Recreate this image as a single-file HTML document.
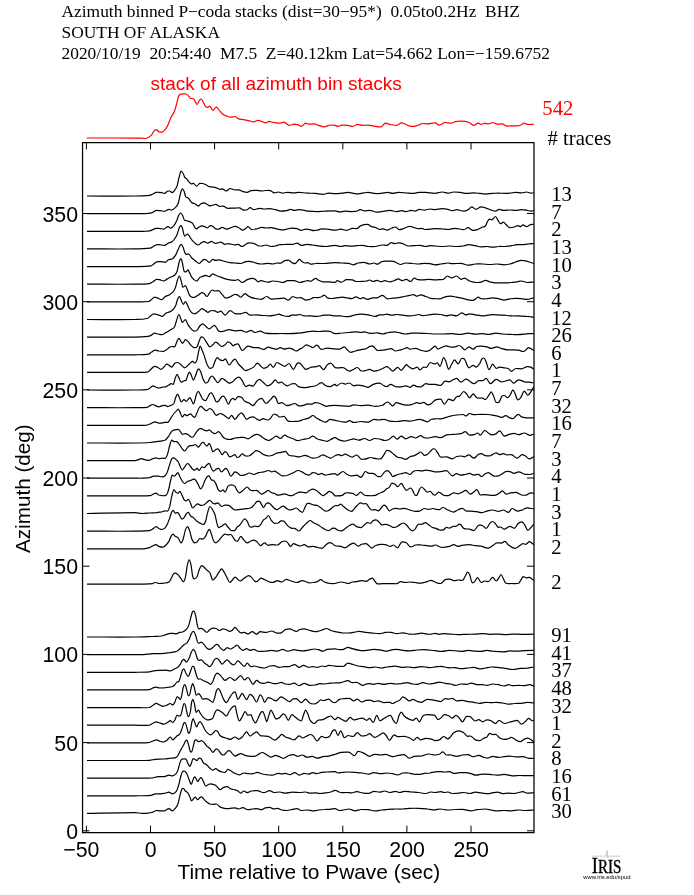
<!DOCTYPE html><html><head><meta charset="utf-8"><title>Azimuth binned P-coda stacks</title>
<style>html,body{margin:0;padding:0;background:#fff}svg{display:block;will-change:transform}.s{font-family:"Liberation Serif",serif}.h{font-family:"Liberation Sans",sans-serif}</style></head><body>
<svg width="694" height="895" viewBox="0 0 694 895">
<rect width="694" height="895" fill="#fff"/>
<g class="s" font-size="17.4" fill="#000">
<text x="61.5" y="16.5" style="white-space:pre">Azimuth binned P−coda stacks (dist=30−95*)  0.05to0.2Hz  BHZ</text>
<text x="61.5" y="37.5">SOUTH OF ALASKA</text>
<text x="61.5" y="59" style="white-space:pre">2020/10/19  20:54:40  M7.5  Z=40.12km Lat=54.662 Lon=−159.6752</text>
</g>
<text class="h" x="150.5" y="89.5" font-size="19" fill="#f00">stack of all azimuth bin stacks</text>
<text class="s" x="542.3" y="114.8" font-size="20.7" fill="#f00">542</text>
<text class="s" x="547.5" y="145.2" font-size="20.7" fill="#000"># traces</text>
<rect x="82.55" y="142.5" width="451.45" height="690.2" fill="none" stroke="#000" stroke-width="1.25" stroke-linejoin="round"/>
<path d="M86.4 832.7 V825.7 M86.4 142.5 V149.5 M150.5 832.7 V825.7 M150.5 142.5 V149.5 M214.6 832.7 V825.7 M214.6 142.5 V149.5 M278.7 832.7 V825.7 M278.7 142.5 V149.5 M342.8 832.7 V825.7 M342.8 142.5 V149.5 M406.9 832.7 V825.7 M406.9 142.5 V149.5 M471.0 832.7 V825.7 M471.0 142.5 V149.5 M82.5 830.8 H89.5 M534.0 830.8 H527.0 M82.5 742.6 H89.5 M534.0 742.6 H527.0 M82.5 654.4 H89.5 M534.0 654.4 H527.0 M82.5 566.2 H89.5 M534.0 566.2 H527.0 M82.5 478.0 H89.5 M534.0 478.0 H527.0 M82.5 389.8 H89.5 M534.0 389.8 H527.0 M82.5 301.7 H89.5 M534.0 301.7 H527.0 M82.5 213.5 H89.5 M534.0 213.5 H527.0" stroke="#000" stroke-width="1" fill="none"/>
<g class="h" font-size="21.3" fill="#000">
<text x="81.4" y="856.7" text-anchor="middle">−50</text>
<text x="150.7" y="856.7" text-anchor="middle">0</text>
<text x="214.8" y="856.7" text-anchor="middle">50</text>
<text x="278.9" y="856.7" text-anchor="middle">100</text>
<text x="343.0" y="856.7" text-anchor="middle">150</text>
<text x="407.1" y="856.7" text-anchor="middle">200</text>
<text x="471.2" y="856.7" text-anchor="middle">250</text>
<text x="78" y="838.8" text-anchor="end">0</text>
<text x="78" y="750.6" text-anchor="end">50</text>
<text x="78" y="662.4" text-anchor="end">100</text>
<text x="78" y="574.2" text-anchor="end">150</text>
<text x="78" y="486.0" text-anchor="end">200</text>
<text x="78" y="397.8" text-anchor="end">250</text>
<text x="78" y="309.7" text-anchor="end">300</text>
<text x="78" y="221.5" text-anchor="end">350</text>
<text x="308.8" y="879.4" font-size="20.9" text-anchor="middle">Time relative to Pwave (sec)</text>
<text transform="translate(29.5,488.7) rotate(-90)" font-size="20.7" text-anchor="middle">Azimuth (deg)</text>
</g>
<path d="M87.0 813.4C103.0 813.1 119.0 812.6 135.0 812.6C137.4 812.6 139.8 813.4 142.2 813.4C143.6 813.4 145.1 813.5 146.5 813.3C148.4 813.1 150.4 812.9 152.3 812.3C153.7 811.9 155.2 810.5 156.6 810.5C157.8 810.5 159.0 810.9 160.2 810.9C161.7 810.9 163.1 811.1 164.5 810.8C166.0 810.4 167.4 808.6 168.9 808.6C170.1 808.6 171.3 810.9 172.5 810.9C173.4 810.9 174.4 809.5 175.3 808.3C176.2 807.2 177.1 806.4 177.9 804.0C178.6 802.1 179.3 797.9 180.0 795.3C180.6 793.0 181.2 790.6 181.8 789.3C182.3 788.3 182.8 788.4 183.3 788.4C184.0 788.4 184.7 790.3 185.4 791.0C186.3 791.9 187.2 792.0 188.0 793.2C188.6 793.9 189.2 795.6 189.8 796.8C190.4 798.1 191.0 800.8 191.6 800.8C192.2 800.8 192.8 799.5 193.4 798.9C194.0 798.3 194.6 797.1 195.2 797.1C196.0 797.1 196.9 799.7 197.7 799.7C198.4 799.7 199.1 798.0 199.8 797.5C200.4 797.1 201.0 796.8 201.6 796.8C202.4 796.8 203.3 798.8 204.2 799.7C205.1 800.6 206.1 801.5 207.0 802.3C208.0 803.0 209.0 803.7 209.9 804.0C211.1 804.4 212.3 804.4 213.5 804.4C214.5 804.4 215.5 804.0 216.4 804.0C217.6 804.0 218.8 806.2 220.0 806.9C221.5 807.7 222.9 808.0 224.3 808.3C225.8 808.6 227.2 808.6 228.7 808.6C230.8 808.6 232.9 807.8 235.0 807.8C236.2 807.8 237.4 809.0 238.6 809.0C240.0 809.0 241.5 807.6 242.9 807.6C244.6 807.6 246.3 809.7 248.0 809.7C249.4 809.7 250.9 809.2 252.3 809.0C253.7 808.8 255.2 808.6 256.6 808.6C258.3 808.6 260.0 809.7 261.7 809.7C262.9 809.7 264.1 808.2 265.3 807.9C266.7 807.4 268.1 807.3 269.6 807.3C271.0 807.3 272.5 809.0 273.9 809.0C275.1 809.0 276.3 808.3 277.5 808.3C278.9 808.3 280.4 809.7 281.8 810.0C283.5 810.4 285.2 810.5 286.9 810.5C288.8 810.5 290.7 809.7 292.6 809.3C294.1 809.0 295.5 808.6 297.0 808.6C298.4 808.6 299.8 810.5 301.3 810.5C303.2 810.5 305.1 810.0 307.0 810.0C309.0 810.0 310.9 810.9 312.8 810.9C314.7 810.9 316.7 810.3 318.6 810.0C320.5 809.8 322.4 809.6 324.3 809.5C326.3 809.3 328.2 809.5 330.1 809.3C331.7 809.2 333.4 808.6 335.0 808.6C336.4 808.6 337.9 810.5 339.3 810.5C340.8 810.5 342.2 810.3 343.6 810.0C345.3 809.8 347.0 809.0 348.7 809.0C350.9 809.0 353.0 810.8 355.2 810.8C357.1 810.8 359.0 809.5 360.9 809.5C363.3 809.5 365.7 809.5 368.1 809.7C370.5 810.0 372.9 810.9 375.3 810.9C377.3 810.9 379.2 810.3 381.1 810.0C383.5 809.7 385.9 809.5 388.3 809.3C390.7 809.1 393.1 809.1 395.5 809.0C397.9 809.0 400.3 809.1 402.7 809.0C405.1 808.9 407.5 808.4 409.9 808.3C412.8 808.2 415.7 808.2 418.6 808.3C421.5 808.4 424.3 808.7 427.2 809.0C429.8 809.3 432.4 809.9 435.0 809.9C436.7 809.9 438.4 809.0 440.0 809.0C442.7 809.0 445.3 810.0 448.0 810.0C450.4 810.0 452.8 809.6 455.2 809.5C457.6 809.3 460.0 809.3 462.4 809.3C465.3 809.3 468.1 810.9 471.0 810.9C472.9 810.9 474.9 810.0 476.8 809.7C479.7 809.4 482.6 809.0 485.4 809.0C487.4 809.0 489.3 809.7 491.2 810.0C493.1 810.3 495.0 810.9 497.0 810.9C499.4 810.9 501.8 810.5 504.2 810.5C506.6 810.5 509.0 810.9 511.4 810.9C513.8 810.9 516.2 810.0 518.6 810.0C521.0 810.0 523.4 810.5 525.8 810.5C528.4 810.5 531.1 810.2 533.7 810.0" stroke="#000" stroke-width="1.2" fill="none" stroke-linejoin="round"/>
<text class="s" x="551.2" y="818.3" font-size="20.7" fill="#000">30</text>
<path d="M87.0 795.8C103.0 795.8 119.0 795.9 135.0 795.8C140.3 795.7 145.6 795.8 150.9 795.3C152.3 795.2 153.7 794.1 155.2 793.9C156.9 793.6 158.5 794.0 160.2 793.9C161.9 793.8 163.6 793.5 165.3 793.2C166.5 792.9 167.7 792.2 168.9 792.2C170.1 792.2 171.3 793.9 172.5 793.9C173.7 793.9 174.9 793.2 176.1 791.7C176.8 790.8 177.5 789.0 178.2 786.7C178.9 784.4 179.7 780.7 180.4 778.0C181.0 775.8 181.6 773.2 182.3 772.0C182.8 770.9 183.4 771.1 184.0 771.1C184.7 771.1 185.4 771.6 186.2 772.6C186.8 773.4 187.4 775.0 188.0 776.6C188.6 778.1 189.2 780.2 189.8 781.6C190.2 782.8 190.7 784.5 191.2 784.5C191.7 784.5 192.2 782.1 192.6 780.9C193.2 779.5 193.8 776.9 194.4 776.9C194.8 776.9 195.3 777.4 195.8 778.0C196.4 778.9 197.1 781.6 197.7 781.6C198.3 781.6 198.9 779.5 199.6 778.8C200.1 778.1 200.7 777.6 201.3 777.6C202.0 777.6 202.7 780.3 203.4 781.6C204.2 783.0 204.9 786.0 205.6 786.0C206.6 786.0 207.5 784.9 208.5 784.5C209.2 784.2 209.9 783.8 210.6 783.8C211.6 783.8 212.6 784.2 213.5 784.5C214.5 784.9 215.5 785.2 216.4 786.0C217.6 786.9 218.8 789.6 220.0 789.6C221.2 789.6 222.4 787.9 223.6 787.4C224.8 786.9 226.0 786.7 227.2 786.7C228.4 786.7 229.6 788.4 230.8 788.9C232.2 789.4 233.6 789.5 235.0 789.9C236.0 790.2 236.9 790.5 237.9 791.0C238.8 791.6 239.8 793.2 240.8 793.2C241.7 793.2 242.7 791.0 243.6 791.0C244.8 791.0 246.0 792.7 247.2 792.7C248.7 792.7 250.1 791.3 251.6 791.0C253.5 790.6 255.4 790.6 257.3 790.6C259.5 790.6 261.7 792.7 263.8 792.7C265.7 792.7 267.7 790.7 269.6 790.7C271.0 790.7 272.5 792.5 273.9 792.5C275.8 792.5 277.7 792.0 279.7 792.0C281.6 792.0 283.5 793.2 285.4 793.2C287.8 793.2 290.2 792.2 292.6 792.2C295.0 792.2 297.4 792.5 299.8 792.5C301.8 792.5 303.7 792.0 305.6 792.0C307.0 792.0 308.5 793.2 309.9 793.2C311.6 793.2 313.3 792.9 315.0 792.9C316.7 792.9 318.3 793.5 320.0 793.5C321.9 793.5 323.9 793.1 325.8 792.9C327.5 792.7 329.1 792.5 330.8 792.0C332.2 791.6 333.6 790.3 335.0 790.3C336.9 790.3 338.8 792.1 340.8 792.5C342.7 792.8 344.6 792.4 346.5 792.5C348.2 792.5 349.9 792.9 351.6 792.9C353.3 792.9 354.9 791.7 356.6 791.7C359.0 791.7 361.4 792.9 363.8 793.2C365.7 793.4 367.7 793.5 369.6 793.2C371.0 792.9 372.5 791.3 373.9 791.3C375.8 791.3 377.7 792.2 379.7 792.2C381.3 792.2 383.0 791.0 384.7 791.0C386.4 791.0 388.1 792.5 389.8 792.5C391.7 792.5 393.6 791.4 395.5 791.4C397.0 791.4 398.4 792.5 399.8 792.5C401.3 792.5 402.7 791.3 404.2 791.3C406.6 791.3 409.0 791.8 411.4 792.0C413.8 792.2 416.2 792.2 418.6 792.5C421.0 792.7 423.4 793.5 425.8 793.5C427.5 793.5 429.1 792.0 430.8 792.0C432.2 792.0 433.6 792.5 435.0 792.5C436.9 792.5 438.8 791.7 440.8 791.7C442.0 791.7 443.2 792.5 444.4 792.5C445.6 792.5 446.8 792.0 448.0 792.0C449.4 792.0 450.9 793.5 452.3 793.5C454.2 793.5 456.1 793.3 458.1 793.2C460.0 793.0 461.9 792.5 463.8 792.5C465.7 792.5 467.7 793.5 469.6 793.5C471.5 793.5 473.4 792.2 475.3 792.2C477.3 792.2 479.2 792.7 481.1 792.9C483.5 793.2 485.9 793.6 488.3 793.6C489.8 793.6 491.2 793.0 492.6 792.7C494.3 792.5 496.0 792.2 497.7 792.2C499.4 792.2 501.0 793.6 502.7 793.6C504.6 793.6 506.6 793.2 508.5 793.2C510.4 793.2 512.3 793.5 514.3 793.5C515.7 793.5 517.1 792.7 518.6 792.5C520.0 792.2 521.5 791.7 522.9 791.7C524.3 791.7 525.8 793.2 527.2 793.2C529.4 793.2 531.5 792.9 533.7 792.7" stroke="#000" stroke-width="1.2" fill="none" stroke-linejoin="round"/>
<text class="s" x="551.2" y="800.7" font-size="20.7" fill="#000">61</text>
<path d="M87.0 778.1C103.0 778.1 119.0 778.2 135.0 778.1C140.8 778.1 146.5 778.1 152.3 777.8C154.2 777.6 156.1 776.8 158.1 776.6C160.2 776.4 162.4 776.9 164.5 776.6C166.0 776.4 167.4 775.2 168.9 775.2C170.1 775.2 171.3 775.9 172.5 775.9C173.7 775.9 174.9 775.0 176.1 773.7C176.7 773.1 177.3 771.9 177.9 770.1C178.5 768.5 179.1 765.4 179.7 763.6C180.2 761.9 180.8 760.2 181.4 759.6C182.3 758.7 183.1 759.0 184.0 759.0C184.7 759.0 185.4 758.5 186.2 759.3C186.8 760.0 187.4 762.4 188.0 763.6C188.6 764.8 189.2 766.5 189.8 766.5C190.3 766.5 190.9 764.3 191.5 762.9C192.0 761.7 192.5 758.6 193.1 758.6C193.6 758.6 194.2 759.0 194.8 759.3C195.5 759.7 196.2 760.5 197.0 760.5C197.7 760.5 198.4 758.2 199.1 758.2C199.7 758.2 200.4 757.9 201.0 758.6C201.8 759.5 202.6 762.0 203.4 762.9C204.4 764.0 205.4 763.6 206.3 764.4C207.5 765.3 208.7 767.2 209.9 768.2C210.9 769.1 211.8 770.1 212.8 770.1C213.8 770.1 214.7 768.7 215.7 768.7C216.7 768.7 217.6 770.1 218.6 770.6C219.8 771.2 221.0 771.7 222.2 772.0C223.1 772.3 224.1 772.3 225.1 772.3C226.0 772.3 227.0 769.4 227.9 769.4C228.9 769.4 229.9 770.3 230.8 770.8C232.2 771.6 233.6 772.8 235.0 773.4C236.4 774.1 237.9 774.9 239.3 774.9C240.8 774.9 242.2 773.0 243.6 773.0C245.3 773.0 247.0 773.6 248.7 773.7C250.1 773.8 251.6 774.0 253.0 773.7C254.5 773.5 255.9 772.3 257.3 772.3C259.0 772.3 260.7 773.6 262.4 774.0C264.3 774.5 266.2 774.7 268.1 774.9C269.6 775.0 271.0 775.2 272.5 775.2C274.4 775.2 276.3 773.4 278.2 773.4C279.4 773.4 280.6 774.0 281.8 774.0C283.0 774.0 284.2 773.3 285.4 773.3C286.9 773.3 288.3 774.7 289.8 774.7C291.4 774.7 293.1 772.6 294.8 772.6C296.2 772.6 297.7 775.2 299.1 775.2C300.8 775.2 302.5 773.3 304.2 773.3C305.6 773.3 307.0 774.2 308.5 774.2C309.9 774.2 311.4 772.6 312.8 772.6C314.0 772.6 315.2 773.7 316.4 773.7C318.1 773.7 319.8 772.6 321.5 772.3C323.4 772.0 325.3 772.1 327.2 772.0C329.8 771.9 332.4 771.6 335.0 771.6C336.0 771.6 336.9 773.0 337.9 773.0C339.3 773.0 340.8 772.4 342.2 772.3C344.1 772.1 346.0 772.0 348.0 772.0C350.4 772.0 352.8 772.1 355.2 772.3C357.6 772.5 360.0 772.7 362.4 773.0C364.5 773.3 366.7 774.2 368.9 774.2C370.3 774.2 371.7 772.6 373.2 772.6C375.8 772.6 378.5 773.7 381.1 773.7C383.0 773.7 385.0 773.0 386.9 773.0C388.8 773.0 390.7 773.4 392.6 773.7C394.3 774.0 396.0 774.9 397.7 774.9C399.4 774.9 401.0 773.3 402.7 773.0C404.6 772.7 406.6 772.8 408.5 773.0C410.2 773.2 411.8 773.9 413.5 774.2C415.2 774.4 416.9 774.4 418.6 774.4C420.5 774.4 422.4 773.7 424.3 773.4C426.3 773.2 428.2 773.3 430.1 773.0C431.7 772.7 433.4 772.0 435.0 771.8C436.9 771.5 438.8 771.6 440.8 771.6C442.2 771.6 443.6 772.0 445.1 772.0C446.5 772.0 448.0 771.6 449.4 771.6C450.9 771.6 452.3 773.4 453.7 773.4C455.7 773.4 457.6 772.8 459.5 772.7C461.4 772.6 463.3 772.5 465.3 772.7C467.2 772.9 469.1 773.3 471.0 773.7C472.7 774.1 474.4 775.2 476.1 775.2C478.2 775.2 480.4 774.2 482.6 774.2C485.0 774.2 487.4 774.3 489.8 774.4C492.2 774.6 494.6 775.2 497.0 775.2C499.4 775.2 501.8 774.4 504.2 774.4C507.0 774.4 509.9 775.9 512.8 775.9C515.2 775.9 517.6 775.5 520.0 775.5C522.4 775.5 524.8 775.6 527.2 775.6C529.4 775.6 531.5 775.6 533.7 775.6" stroke="#000" stroke-width="1.2" fill="none" stroke-linejoin="round"/>
<text class="s" x="551.2" y="783.0" font-size="20.7" fill="#000">16</text>
<path d="M87.0 760.5C103.0 760.5 119.0 760.5 135.0 760.5C139.8 760.5 144.6 760.6 149.4 760.3C151.3 760.2 153.3 759.5 155.2 759.3C158.1 759.1 160.9 759.2 163.8 759.0C166.2 758.9 168.6 758.5 171.0 758.2C172.7 757.9 174.4 758.2 176.1 757.4C176.8 757.1 177.5 756.2 178.2 755.0C179.2 753.4 180.1 751.0 181.1 749.2C182.1 747.4 183.0 746.0 184.0 744.2C184.6 743.1 185.1 741.2 185.7 740.6C186.2 740.0 186.7 739.9 187.2 740.6C187.6 741.3 188.1 743.2 188.6 744.9C189.1 746.8 189.7 750.2 190.2 751.4C190.7 752.5 191.1 751.8 191.6 751.8C192.1 751.8 192.6 748.8 193.1 747.1C193.6 745.0 194.2 741.9 194.8 740.6C195.3 739.5 195.8 739.9 196.2 739.9C197.0 739.9 197.7 741.7 198.4 741.7C199.4 741.7 200.3 740.6 201.3 740.6C202.2 740.6 203.2 741.8 204.2 742.7C205.1 743.7 206.1 745.4 207.0 746.3C208.0 747.3 209.0 747.5 209.9 748.5C210.9 749.5 211.8 752.4 212.8 752.4C214.0 752.4 215.2 748.9 216.4 748.9C217.1 748.9 217.9 749.6 218.6 750.4C219.5 751.4 220.5 753.4 221.5 754.3C222.2 754.9 222.9 755.0 223.6 755.0C224.8 755.0 226.0 752.3 227.2 751.4C227.9 750.8 228.7 750.7 229.4 750.7C230.3 750.7 231.3 752.6 232.3 753.6C233.2 754.4 234.1 756.1 235.0 756.1C236.9 756.1 238.8 753.6 240.8 753.6C242.4 753.6 244.1 755.2 245.8 755.7C247.5 756.2 249.2 756.4 250.9 756.4C252.3 756.4 253.7 756.6 255.2 756.1C256.6 755.7 258.1 754.3 259.5 753.6C260.5 753.1 261.4 752.5 262.4 752.5C263.6 752.5 264.8 753.6 266.0 754.3C267.7 755.2 269.3 757.2 271.0 757.2C272.5 757.2 273.9 755.4 275.3 755.4C276.5 755.4 277.7 756.0 278.9 756.4C280.4 757.0 281.8 758.3 283.3 758.3C285.0 758.3 286.6 756.3 288.3 755.7C290.0 755.1 291.7 754.7 293.4 754.7C294.8 754.7 296.2 756.4 297.7 756.4C299.1 756.4 300.6 755.0 302.0 755.0C303.7 755.0 305.4 757.2 307.0 757.2C308.7 757.2 310.4 756.4 312.1 756.4C313.8 756.4 315.5 758.2 317.1 758.2C319.1 758.2 321.0 757.1 322.9 756.7C324.8 756.4 326.7 756.5 328.7 756.1C330.8 755.7 332.9 754.9 335.0 754.3C336.9 753.7 338.8 752.7 340.8 752.4C343.4 752.0 346.0 752.1 348.7 752.1C350.6 752.1 352.5 755.7 354.5 755.7C355.7 755.7 356.9 751.4 358.1 751.4C360.0 751.4 361.9 752.3 363.8 753.1C365.7 754.0 367.7 756.4 369.6 756.4C371.3 756.4 372.9 754.3 374.6 754.3C376.8 754.3 378.9 755.0 381.1 755.0C382.6 755.0 384.0 754.3 385.4 754.3C387.8 754.3 390.2 756.7 392.6 756.7C394.6 756.7 396.5 755.6 398.4 755.3C400.3 754.9 402.2 754.6 404.2 754.6C405.8 754.6 407.5 758.2 409.2 758.2C410.9 758.2 412.6 756.7 414.3 756.4C416.7 756.0 419.1 756.4 421.5 756.0C423.9 755.6 426.3 754.0 428.7 754.0C430.8 754.0 432.9 755.0 435.0 755.0C436.4 755.0 437.9 754.8 439.3 754.3C440.5 753.8 441.7 751.8 442.9 751.8C443.9 751.8 444.8 754.3 445.8 754.7C447.5 755.4 449.2 754.7 450.9 755.0C452.8 755.3 454.7 756.4 456.6 756.4C458.5 756.4 460.5 755.3 462.4 755.0C464.3 754.7 466.2 754.7 468.1 754.7C469.8 754.7 471.5 756.7 473.2 756.7C475.1 756.7 477.0 755.4 478.9 755.4C480.4 755.4 481.8 756.7 483.3 757.2C484.7 757.6 486.2 758.2 487.6 758.2C489.3 758.2 491.0 756.4 492.6 756.4C494.6 756.4 496.5 757.4 498.4 757.4C500.3 757.4 502.2 756.9 504.2 756.7C506.1 756.5 508.0 756.1 509.9 756.1C511.8 756.1 513.8 756.9 515.7 756.9C518.1 756.9 520.5 756.7 522.9 756.7C524.8 756.7 526.7 758.0 528.7 758.3C530.3 758.6 532.0 758.3 533.7 758.3" stroke="#000" stroke-width="1.2" fill="none" stroke-linejoin="round"/>
<text class="s" x="551.2" y="765.4" font-size="20.7" fill="#000">8</text>
<path d="M87.0 742.8C103.0 742.8 119.0 742.9 135.0 742.8C139.3 742.8 143.6 743.1 148.0 742.7C149.4 742.6 150.9 741.8 152.3 741.3C153.7 740.8 155.2 739.9 156.6 739.9C157.8 739.9 159.0 740.9 160.2 741.3C161.2 741.6 162.1 742.0 163.1 742.0C164.3 742.0 165.5 741.4 166.7 740.6C167.9 739.7 169.1 737.0 170.3 737.0C171.1 737.0 171.9 739.9 172.8 739.9C173.4 739.9 174.0 739.0 174.6 738.4C175.6 737.5 176.5 736.4 177.5 735.5C178.2 734.9 178.9 735.2 179.7 734.1C180.4 733.0 181.1 731.0 181.8 729.1C182.5 727.4 183.1 724.5 183.7 723.3C184.2 722.4 184.7 722.6 185.1 722.6C185.7 722.6 186.3 725.8 186.9 727.6C187.4 729.4 188.0 733.4 188.6 733.4C189.2 733.4 189.9 731.9 190.5 729.8C191.0 728.1 191.4 723.9 191.9 721.9C192.3 720.2 192.7 718.7 193.1 718.7C193.6 718.7 194.2 721.3 194.8 722.6C195.4 724.0 196.0 726.9 196.7 726.9C197.2 726.9 197.8 724.2 198.4 723.3C199.0 722.4 199.6 721.6 200.1 721.6C200.9 721.6 201.7 723.4 202.4 724.7C203.3 726.1 204.1 728.5 204.9 729.8C205.8 731.3 206.8 732.5 207.8 733.4C208.7 734.2 209.7 734.8 210.6 734.8C211.6 734.8 212.6 733.5 213.5 732.7C214.3 732.0 215.0 730.5 215.7 730.5C216.3 730.5 216.8 730.5 217.4 731.2C218.3 732.2 219.1 734.7 220.0 735.5C221.2 736.7 222.4 736.9 223.6 737.4C224.8 737.9 226.0 738.0 227.2 738.4C228.2 738.7 229.1 739.4 230.1 739.4C231.7 739.4 233.4 737.0 235.0 737.0C236.2 737.0 237.4 739.1 238.6 739.1C239.8 739.1 241.0 738.1 242.2 737.0C243.6 735.7 245.1 731.9 246.5 731.9C247.7 731.9 248.9 736.0 250.1 736.0C251.3 736.0 252.5 734.1 253.7 733.4C254.7 732.8 255.7 731.9 256.6 731.9C257.8 731.9 259.0 734.9 260.2 735.5C261.4 736.2 262.6 735.8 263.8 736.0C265.7 736.3 267.7 736.3 269.6 737.0C271.4 737.7 273.2 740.1 275.1 740.1C276.1 740.1 277.2 738.6 278.2 737.7C279.4 736.7 280.6 734.4 281.8 734.4C283.0 734.4 284.2 736.4 285.4 737.0C286.9 737.7 288.3 737.9 289.8 738.4C291.2 738.9 292.6 739.9 294.1 739.9C295.8 739.9 297.4 735.8 299.1 735.8C300.3 735.8 301.5 738.0 302.7 738.0C303.9 738.0 305.1 736.8 306.3 736.3C307.8 735.6 309.2 734.5 310.6 734.5C311.6 734.5 312.6 735.3 313.5 736.3C314.7 737.5 315.9 741.0 317.1 741.0C318.6 741.0 320.0 736.3 321.5 736.3C322.7 736.3 323.9 737.7 325.1 737.7C326.5 737.7 327.9 737.9 329.4 736.5C330.6 735.5 331.8 731.9 333.0 730.5C333.7 729.7 334.3 729.8 335.0 729.8C336.0 729.8 336.9 735.5 337.9 735.5C338.8 735.5 339.8 730.8 340.8 730.8C342.0 730.8 343.2 737.7 344.4 737.7C345.6 737.7 346.8 735.5 348.0 735.5C349.6 735.5 351.3 736.5 353.0 736.5C354.5 736.5 355.9 732.7 357.3 732.7C358.8 732.7 360.2 736.0 361.7 736.0C363.1 736.0 364.5 736.0 366.0 735.5C367.2 735.2 368.4 733.7 369.6 733.7C371.3 733.7 372.9 737.4 374.6 737.4C376.1 737.4 377.5 736.3 378.9 735.5C380.4 734.8 381.8 732.9 383.3 732.9C384.2 732.9 385.2 734.4 386.2 735.5C387.3 736.8 388.4 740.3 389.5 740.3C391.0 740.3 392.5 734.8 394.1 734.8C395.3 734.8 396.5 736.7 397.7 736.7C399.8 736.7 402.0 736.3 404.2 736.3C406.1 736.3 408.0 737.2 409.9 738.0C411.1 738.5 412.3 740.3 413.5 740.3C414.7 740.3 415.9 737.4 417.1 737.4C418.3 737.4 419.5 739.9 420.7 739.9C422.4 739.9 424.1 738.4 425.8 738.4C427.7 738.4 429.6 738.7 431.5 739.1C432.7 739.4 433.8 740.6 435.0 740.6C436.4 740.6 437.9 740.5 439.3 739.9C440.8 739.2 442.2 736.5 443.6 736.5C445.1 736.5 446.5 738.9 448.0 738.9C448.9 738.9 449.9 737.3 450.9 736.3C451.8 735.2 452.8 733.3 453.7 732.7C455.4 731.5 457.1 730.9 458.8 730.9C460.5 730.9 462.1 731.6 463.8 732.7C465.0 733.4 466.2 736.3 467.4 736.3C468.4 736.3 469.3 736.0 470.3 736.0C472.0 736.0 473.7 739.0 475.3 739.9C476.8 740.6 478.2 740.6 479.7 740.6C481.1 740.6 482.6 738.7 484.0 738.0C485.0 737.5 485.9 737.7 486.9 737.0C487.8 736.2 488.8 733.4 489.8 733.4C490.7 733.4 491.7 734.4 492.6 734.5C493.8 734.7 495.0 734.0 496.2 734.5C497.4 735.1 498.6 737.2 499.8 738.0C501.3 738.9 502.7 739.4 504.2 739.4C505.4 739.4 506.6 739.2 507.8 738.9C509.0 738.5 510.2 737.3 511.4 737.3C512.8 737.3 514.3 739.1 515.7 739.9C517.1 740.6 518.6 741.6 520.0 741.6C521.5 741.6 522.9 739.8 524.3 739.1C525.5 738.6 526.7 738.1 527.9 738.1C528.9 738.1 529.9 738.9 530.8 739.6C531.8 740.2 532.7 741.2 533.7 742.0" stroke="#000" stroke-width="1.2" fill="none" stroke-linejoin="round"/>
<text class="s" x="551.2" y="747.8" font-size="20.7" fill="#000">2</text>
<path d="M87.0 725.2C103.0 725.2 119.0 725.2 135.0 725.2C139.8 725.2 144.6 725.6 149.4 725.1C150.6 724.9 151.8 723.8 153.0 723.2C154.1 722.7 155.2 721.8 156.3 721.8C157.4 721.8 158.4 722.4 159.5 722.8C160.9 723.2 162.4 724.2 163.8 724.2C165.0 724.2 166.2 723.1 167.4 722.5C168.4 722.0 169.3 720.7 170.3 720.7C171.1 720.7 171.9 722.5 172.8 722.5C173.5 722.5 174.3 720.9 175.1 719.6C175.7 718.4 176.4 715.0 177.1 715.0C177.7 715.0 178.3 716.0 178.9 716.0C179.6 716.0 180.2 716.5 180.8 715.3C181.3 714.3 181.8 711.3 182.3 709.5C182.8 707.4 183.4 703.5 184.0 703.5C184.5 703.5 185.0 703.6 185.4 705.2C186.0 707.1 186.6 711.7 187.2 713.8C187.6 715.6 188.1 716.7 188.6 716.7C189.2 716.7 189.9 713.9 190.5 711.0C190.9 709.1 191.2 704.1 191.6 702.3C192.1 700.3 192.5 699.4 192.9 699.4C193.4 699.4 193.9 701.9 194.4 703.7C195.0 706.2 195.6 712.4 196.2 712.4C197.0 712.4 197.7 710.2 198.4 710.2C199.1 710.2 199.8 712.8 200.6 713.8C201.5 715.2 202.5 716.5 203.4 717.4C204.6 718.6 205.8 719.9 207.0 719.9C208.0 719.9 209.0 719.9 209.9 719.6C210.9 719.3 211.8 719.5 212.8 718.2C213.5 717.1 214.3 713.8 215.0 712.4C215.7 711.0 216.4 709.8 217.1 709.8C218.1 709.8 219.1 710.4 220.0 711.0C221.0 711.5 221.9 712.4 222.9 713.1C224.1 714.0 225.3 716.0 226.5 716.0C227.5 716.0 228.4 712.4 229.4 711.0C230.3 709.5 231.3 708.2 232.3 707.3C233.2 706.5 234.1 705.9 235.0 705.9C235.7 705.9 236.4 712.8 237.2 715.3C237.9 717.8 238.6 721.0 239.3 721.0C240.3 721.0 241.2 718.3 242.2 716.7C243.2 715.2 244.1 711.7 245.1 711.7C246.0 711.7 247.0 715.3 248.0 715.3C248.9 715.3 249.9 714.6 250.9 714.6C251.6 714.6 252.3 718.3 253.0 719.6C253.8 721.1 254.6 722.9 255.5 722.9C256.3 722.9 257.2 719.8 258.1 718.2C259.0 716.3 260.0 713.7 260.9 712.4C261.5 711.6 262.1 711.7 262.7 711.7C263.3 711.7 263.9 713.7 264.5 715.3C265.3 717.1 266.0 721.8 266.7 721.8C267.4 721.8 268.1 717.2 268.9 715.3C269.6 713.4 270.3 710.2 271.0 710.2C271.7 710.2 272.5 712.6 273.2 713.8C274.1 715.5 275.1 718.9 276.1 718.9C277.3 718.9 278.5 718.3 279.7 717.4C280.9 716.6 282.1 713.8 283.3 713.8C284.0 713.8 284.7 714.3 285.4 715.3C286.4 716.5 287.4 720.3 288.3 720.3C289.5 720.3 290.7 714.6 291.9 714.6C292.9 714.6 293.8 716.0 294.8 716.7C296.0 717.6 297.2 718.8 298.4 719.6C299.4 720.2 300.3 721.0 301.3 721.0C302.0 721.0 302.7 717.1 303.4 715.3C304.2 713.5 304.9 710.2 305.6 710.2C306.3 710.2 307.0 712.2 307.8 713.8C308.5 715.4 309.2 718.8 309.9 719.9C311.4 722.0 312.8 723.5 314.3 723.5C315.5 723.5 316.7 720.9 317.9 720.3C319.5 719.6 321.2 720.1 322.9 719.6C324.3 719.2 325.8 718.1 327.2 717.4C328.4 716.9 329.6 716.0 330.8 716.0C332.2 716.0 333.6 719.6 335.0 719.6C336.0 719.6 336.9 717.4 337.9 717.4C339.1 717.4 340.3 718.7 341.5 719.3C342.9 720.0 344.4 721.3 345.8 721.3C347.2 721.3 348.7 717.4 350.1 717.4C351.3 717.4 352.5 719.9 353.7 719.9C355.2 719.9 356.6 719.2 358.1 718.9C359.5 718.6 360.9 718.2 362.4 718.2C363.8 718.2 365.3 720.3 366.7 720.3C367.7 720.3 368.6 718.4 369.6 718.4C370.8 718.4 372.0 722.5 373.2 722.5C374.4 722.5 375.6 715.3 376.8 715.3C377.7 715.3 378.7 720.7 379.7 720.7C380.9 720.7 382.1 719.5 383.3 718.9C384.5 718.2 385.7 717.3 386.9 716.7C388.1 716.1 389.3 715.3 390.5 715.3C391.4 715.3 392.4 718.9 393.4 720.3C394.3 721.7 395.3 723.5 396.2 723.5C397.2 723.5 398.2 717.4 399.1 715.3C399.8 713.6 400.6 712.1 401.3 712.1C402.2 712.1 403.2 715.1 404.2 716.0C405.6 717.3 407.0 718.2 408.5 718.9C409.9 719.6 411.4 720.3 412.8 720.3C414.0 720.3 415.2 718.2 416.4 718.2C417.4 718.2 418.3 721.8 419.3 721.8C420.5 721.8 421.7 717.1 422.9 716.0C424.3 714.7 425.8 714.6 427.2 714.6C428.4 714.6 429.6 714.7 430.8 714.8C432.2 715.0 433.6 714.7 435.0 715.6C436.0 716.3 436.9 719.6 437.9 719.6C439.1 719.6 440.3 718.4 441.5 717.4C442.4 716.7 443.4 714.6 444.4 714.6C445.8 714.6 447.2 715.1 448.7 715.7C449.9 716.3 451.1 718.2 452.3 718.2C453.5 718.2 454.7 715.3 455.9 715.3C456.9 715.3 457.8 716.5 458.8 717.4C460.0 718.6 461.2 721.8 462.4 721.8C463.8 721.8 465.3 716.4 466.7 716.4C467.9 716.4 469.1 716.1 470.3 716.7C472.0 717.6 473.7 721.0 475.3 721.0C476.5 721.0 477.7 719.6 478.9 719.6C480.1 719.6 481.3 721.8 482.6 721.8C484.0 721.8 485.4 719.9 486.9 719.9C488.3 719.9 489.8 720.1 491.2 720.7C492.6 721.4 494.1 723.6 495.5 723.6C496.7 723.6 497.9 720.3 499.1 720.3C500.8 720.3 502.5 723.5 504.2 723.5C505.6 723.5 507.0 722.8 508.5 722.5C509.9 722.1 511.4 721.7 512.8 721.3C514.3 721.0 515.7 720.3 517.1 720.3C518.6 720.3 520.0 724.2 521.5 724.2C522.7 724.2 523.9 722.7 525.1 721.8C526.3 720.8 527.5 718.4 528.7 718.4C529.6 718.4 530.6 719.8 531.5 720.3C532.3 720.7 533.0 720.8 533.7 721.0" stroke="#000" stroke-width="1.2" fill="none" stroke-linejoin="round"/>
<text class="s" x="551.2" y="730.1" font-size="20.7" fill="#000">1</text>
<path d="M87.0 707.6C103.0 707.6 119.0 707.6 135.0 707.6C139.8 707.6 144.6 708.1 149.4 707.5C150.6 707.3 151.8 705.9 153.0 705.2C154.1 704.5 155.2 703.3 156.3 703.3C157.4 703.3 158.4 704.4 159.5 704.9C160.7 705.4 161.9 706.3 163.1 706.3C164.5 706.3 166.0 705.5 167.4 704.9C168.4 704.5 169.3 703.5 170.3 703.5C171.1 703.5 171.9 704.9 172.8 704.9C173.5 704.9 174.3 703.0 175.1 701.6C175.7 700.3 176.4 696.8 177.1 696.8C177.7 696.8 178.3 697.4 178.9 698.0C179.4 698.4 179.9 699.7 180.4 699.7C180.9 699.7 181.3 697.2 181.8 695.1C182.3 693.0 182.8 688.9 183.3 687.2C183.8 685.4 184.2 684.7 184.7 684.7C185.3 684.7 185.9 686.8 186.4 688.6C187.1 690.5 187.7 695.8 188.3 695.8C188.8 695.8 189.3 695.7 189.8 694.4C190.2 693.1 190.7 689.7 191.2 687.9C191.7 686.1 192.2 683.6 192.6 683.6C193.2 683.6 193.8 686.1 194.4 687.9C195.0 689.9 195.6 695.1 196.2 695.1C197.1 695.1 197.9 693.7 198.7 693.7C199.3 693.7 199.9 695.0 200.6 695.8C201.3 696.8 202.0 699.1 202.7 699.1C203.7 699.1 204.6 698.7 205.6 698.7C206.8 698.7 208.0 699.1 209.2 699.7C210.4 700.3 211.6 702.3 212.8 702.3C213.4 702.3 214.0 699.8 214.5 698.0C215.2 696.0 215.8 692.3 216.4 690.8C217.0 689.2 217.7 688.6 218.3 688.6C219.1 688.6 219.9 690.6 220.7 692.2C221.7 694.2 222.7 697.7 223.6 699.4C224.6 701.2 225.5 702.6 226.5 702.6C227.5 702.6 228.4 699.5 229.4 698.0C230.3 696.5 231.3 694.7 232.3 693.7C233.2 692.7 234.1 691.9 235.0 691.9C236.0 691.9 236.9 699.4 237.9 699.4C239.3 699.4 240.8 693.4 242.2 693.4C243.6 693.4 245.1 699.7 246.5 699.7C247.7 699.7 248.9 694.4 250.1 694.4C251.1 694.4 252.1 695.4 253.0 696.5C254.2 698.0 255.4 702.0 256.6 702.0C257.8 702.0 259.0 694.8 260.2 694.8C260.9 694.8 261.7 696.0 262.4 697.3C263.1 698.5 263.8 702.3 264.5 702.3C265.7 702.3 266.9 697.7 268.1 697.7C269.3 697.7 270.5 698.2 271.7 698.7C273.2 699.3 274.6 700.9 276.1 700.9C277.7 700.9 279.4 696.8 281.1 696.8C282.3 696.8 283.5 698.0 284.7 698.7C286.4 699.6 288.1 701.6 289.8 701.6C290.7 701.6 291.7 699.6 292.6 699.1C293.8 698.6 295.0 698.7 296.2 698.7C297.9 698.7 299.6 702.6 301.3 702.6C302.7 702.6 304.2 699.1 305.6 699.1C306.8 699.1 308.0 702.1 309.2 702.7C310.9 703.7 312.6 704.0 314.3 704.0C315.5 704.0 316.7 703.1 317.9 702.3C318.8 701.7 319.8 699.9 320.7 699.9C321.7 699.9 322.7 700.6 323.6 700.6C325.3 700.6 327.0 699.1 328.7 699.1C329.9 699.1 331.1 701.4 332.3 702.0C333.2 702.5 334.1 702.6 335.0 702.6C336.4 702.6 337.9 700.1 339.3 699.4C340.8 698.8 342.2 698.8 343.6 698.7C345.6 698.5 347.5 698.4 349.4 698.4C350.9 698.4 352.3 700.9 353.7 700.9C354.9 700.9 356.1 699.1 357.3 699.1C358.8 699.1 360.2 702.0 361.7 702.0C363.1 702.0 364.5 700.7 366.0 700.4C367.4 700.1 368.9 700.1 370.3 700.1C371.5 700.1 372.7 701.6 373.9 701.6C375.3 701.6 376.8 700.9 378.2 700.9C380.1 700.9 382.1 702.6 384.0 702.6C385.9 702.6 387.8 702.3 389.8 702.3C390.7 702.3 391.7 703.5 392.6 703.5C394.1 703.5 395.5 702.0 397.0 701.3C397.9 700.9 398.9 700.9 399.8 700.1C400.8 699.4 401.8 696.8 402.7 696.8C403.7 696.8 404.6 697.7 405.6 698.3C406.8 699.0 408.0 700.9 409.2 700.9C410.4 700.9 411.6 699.4 412.8 699.4C414.3 699.4 415.7 700.8 417.1 701.3C418.6 701.8 420.0 702.3 421.5 702.3C423.4 702.3 425.3 699.4 427.2 699.4C429.8 699.4 432.4 699.9 435.0 700.3C436.9 700.6 438.8 701.6 440.8 701.6C442.2 701.6 443.6 698.7 445.1 698.7C446.3 698.7 447.5 699.1 448.7 699.1C449.9 699.1 451.1 698.4 452.3 698.4C453.7 698.4 455.2 700.9 456.6 700.9C458.5 700.9 460.5 700.4 462.4 700.4C464.3 700.4 466.2 701.3 468.1 701.6C470.1 701.9 472.0 702.0 473.9 702.3C475.8 702.6 477.7 703.3 479.7 703.3C481.6 703.3 483.5 702.3 485.4 702.3C487.4 702.3 489.3 702.7 491.2 702.7C493.1 702.7 495.0 702.3 497.0 702.3C498.9 702.3 500.8 702.7 502.7 703.0C504.6 703.3 506.6 704.2 508.5 704.2C510.4 704.2 512.3 703.6 514.3 703.5C516.7 703.3 519.1 703.5 521.5 703.3C523.4 703.1 525.3 702.3 527.2 702.3C529.4 702.3 531.5 702.8 533.7 703.0" stroke="#000" stroke-width="1.2" fill="none" stroke-linejoin="round"/>
<text class="s" x="551.2" y="712.5" font-size="20.7" fill="#000">32</text>
<path d="M87.0 689.9C103.0 689.9 119.0 690.0 135.0 689.9C139.8 689.9 144.6 690.2 149.4 689.6C150.6 689.5 151.8 688.3 153.0 687.9C154.0 687.5 154.9 687.2 155.9 687.2C157.1 687.2 158.3 687.8 159.5 687.9C160.9 688.0 162.4 688.0 163.8 687.9C165.5 687.8 167.2 687.4 168.9 687.2C170.2 687.0 171.5 686.9 172.8 686.5C173.4 686.2 174.0 685.7 174.6 685.0C175.3 684.2 176.1 682.7 176.8 682.1C177.5 681.5 178.2 682.6 178.9 681.4C179.6 680.4 180.2 677.6 180.8 675.6C181.4 673.8 182.0 671.1 182.6 669.9C183.0 668.9 183.5 669.2 184.0 669.2C184.6 669.2 185.1 671.8 185.7 672.8C186.6 674.2 187.4 676.4 188.3 676.4C189.0 676.4 189.8 673.0 190.5 671.3C191.2 669.6 191.9 666.3 192.6 666.3C193.1 666.3 193.6 666.0 194.1 667.0C194.6 668.0 195.0 670.5 195.5 672.0C196.2 674.4 197.0 677.5 197.7 678.5C198.6 679.8 199.6 678.6 200.6 679.0C201.5 679.3 202.5 680.2 203.4 680.7C204.6 681.3 205.8 681.5 207.0 682.1C208.2 682.7 209.4 684.3 210.6 684.3C211.4 684.3 212.1 682.9 212.8 681.4C213.5 680.0 214.3 677.0 215.0 675.6C215.7 674.3 216.4 673.2 217.1 673.2C218.1 673.2 219.1 674.0 220.0 674.9C221.0 675.8 221.9 677.5 222.9 678.5C223.6 679.3 224.3 680.4 225.1 680.4C226.0 680.4 227.0 679.1 227.9 678.5C228.7 678.1 229.4 677.5 230.1 677.5C231.7 677.5 233.4 680.4 235.0 680.4C236.0 680.4 236.9 678.6 237.9 677.8C238.8 677.0 239.8 675.6 240.8 675.6C242.0 675.6 243.2 680.0 244.4 680.0C245.6 680.0 246.8 677.5 248.0 677.5C248.7 677.5 249.4 679.0 250.1 680.0C251.1 681.3 252.1 684.3 253.0 684.3C254.2 684.3 255.4 680.4 256.6 680.4C257.8 680.4 259.0 682.4 260.2 682.9C261.4 683.3 262.6 683.3 263.8 683.3C265.3 683.3 266.7 682.1 268.1 682.1C269.6 682.1 271.0 683.0 272.5 683.3C273.9 683.5 275.3 683.6 276.8 683.6C278.2 683.6 279.7 682.4 281.1 682.4C282.6 682.4 284.0 683.7 285.4 684.0C286.9 684.3 288.3 684.3 289.8 684.3C291.2 684.3 292.6 683.1 294.1 683.1C295.8 683.1 297.4 685.7 299.1 685.7C300.8 685.7 302.5 683.3 304.2 683.3C306.1 683.3 308.0 685.4 309.9 685.4C311.6 685.4 313.3 685.3 315.0 685.0C316.7 684.7 318.3 683.6 320.0 683.6C321.5 683.6 322.9 684.0 324.3 684.0C326.3 684.0 328.2 683.3 330.1 683.1C331.7 683.0 333.4 682.9 335.0 682.9C336.9 682.7 338.8 682.9 340.8 682.6C343.2 682.2 345.6 680.7 348.0 680.7C349.4 680.7 350.9 682.6 352.3 682.6C353.7 682.6 355.2 682.4 356.6 682.4C358.5 682.4 360.5 685.3 362.4 685.3C364.3 685.3 366.2 683.6 368.1 683.6C370.1 683.6 372.0 684.3 373.9 684.3C375.3 684.3 376.8 683.3 378.2 683.3C380.1 683.3 382.1 684.3 384.0 684.3C385.9 684.3 387.8 683.3 389.8 683.3C391.7 683.3 393.6 684.0 395.5 684.0C397.4 684.0 399.4 683.8 401.3 683.6C403.2 683.3 405.1 682.6 407.0 682.6C409.0 682.6 410.9 683.7 412.8 684.0C414.3 684.3 415.7 684.3 417.1 684.3C419.1 684.3 421.0 682.6 422.9 682.6C424.8 682.6 426.7 684.0 428.7 684.0C430.8 684.0 432.9 683.5 435.0 683.1C436.4 682.9 437.9 682.1 439.3 682.1C441.2 682.1 443.2 683.0 445.1 683.3C447.0 683.6 448.9 683.6 450.9 684.0C452.3 684.3 453.7 685.4 455.2 685.4C457.1 685.4 459.0 684.0 460.9 684.0C462.9 684.0 464.8 684.3 466.7 684.3C468.1 684.3 469.6 683.1 471.0 683.1C472.9 683.1 474.9 684.3 476.8 684.6C478.7 684.8 480.6 684.6 482.6 684.7C484.0 684.8 485.4 685.4 486.9 685.4C488.8 685.4 490.7 684.0 492.6 684.0C494.6 684.0 496.5 684.4 498.4 684.7C500.3 685.1 502.2 686.0 504.2 686.0C505.6 686.0 507.0 684.7 508.5 684.7C509.9 684.7 511.4 685.7 512.8 685.7C514.7 685.7 516.7 685.3 518.6 685.3C520.5 685.3 522.4 685.7 524.3 685.7C526.0 685.7 527.7 684.6 529.4 684.6C530.8 684.6 532.3 685.6 533.7 686.2" stroke="#000" stroke-width="1.2" fill="none" stroke-linejoin="round"/>
<text class="s" x="551.2" y="694.9" font-size="20.7" fill="#000">48</text>
<path d="M87.0 672.3C103.0 672.3 119.0 672.4 135.0 672.3C139.8 672.2 144.6 672.2 149.4 671.8C151.3 671.6 153.3 670.8 155.2 670.6C157.1 670.4 159.0 670.4 160.9 670.3C162.6 670.2 164.3 670.2 166.0 670.2C167.4 670.2 168.9 670.9 170.3 670.9C171.5 670.9 172.7 669.7 173.9 669.2C175.1 668.6 176.3 668.4 177.5 667.4C178.5 666.7 179.4 665.5 180.4 664.1C181.0 663.2 181.6 661.3 182.3 660.5C182.8 659.8 183.4 659.4 184.0 659.4C184.7 659.4 185.4 662.0 186.2 662.0C187.1 662.0 188.1 660.1 189.0 658.4C189.8 657.0 190.5 654.1 191.2 652.6C191.9 651.1 192.6 649.3 193.4 649.3C194.1 649.3 194.8 650.9 195.5 652.6C196.1 653.9 196.7 657.1 197.2 658.4C197.9 659.7 198.5 660.5 199.1 660.5C199.8 660.5 200.6 659.8 201.3 659.8C202.2 659.8 203.2 661.8 204.2 662.7C205.1 663.5 206.1 664.2 207.0 664.8C208.0 665.5 209.0 666.6 209.9 666.6C210.6 666.6 211.4 665.2 212.1 664.1C212.8 663.0 213.5 660.7 214.3 659.8C215.1 658.8 216.0 658.4 216.8 658.4C217.7 658.4 218.5 659.6 219.3 660.5C220.3 661.6 221.2 664.1 222.2 664.1C223.1 664.1 224.1 662.1 225.1 661.2C225.8 660.6 226.5 659.8 227.2 659.8C228.2 659.8 229.1 661.8 230.1 662.7C231.1 663.5 232.0 664.8 233.0 664.8C233.7 664.8 234.3 664.7 235.0 664.1C236.0 663.3 236.9 660.8 237.9 660.8C239.1 660.8 240.3 663.1 241.5 664.1C242.4 664.9 243.4 666.3 244.4 666.3C245.3 666.3 246.3 663.1 247.2 663.1C248.4 663.1 249.6 666.6 250.9 666.6C252.1 666.6 253.3 666.0 254.5 666.0C255.7 666.0 256.9 666.8 258.1 667.0C260.2 667.4 262.4 668.0 264.5 668.0C266.2 668.0 267.9 666.4 269.6 666.0C271.0 665.6 272.5 665.6 273.9 665.6C275.6 665.6 277.3 667.4 278.9 667.4C280.6 667.4 282.3 666.9 284.0 666.7C285.9 666.5 287.8 666.7 289.8 666.3C291.4 665.9 293.1 664.6 294.8 664.6C296.2 664.6 297.7 667.4 299.1 667.4C300.6 667.4 302.0 665.3 303.4 665.3C305.1 665.3 306.8 667.4 308.5 667.4C309.9 667.4 311.4 666.6 312.8 666.6C314.3 666.6 315.7 667.4 317.1 667.4C318.8 667.4 320.5 666.0 322.2 666.0C323.1 666.0 324.1 666.6 325.1 666.6C326.3 666.6 327.5 665.3 328.7 665.3C330.8 665.3 332.9 665.9 335.0 666.1C336.4 666.3 337.9 666.3 339.3 666.3C340.8 666.3 342.2 666.8 343.6 666.3C345.1 665.8 346.5 663.1 348.0 663.1C349.2 663.1 350.4 663.8 351.6 664.1C353.7 664.7 355.9 665.5 358.1 666.0C360.0 666.4 361.9 666.4 363.8 666.7C365.7 667.0 367.7 667.7 369.6 667.7C371.5 667.7 373.4 667.0 375.3 667.0C377.3 667.0 379.2 668.0 381.1 668.0C383.0 668.0 385.0 667.3 386.9 667.0C388.8 666.7 390.7 666.4 392.6 666.3C394.1 666.2 395.5 666.1 397.0 666.3C398.9 666.5 400.8 667.4 402.7 667.4C404.6 667.4 406.6 667.0 408.5 667.0C410.4 667.0 412.3 667.7 414.3 667.7C416.7 667.7 419.1 666.7 421.5 666.7C422.9 666.7 424.3 666.8 425.8 667.0C427.2 667.2 428.7 667.7 430.1 667.7C431.7 667.7 433.4 667.0 435.0 666.8C436.9 666.5 438.8 666.3 440.8 666.3C443.2 666.3 445.6 667.5 448.0 667.7C450.4 668.0 452.8 667.5 455.2 667.7C457.1 667.9 459.0 668.7 460.9 668.7C463.3 668.7 465.7 668.3 468.1 668.0C470.1 667.8 472.0 667.4 473.9 667.4C475.8 667.4 477.7 668.9 479.7 668.9C481.6 668.9 483.5 668.3 485.4 668.0C487.4 667.7 489.3 667.0 491.2 667.0C493.1 667.0 495.0 667.3 497.0 667.4C499.4 667.6 501.8 667.8 504.2 668.2C507.0 668.5 509.9 669.5 512.8 669.5C515.2 669.5 517.6 668.7 520.0 668.4C522.4 668.2 524.8 668.4 527.2 668.2C529.4 667.9 531.5 667.4 533.7 667.0" stroke="#000" stroke-width="1.2" fill="none" stroke-linejoin="round"/>
<text class="s" x="551.2" y="677.2" font-size="20.7" fill="#000">37</text>
<path d="M87.0 654.6C103.0 654.6 119.0 654.6 135.0 654.6C137.9 654.6 140.8 654.8 143.6 654.6C146.5 654.5 149.4 653.9 152.3 653.7C155.2 653.6 158.1 653.8 160.9 653.6C163.8 653.4 166.7 653.0 169.6 652.6C172.0 652.2 174.4 652.1 176.8 651.2C178.0 650.7 179.2 649.4 180.4 648.3C181.6 647.2 182.8 645.7 184.0 644.7C185.0 643.9 185.9 643.9 186.9 642.9C187.6 642.2 188.3 641.1 189.0 639.6C189.8 638.1 190.5 635.2 191.2 633.9C191.9 632.5 192.6 631.4 193.4 631.4C194.0 631.4 194.6 632.3 195.2 633.9C195.9 635.5 196.6 639.1 197.2 641.1C197.6 642.2 198.0 643.2 198.4 643.2C199.4 643.2 200.3 642.2 201.3 642.2C202.2 642.2 203.2 643.7 204.2 644.7C205.1 645.7 206.1 647.5 207.0 648.3C208.0 649.1 209.0 649.4 209.9 649.4C210.9 649.4 211.8 648.3 212.8 647.6C213.8 646.8 214.7 645.2 215.7 644.7C216.4 644.3 217.1 644.2 217.9 644.7C218.8 645.4 219.8 647.3 220.7 648.3C221.7 649.2 222.7 650.4 223.6 650.4C224.8 650.4 226.0 647.6 227.2 647.6C228.2 647.6 229.1 649.0 230.1 649.0C231.7 649.0 233.4 647.3 235.0 646.4C235.7 646.0 236.4 645.0 237.2 645.0C238.1 645.0 239.1 647.4 240.0 648.3C241.0 649.2 242.0 650.4 242.9 650.4C244.1 650.4 245.3 648.7 246.5 648.7C247.7 648.7 248.9 650.4 250.1 650.4C251.3 650.4 252.5 649.4 253.7 649.4C255.4 649.4 257.1 651.4 258.8 651.4C260.9 651.4 263.1 651.3 265.3 651.2C267.4 651.0 269.6 650.4 271.7 650.4C273.7 650.4 275.6 651.2 277.5 651.2C279.2 651.2 280.9 649.4 282.6 649.4C284.2 649.4 285.9 651.2 287.6 651.2C289.8 651.2 291.9 649.7 294.1 649.7C295.5 649.7 297.0 650.3 298.4 650.4C300.1 650.6 301.8 650.9 303.4 650.9C305.1 650.9 306.8 650.4 308.5 650.1C310.4 649.8 312.3 649.0 314.3 649.0C315.7 649.0 317.1 649.4 318.6 649.7C320.0 650.1 321.5 651.2 322.9 651.2C324.3 651.2 325.8 649.7 327.2 649.4C329.8 648.9 332.4 648.8 335.0 648.8C336.4 648.8 337.9 649.7 339.3 649.7C340.8 649.7 342.2 649.7 343.6 649.3C345.1 648.9 346.5 647.3 348.0 647.3C349.4 647.3 350.9 648.3 352.3 648.7C354.7 649.4 357.1 650.1 359.5 650.4C361.9 650.7 364.3 650.6 366.7 650.4C369.1 650.3 371.5 649.4 373.9 649.4C376.3 649.4 378.7 649.8 381.1 650.1C383.0 650.4 385.0 651.2 386.9 651.2C388.8 651.2 390.7 650.0 392.6 649.7C394.1 649.5 395.5 649.4 397.0 649.4C398.9 649.4 400.8 650.2 402.7 650.4C405.1 650.7 407.5 650.9 409.9 650.9C412.3 650.9 414.7 650.2 417.1 650.0C419.5 649.8 421.9 649.7 424.3 649.7C427.9 649.7 431.4 650.4 435.0 650.7C437.4 651.0 439.8 651.4 442.2 651.4C444.6 651.4 447.0 650.4 449.4 650.4C451.8 650.4 454.2 650.7 456.6 650.9C458.5 651.0 460.5 651.4 462.4 651.4C464.3 651.4 466.2 650.4 468.1 650.4C470.5 650.4 472.9 651.0 475.3 651.2C477.3 651.3 479.2 651.4 481.1 651.4C483.0 651.4 485.0 650.4 486.9 650.4C488.8 650.4 490.7 651.0 492.6 651.2C494.6 651.3 496.5 651.5 498.4 651.6C500.3 651.7 502.2 651.9 504.2 651.9C506.1 651.9 508.0 650.9 509.9 650.9C512.3 650.9 514.7 651.2 517.1 651.2C519.5 651.2 521.9 650.8 524.3 650.7C527.5 650.6 530.6 650.5 533.7 650.4" stroke="#000" stroke-width="1.2" fill="none" stroke-linejoin="round"/>
<text class="s" x="551.2" y="659.6" font-size="20.7" fill="#000">41</text>
<path d="M87.0 637.0C103.0 637.0 119.0 637.1 135.0 637.0C140.8 637.0 146.5 636.7 152.3 636.5C155.4 636.3 158.5 636.5 161.7 636.0C163.1 635.8 164.5 635.0 166.0 634.6C167.4 634.1 168.9 633.7 170.3 633.4C171.3 633.3 172.2 633.4 173.2 633.4C174.1 633.5 175.1 633.9 176.1 633.9C177.3 633.9 178.5 632.8 179.7 632.4C180.6 632.1 181.6 632.4 182.6 632.0C183.8 631.5 185.0 630.7 186.2 629.5C187.0 628.7 187.8 628.0 188.6 625.9C189.2 624.4 189.9 621.0 190.5 618.7C191.1 616.5 191.7 613.7 192.3 612.2C192.8 611.2 193.3 611.2 193.8 611.2C194.4 611.2 194.9 612.9 195.5 615.1C196.1 617.3 196.7 621.8 197.2 624.5C197.6 626.3 198.0 628.8 198.4 628.8C199.4 628.8 200.3 628.4 201.3 628.4C202.2 628.4 203.2 629.6 204.2 630.3C205.0 630.9 205.9 632.4 206.8 632.4C207.8 632.4 208.9 630.2 209.9 629.5C211.1 628.8 212.3 628.1 213.5 628.1C214.5 628.1 215.5 628.1 216.4 628.5C217.4 628.9 218.3 630.5 219.3 630.5C220.5 630.5 221.7 628.8 222.9 628.8C223.9 628.8 224.8 629.2 225.8 629.5C227.0 630.0 228.2 631.4 229.4 631.4C230.3 631.4 231.3 630.9 232.3 630.3C233.2 629.6 234.1 627.4 235.0 627.4C236.0 627.4 236.9 629.3 237.9 630.3C238.8 631.2 239.8 632.9 240.8 632.9C242.0 632.9 243.2 632.4 244.4 632.4C245.6 632.4 246.8 633.9 248.0 633.9C249.4 633.9 250.9 631.7 252.3 631.7C253.7 631.7 255.2 634.3 256.6 634.3C257.8 634.3 259.0 631.7 260.2 631.7C262.1 631.7 264.1 632.4 266.0 632.4C267.9 632.4 269.8 631.0 271.7 631.0C273.4 631.0 275.1 633.1 276.8 633.1C278.2 633.1 279.7 633.5 281.1 632.9C282.6 632.3 284.0 630.2 285.4 629.5C286.9 628.9 288.3 628.8 289.8 628.8C290.7 628.8 291.7 629.6 292.6 630.0C293.8 630.5 295.0 631.4 296.2 631.4C297.4 631.4 298.6 629.9 299.8 629.5C301.3 629.1 302.7 628.8 304.2 628.8C305.6 628.8 307.0 629.6 308.5 630.0C310.2 630.4 311.8 631.2 313.5 631.4C315.0 631.6 316.4 631.7 317.9 631.4C319.3 631.2 320.7 630.5 322.2 630.0C323.6 629.5 325.1 628.5 326.5 628.5C327.9 628.5 329.4 630.0 330.8 630.5C332.2 631.1 333.6 631.4 335.0 631.7C337.4 632.2 339.8 632.7 342.2 632.9C344.6 633.0 347.0 633.0 349.4 632.9C351.3 632.7 353.3 632.3 355.2 632.0C356.6 631.8 358.1 631.4 359.5 631.4C361.4 631.4 363.3 632.2 365.3 632.4C367.7 632.7 370.1 632.9 372.5 633.1C374.9 633.3 377.3 633.6 379.7 633.6C381.6 633.6 383.5 632.6 385.4 632.4C387.4 632.2 389.3 632.2 391.2 632.4C393.1 632.6 395.0 633.6 397.0 633.6C398.9 633.6 400.8 632.9 402.7 632.9C405.1 632.9 407.5 633.9 409.9 634.1C411.8 634.3 413.8 634.3 415.7 634.1C417.6 634.0 419.5 633.1 421.5 633.1C423.4 633.1 425.3 634.0 427.2 634.1C428.7 634.3 430.1 634.3 431.5 634.1C432.7 634.0 433.8 633.4 435.0 633.4C436.4 633.4 437.9 634.3 439.3 634.3C440.8 634.3 442.2 633.6 443.6 633.6C446.0 633.6 448.4 634.0 450.9 634.1C453.3 634.3 455.7 634.6 458.1 634.6C460.9 634.6 463.8 634.4 466.7 634.3C469.6 634.2 472.5 634.3 475.3 634.1C477.7 634.0 480.1 633.6 482.6 633.6C485.0 633.6 487.4 634.3 489.8 634.3C492.6 634.3 495.5 634.1 498.4 634.1C500.8 634.1 503.2 634.6 505.6 634.6C508.0 634.6 510.4 634.1 512.8 634.1C515.7 634.1 518.6 634.3 521.5 634.3C525.5 634.3 529.6 634.2 533.7 634.1" stroke="#000" stroke-width="1.2" fill="none" stroke-linejoin="round"/>
<text class="s" x="551.2" y="642.0" font-size="20.7" fill="#000">91</text>
<path d="M87.0 584.1C103.0 584.1 119.0 584.2 135.0 584.1C140.8 584.0 146.5 584.1 152.3 583.6C153.3 583.5 154.2 582.5 155.2 582.5C156.6 582.5 158.1 583.5 159.5 583.5C160.9 583.5 162.4 583.4 163.8 583.2C165.5 582.9 167.2 583.0 168.9 582.0C169.6 581.6 170.3 580.2 171.0 578.9C171.7 577.6 172.5 575.2 173.2 574.3C173.9 573.3 174.6 573.1 175.3 573.1C176.3 573.1 177.3 573.9 178.2 574.8C179.2 575.8 180.1 577.5 181.1 578.9C181.8 579.9 182.6 581.7 183.3 581.7C184.0 581.7 184.7 580.4 185.4 577.4C186.0 575.1 186.6 568.7 187.2 565.9C187.8 562.8 188.4 559.8 189.0 559.8C189.7 559.8 190.3 561.7 190.9 564.5C191.5 567.0 192.1 573.4 192.6 576.0C193.1 578.2 193.6 578.9 194.1 578.9C195.0 578.9 196.0 578.3 197.0 576.7C197.7 575.5 198.4 572.0 199.1 570.2C199.9 568.3 200.8 565.6 201.6 565.6C202.4 565.6 203.3 566.6 204.2 567.3C205.1 568.1 206.1 569.3 207.0 570.2C208.0 571.1 209.0 571.2 209.9 572.8C210.9 574.4 211.8 580.0 212.8 580.0C213.8 580.0 214.7 578.7 215.7 577.4C216.9 575.9 218.1 573.5 219.3 571.7C220.0 570.6 220.7 568.8 221.5 568.8C222.4 568.8 223.4 570.8 224.3 572.4C225.3 573.9 226.3 576.4 227.2 578.1C228.1 579.7 228.9 582.5 229.8 582.5C230.6 582.5 231.4 581.1 232.3 580.3C233.2 579.4 234.1 577.1 235.0 577.1C236.7 577.1 238.4 581.0 240.0 581.0C241.5 581.0 242.9 579.1 244.4 578.1C245.8 577.2 247.2 575.6 248.7 575.6C249.6 575.6 250.6 576.5 251.6 577.4C252.5 578.3 253.5 580.2 254.5 581.0C255.2 581.6 255.9 581.7 256.6 581.7C258.1 581.7 259.5 578.1 260.9 578.1C262.1 578.1 263.3 579.0 264.5 579.6C266.0 580.2 267.4 581.2 268.9 581.7C270.1 582.2 271.3 582.5 272.5 582.5C274.1 582.5 275.8 580.7 277.5 580.7C278.9 580.7 280.4 582.0 281.8 582.0C283.3 582.0 284.7 579.3 286.2 579.3C287.8 579.3 289.5 580.5 291.2 581.0C293.1 581.6 295.0 582.5 297.0 582.5C298.6 582.5 300.3 580.7 302.0 580.7C303.2 580.7 304.4 581.1 305.6 581.5C306.8 581.8 308.0 582.9 309.2 582.9C310.6 582.9 312.1 582.7 313.5 582.5C314.7 582.3 315.9 582.2 317.1 581.7C318.3 581.3 319.5 579.6 320.7 579.6C321.9 579.6 323.1 581.5 324.3 582.0C326.3 582.8 328.2 583.2 330.1 583.5C331.7 583.7 333.4 583.7 335.0 583.5C336.9 583.2 338.8 582.0 340.8 582.0C342.0 582.0 343.2 582.2 344.4 582.5C345.6 582.7 346.8 583.5 348.0 583.5C349.4 583.5 350.9 582.3 352.3 582.0C353.7 581.7 355.2 582.0 356.6 581.7C358.1 581.5 359.5 580.6 360.9 580.6C362.6 580.6 364.3 581.3 366.0 581.3C367.2 581.3 368.4 579.9 369.6 579.3C370.4 578.9 371.3 578.1 372.2 578.1C373.0 578.1 373.8 579.6 374.6 580.6C375.3 581.4 376.1 583.3 376.8 583.6C378.7 584.4 380.6 583.6 382.6 583.6C385.9 583.6 389.3 583.6 392.6 583.6C394.1 583.6 395.5 584.0 397.0 583.6C398.2 583.3 399.4 581.7 400.6 581.7C402.2 581.7 403.9 582.5 405.6 582.5C407.0 582.5 408.5 582.0 409.9 582.0C411.6 582.0 413.3 582.3 415.0 582.5C416.7 582.7 418.3 583.2 420.0 583.2C421.5 583.2 422.9 582.8 424.3 582.5C425.8 582.1 427.2 581.5 428.7 581.0C429.4 580.8 430.1 580.3 430.8 580.3C432.2 580.3 433.6 581.5 435.0 582.0C436.0 582.4 436.9 583.0 437.9 583.2C439.1 583.4 440.3 583.8 441.5 583.2C442.7 582.6 443.9 580.1 445.1 579.6C447.0 578.8 448.9 579.3 450.9 579.3C451.8 579.3 452.8 580.7 453.7 580.7C455.2 580.7 456.6 580.1 458.1 580.0C459.7 579.9 461.4 581.0 463.1 580.0C463.8 579.6 464.5 577.3 465.3 576.0C466.0 574.7 466.7 572.1 467.4 572.1C468.1 572.1 468.9 573.0 469.6 574.5C470.5 576.6 471.5 582.9 472.5 582.9C473.2 582.9 473.9 582.5 474.6 581.7C475.6 580.8 476.5 577.7 477.5 577.7C478.7 577.7 479.9 582.5 481.1 582.5C482.3 582.5 483.5 581.0 484.7 581.0C485.9 581.0 487.1 581.7 488.3 581.7C489.8 581.7 491.2 577.4 492.6 577.4C493.8 577.4 495.0 581.0 496.2 581.0C497.2 581.0 498.2 578.7 499.1 577.4C499.7 576.6 500.4 574.5 501.0 574.5C501.8 574.5 502.6 577.4 503.4 578.9C504.2 580.2 504.9 582.5 505.6 582.9C507.5 584.0 509.4 583.5 511.4 583.5C513.8 583.5 516.2 584.0 518.6 583.2C519.3 582.9 520.0 581.3 520.7 580.3C521.6 579.2 522.4 576.7 523.2 576.7C524.3 576.7 525.4 577.9 526.5 577.9C527.5 577.9 528.4 577.4 529.4 577.4C530.8 577.4 532.3 579.5 533.7 580.6" stroke="#000" stroke-width="1.2" fill="none" stroke-linejoin="round"/>
<text class="s" x="551.2" y="589.0" font-size="20.7" fill="#000">2</text>
<path d="M87.0 548.8C103.0 548.8 119.0 548.8 135.0 548.8C137.9 548.8 140.8 549.0 143.6 548.8C145.6 548.6 147.5 548.2 149.4 547.6C150.6 547.2 151.8 546.3 153.0 545.7C154.0 545.3 154.9 544.6 155.9 544.6C156.9 544.6 157.8 546.1 158.8 546.4C160.0 546.9 161.2 547.2 162.4 547.2C163.3 547.2 164.3 546.6 165.3 545.7C166.5 544.7 167.7 543.4 168.9 541.4C169.6 540.2 170.3 537.7 171.0 536.4C171.6 535.3 172.2 534.2 172.8 534.2C173.6 534.2 174.5 535.8 175.3 536.4C176.3 537.0 177.3 536.7 178.2 537.8C179.2 538.9 180.1 542.8 181.1 542.8C181.8 542.8 182.6 540.7 183.3 538.5C184.0 536.4 184.7 531.8 185.4 529.9C186.2 527.9 186.9 526.7 187.6 526.7C188.3 526.7 189.0 529.2 189.8 531.3C190.5 533.4 191.2 537.6 191.9 539.2C192.9 541.4 193.8 542.8 194.8 542.8C195.5 542.8 196.2 542.7 197.0 542.1C197.9 541.3 198.9 538.5 199.8 538.5C200.8 538.5 201.8 539.2 202.7 539.2C203.7 539.2 204.6 537.9 205.6 536.4C206.3 535.2 207.0 532.6 207.8 531.3C208.3 530.3 208.9 529.4 209.5 529.4C210.1 529.4 210.7 532.5 211.4 534.2C212.1 536.2 212.8 539.2 213.5 540.7C214.3 542.1 215.0 542.8 215.7 542.8C216.7 542.8 217.6 541.6 218.6 540.7C219.8 539.5 221.0 537.6 222.2 536.4C223.1 535.4 224.1 534.2 225.1 534.2C226.0 534.2 227.0 534.9 227.9 534.9C228.9 534.9 229.9 534.5 230.8 534.5C231.5 534.5 232.3 536.1 233.0 537.1C233.7 538.0 234.3 539.6 235.0 540.2C235.7 541.0 236.4 541.4 237.2 541.4C238.4 541.4 239.6 536.4 240.8 536.4C241.7 536.4 242.7 538.7 243.6 539.7C244.8 540.9 246.0 542.8 247.2 542.8C248.4 542.8 249.6 541.4 250.9 541.0C251.8 540.6 252.8 540.2 253.7 540.2C254.9 540.2 256.1 541.2 257.3 542.1C258.4 543.0 259.5 545.7 260.6 545.7C261.9 545.7 263.2 542.8 264.5 542.8C265.7 542.8 266.9 545.3 268.1 545.3C269.6 545.3 271.0 544.6 272.5 544.6C274.1 544.6 275.8 545.0 277.5 545.0C278.9 545.0 280.4 542.4 281.8 541.7C283.0 541.1 284.2 541.0 285.4 541.0C286.2 541.0 286.9 541.8 287.6 542.6C288.6 543.6 289.5 546.4 290.5 546.4C291.4 546.4 292.4 543.6 293.4 543.6C294.6 543.6 295.8 544.6 297.0 545.0C298.2 545.4 299.4 546.0 300.6 546.0C301.8 546.0 303.0 544.6 304.2 544.6C305.6 544.6 307.0 546.9 308.5 546.9C309.9 546.9 311.4 546.4 312.8 546.4C314.5 546.4 316.2 547.1 317.9 547.5C319.3 547.7 320.7 548.3 322.2 548.3C323.4 548.3 324.6 546.0 325.8 545.0C327.0 544.0 328.2 542.6 329.4 542.6C330.3 542.6 331.3 543.0 332.3 543.6C333.2 544.1 334.1 545.4 335.0 545.7C336.9 546.4 338.8 546.0 340.8 546.4C342.2 546.8 343.6 547.9 345.1 547.9C346.5 547.9 348.0 545.8 349.4 545.0C350.9 544.2 352.3 543.1 353.7 543.1C355.2 543.1 356.6 546.2 358.1 546.2C359.3 546.2 360.5 544.7 361.7 544.3C363.1 543.8 364.5 543.6 366.0 543.6C366.9 543.6 367.9 545.0 368.9 545.7C369.8 546.5 370.8 548.2 371.7 548.2C372.9 548.2 374.1 546.2 375.3 545.7C377.3 544.9 379.2 544.3 381.1 544.3C382.6 544.3 384.0 544.2 385.4 544.6C387.1 545.0 388.8 546.4 390.5 546.4C391.4 546.4 392.4 545.0 393.4 545.0C394.8 545.0 396.2 547.9 397.7 547.9C398.4 547.9 399.1 545.6 399.8 544.6C400.6 543.6 401.3 541.8 402.0 541.8C403.4 541.8 404.9 542.0 406.3 542.8C407.8 543.7 409.2 546.9 410.6 546.9C412.3 546.9 414.0 545.3 415.7 545.0C417.6 544.7 419.5 544.9 421.5 545.0C423.4 545.1 425.3 545.5 427.2 545.7C428.7 545.9 430.1 546.2 431.5 546.2C432.7 546.2 433.8 545.0 435.0 545.0C437.4 545.0 439.8 547.5 442.2 547.5C444.6 547.5 447.0 547.0 449.4 546.4C450.9 546.1 452.3 544.6 453.7 544.6C455.2 544.6 456.6 546.4 458.1 546.4C459.3 546.4 460.5 545.6 461.7 545.4C464.3 545.0 466.9 544.7 469.6 544.7C471.5 544.7 473.4 545.5 475.3 545.7C477.3 546.0 479.2 545.8 481.1 546.2C483.3 546.6 485.4 548.2 487.6 548.2C489.3 548.2 491.0 546.7 492.6 545.7C494.1 544.9 495.5 542.8 497.0 542.8C498.4 542.8 499.8 543.1 501.3 543.1C502.5 543.1 503.7 541.4 504.9 541.4C506.1 541.4 507.3 544.2 508.5 545.0C510.6 546.5 512.8 548.3 515.0 548.3C516.2 548.3 517.4 547.2 518.6 546.4C520.0 545.6 521.5 543.6 522.9 543.6C523.9 543.6 524.8 544.3 525.8 544.3C527.0 544.3 528.2 541.7 529.4 541.7C530.8 541.7 532.3 543.6 533.7 544.6" stroke="#000" stroke-width="1.2" fill="none" stroke-linejoin="round"/>
<text class="s" x="551.2" y="553.8" font-size="20.7" fill="#000">2</text>
<path d="M87.0 531.2C103.0 531.2 119.0 531.3 135.0 531.2C139.8 531.1 144.6 531.3 149.4 530.7C150.4 530.6 151.3 529.7 152.3 529.2C153.6 528.4 155.0 526.7 156.3 526.7C157.1 526.7 158.0 528.0 158.8 528.4C159.7 528.9 160.7 529.4 161.7 529.4C162.6 529.4 163.6 529.2 164.5 528.4C165.3 527.9 166.0 527.0 166.7 525.6C167.7 523.6 168.6 521.0 169.6 518.3C170.3 516.4 171.0 513.4 171.7 511.9C172.2 510.8 172.7 510.4 173.2 510.4C173.9 510.4 174.6 513.3 175.3 513.3C176.1 513.3 176.8 512.3 177.5 512.3C178.2 512.3 178.9 514.3 179.7 515.5C180.4 516.6 181.1 519.1 181.8 519.1C182.6 519.1 183.3 518.5 184.0 517.6C184.7 516.8 185.4 514.9 186.2 514.0C186.9 513.1 187.6 512.3 188.3 512.3C189.0 512.3 189.8 515.0 190.5 515.8C191.4 516.8 192.4 516.8 193.4 517.6C194.6 518.6 195.8 520.3 197.0 521.2C198.2 522.2 199.4 522.8 200.6 523.4C201.5 523.9 202.5 524.4 203.4 524.4C204.2 524.4 204.9 523.3 205.6 521.2C206.3 519.1 207.0 514.3 207.8 511.9C208.5 509.4 209.2 506.5 209.9 506.5C210.6 506.5 211.4 507.8 212.1 509.0C213.0 510.5 214.0 512.0 215.0 514.7C215.6 516.5 216.2 520.4 216.8 522.7C217.4 524.7 218.0 527.7 218.6 527.7C219.5 527.7 220.5 526.8 221.5 526.3C222.7 525.6 223.9 523.8 225.1 523.8C226.0 523.8 227.0 525.9 227.9 527.0C228.9 528.0 229.9 529.7 230.8 530.2C232.2 530.8 233.6 530.9 235.0 530.2C235.7 529.8 236.4 527.8 237.2 527.0C238.1 526.0 239.1 525.9 240.0 524.8C241.0 523.7 242.0 521.7 242.9 520.5C243.5 519.7 244.2 518.8 244.8 518.8C245.6 518.8 246.4 519.9 247.2 521.2C248.0 522.4 248.7 525.4 249.4 526.3C250.4 527.4 251.3 527.0 252.3 527.0C253.0 527.0 253.7 526.0 254.5 526.0C255.7 526.0 256.9 526.6 258.1 526.6C259.0 526.6 260.0 525.3 260.9 524.1C261.8 523.0 262.7 520.8 263.5 519.8C264.3 518.9 265.2 519.1 266.0 518.3C266.8 517.6 267.6 515.5 268.4 515.5C269.3 515.5 270.2 518.7 271.0 519.8C272.2 521.3 273.4 523.4 274.6 523.4C275.8 523.4 277.0 523.4 278.2 523.0C279.2 522.6 280.1 520.9 281.1 520.9C282.1 520.9 283.0 520.5 284.0 521.2C285.2 522.1 286.4 524.4 287.6 525.6C288.8 526.7 290.0 527.7 291.2 528.1C292.4 528.6 293.6 528.0 294.8 528.4C296.2 529.0 297.7 531.0 299.1 531.0C300.3 531.0 301.5 528.3 302.7 527.0C303.9 525.7 305.1 524.5 306.3 523.4C307.5 522.3 308.7 520.5 309.9 520.5C311.1 520.5 312.3 522.0 313.5 522.7C315.0 523.5 316.4 524.0 317.9 524.8C319.5 525.8 321.2 527.2 322.9 528.1C324.8 529.2 326.7 530.6 328.7 530.6C330.1 530.6 331.5 528.1 333.0 528.1C333.7 528.1 334.3 528.1 335.0 528.4C336.0 528.9 336.9 529.9 337.9 530.3C339.1 530.8 340.3 530.9 341.5 530.9C342.7 530.9 343.9 529.5 345.1 528.7C346.5 527.8 348.0 526.4 349.4 525.6C350.6 524.9 351.8 524.1 353.0 524.1C354.2 524.1 355.4 526.0 356.6 526.6C358.1 527.2 359.5 527.7 360.9 527.7C362.1 527.7 363.3 525.8 364.5 524.8C365.5 524.1 366.5 522.7 367.4 522.7C368.4 522.7 369.3 523.4 370.3 523.4C371.3 523.4 372.2 521.1 373.2 520.5C374.1 519.9 375.1 519.8 376.1 519.8C377.0 519.8 378.0 521.1 378.9 521.9C379.9 522.8 380.9 524.8 381.8 524.8C383.0 524.8 384.2 524.4 385.4 524.4C386.9 524.4 388.3 525.0 389.8 525.6C390.7 525.9 391.7 527.3 392.6 527.3C393.8 527.3 395.0 527.5 396.2 527.0C397.7 526.4 399.1 524.9 400.6 524.1C401.5 523.6 402.5 523.0 403.4 523.0C404.4 523.0 405.4 523.9 406.3 524.8C407.3 525.7 408.2 527.4 409.2 528.4C410.2 529.4 411.1 530.9 412.1 530.9C413.0 530.9 414.0 530.2 415.0 529.2C416.2 527.9 417.4 524.1 418.6 524.1C419.5 524.1 420.5 524.4 421.5 524.4C422.7 524.4 423.9 522.7 425.1 522.7C426.3 522.7 427.5 524.0 428.7 524.8C429.9 525.6 431.1 526.8 432.3 527.4C433.2 527.9 434.1 527.8 435.0 528.1C436.4 528.6 437.9 529.5 439.3 529.9C440.5 530.2 441.7 530.2 442.9 530.2C444.1 530.2 445.3 527.3 446.5 527.3C447.5 527.3 448.4 528.1 449.4 528.1C450.6 528.1 451.8 526.6 453.0 526.3C454.0 526.0 454.9 526.6 455.9 526.3C457.2 525.9 458.5 524.1 459.8 524.1C461.1 524.1 462.5 527.7 463.8 528.4C465.7 529.4 467.7 528.7 469.6 529.2C471.0 529.5 472.5 530.6 473.9 530.6C475.3 530.6 476.8 526.5 478.2 525.6C479.4 524.7 480.6 525.3 481.8 525.3C483.3 525.3 484.7 528.4 486.2 528.4C487.4 528.4 488.6 524.7 489.8 523.4C490.7 522.4 491.7 521.5 492.6 521.5C493.6 521.5 494.6 522.9 495.5 523.8C496.5 524.8 497.4 527.3 498.4 527.3C499.1 527.3 499.8 527.0 500.6 527.0C501.8 527.0 503.0 529.2 504.2 529.2C506.1 529.2 508.0 526.3 509.9 526.3C511.4 526.3 512.8 528.4 514.3 528.4C515.5 528.4 516.7 524.9 517.9 523.8C519.1 522.7 520.3 521.9 521.5 521.9C522.4 521.9 523.4 522.9 524.3 524.1C525.5 525.6 526.7 530.2 527.9 530.2C528.9 530.2 529.9 528.7 530.8 527.7C531.8 526.8 532.7 525.5 533.7 524.4" stroke="#000" stroke-width="1.2" fill="none" stroke-linejoin="round"/>
<text class="s" x="551.2" y="536.1" font-size="20.7" fill="#000">1</text>
<path d="M87.0 513.5C103.0 513.2 119.0 512.6 135.0 512.6C137.4 512.6 139.8 513.5 142.2 513.5C144.6 513.5 147.0 513.2 149.4 513.0C151.8 512.9 154.2 512.8 156.6 512.6C158.3 512.4 160.0 512.2 161.7 511.9C162.6 511.7 163.6 510.9 164.5 510.9C165.5 510.9 166.5 511.1 167.4 511.1C168.1 511.1 168.9 509.2 169.6 506.8C170.3 504.4 171.0 499.6 171.7 496.7C172.5 493.9 173.2 489.5 173.9 489.5C174.6 489.5 175.3 491.8 176.1 492.4C176.8 493.0 177.5 493.1 178.2 493.1C178.8 493.1 179.4 491.3 180.0 491.3C180.6 491.3 181.2 493.3 181.8 494.6C182.6 496.1 183.3 498.6 184.0 499.6C184.7 500.6 185.4 500.8 186.2 500.8C186.9 500.8 187.6 499.3 188.3 499.3C189.0 499.3 189.8 501.8 190.5 503.2C191.2 504.7 191.9 508.0 192.6 508.0C193.6 508.0 194.6 506.1 195.5 505.4C196.2 504.8 197.0 503.9 197.7 503.9C198.9 503.9 200.1 505.4 201.3 505.4C202.2 505.4 203.2 505.2 204.2 504.7C205.1 504.1 206.1 503.0 207.0 502.2C207.9 501.5 208.8 500.3 209.6 500.3C210.7 500.3 211.8 502.5 212.8 503.2C213.5 503.7 214.3 503.9 215.0 503.9C215.9 503.9 216.9 502.8 217.9 502.8C219.1 502.8 220.3 506.5 221.5 506.5C222.7 506.5 223.9 505.1 225.1 505.1C226.3 505.1 227.5 504.9 228.7 505.4C229.6 505.7 230.6 506.8 231.5 507.5C232.7 508.4 233.8 510.0 235.0 510.0C236.9 510.0 238.8 509.5 240.8 509.3C242.7 509.1 244.6 509.0 246.5 508.7C248.1 508.5 249.6 508.5 251.1 507.8C252.0 507.4 252.9 506.3 253.7 505.4C254.7 504.3 255.7 502.5 256.6 501.8C257.5 501.1 258.3 501.1 259.2 501.1C260.0 501.1 260.8 503.4 261.7 504.7C262.3 505.6 262.9 507.5 263.5 507.5C264.3 507.5 265.2 504.7 266.0 503.9C266.8 503.1 267.6 502.8 268.4 502.8C269.3 502.8 270.2 503.8 271.0 504.7C272.1 505.7 273.1 507.4 274.2 508.3C275.2 509.1 276.1 509.7 277.1 509.7C278.2 509.7 279.3 508.2 280.4 507.5C281.3 507.0 282.3 506.1 283.3 506.1C284.2 506.1 285.2 507.7 286.2 508.3C287.3 509.0 288.4 510.0 289.5 510.0C290.5 510.0 291.6 509.7 292.6 509.4C293.8 509.1 295.0 508.0 296.2 508.0C297.4 508.0 298.6 510.0 299.8 510.9C300.7 511.5 301.6 512.3 302.4 512.3C303.3 512.3 304.1 509.1 304.9 507.5C305.6 506.2 306.3 504.2 307.0 503.6C308.0 502.9 309.0 503.5 309.9 503.6C311.1 503.9 312.3 504.6 313.5 504.9C315.0 505.3 316.4 505.1 317.9 505.7C319.1 506.2 320.3 507.4 321.5 508.3C322.9 509.3 324.3 511.1 325.8 511.1C326.7 511.1 327.7 511.0 328.7 510.4C329.9 509.8 331.1 508.4 332.3 507.5C333.2 506.9 334.1 506.0 335.0 505.7C336.0 505.4 336.9 505.9 337.9 505.7C338.8 505.4 339.8 504.2 340.8 504.2C341.7 504.2 342.7 505.8 343.6 506.5C345.1 507.7 346.5 509.1 348.0 510.0C349.2 510.7 350.4 511.4 351.6 511.4C352.8 511.4 354.0 508.8 355.2 507.5C356.4 506.3 357.6 504.9 358.8 503.9C359.5 503.3 360.2 502.8 360.9 502.8C361.7 502.8 362.4 503.9 363.1 503.9C364.1 503.9 365.0 503.6 366.0 503.6C366.9 503.6 367.9 506.2 368.9 507.3C369.8 508.3 370.8 510.0 371.7 510.0C372.9 510.0 374.1 509.7 375.3 509.7C376.3 509.7 377.3 510.9 378.2 510.9C379.2 510.9 380.1 508.9 381.1 508.0C382.1 507.0 383.0 505.1 384.0 505.1C384.7 505.1 385.4 505.8 386.2 506.5C387.3 507.7 388.4 510.9 389.5 510.9C390.5 510.9 391.6 509.4 392.6 509.0C393.6 508.6 394.6 508.3 395.5 508.3C397.0 508.3 398.4 509.0 399.8 509.0C401.3 509.0 402.7 508.3 404.2 508.3C406.1 508.3 408.0 509.5 409.9 510.0C411.8 510.5 413.8 511.4 415.7 511.4C417.1 511.4 418.6 511.3 420.0 510.9C421.5 510.4 422.9 508.5 424.3 508.5C425.8 508.5 427.2 509.4 428.7 509.4C430.1 509.4 431.5 508.5 433.0 508.5C433.7 508.5 434.3 508.9 435.0 509.0C436.4 509.2 437.9 509.7 439.3 509.7C440.5 509.7 441.7 507.5 442.9 507.5C444.6 507.5 446.3 509.3 448.0 510.0C449.9 510.8 451.8 512.1 453.7 512.1C455.2 512.1 456.6 510.3 458.1 509.7C459.5 509.1 460.9 508.3 462.4 508.3C463.6 508.3 464.8 510.5 466.0 510.9C467.7 511.4 469.3 511.0 471.0 511.1C472.9 511.3 474.9 511.3 476.8 511.6C478.2 511.8 479.7 512.6 481.1 512.6C483.0 512.6 485.0 511.6 486.9 511.1C488.8 510.7 490.7 510.0 492.6 510.0C494.6 510.0 496.5 511.4 498.4 511.4C500.1 511.4 501.8 510.0 503.4 510.0C505.1 510.0 506.8 512.3 508.5 512.3C509.7 512.3 510.9 508.5 512.1 508.5C513.8 508.5 515.5 511.1 517.1 511.1C519.1 511.1 521.0 510.3 522.9 509.7C524.3 509.2 525.8 507.8 527.2 507.8C529.4 507.8 531.5 508.6 533.7 509.0" stroke="#000" stroke-width="1.2" fill="none" stroke-linejoin="round"/>
<text class="s" x="551.2" y="518.5" font-size="20.7" fill="#000">3</text>
<path d="M87.0 495.9C103.0 495.9 119.0 495.9 135.0 495.9C140.0 495.9 145.1 496.1 150.1 495.7C151.1 495.6 152.1 494.7 153.0 494.2C154.0 493.8 154.9 493.1 155.9 493.1C156.9 493.1 157.8 494.6 158.8 495.0C160.0 495.4 161.2 495.7 162.4 495.7C163.6 495.7 164.8 496.1 166.0 495.2C166.7 494.7 167.4 493.6 168.1 491.3C168.9 489.1 169.6 484.9 170.3 482.0C170.9 479.5 171.6 475.1 172.2 475.1C172.8 475.1 173.5 476.2 174.2 476.2C174.8 476.2 175.4 475.1 176.1 474.5C176.6 473.9 177.2 472.6 177.8 472.6C178.4 472.6 179.0 475.0 179.7 476.2C180.4 477.6 181.1 479.5 181.8 480.5C182.8 482.0 183.8 483.7 184.7 483.7C185.7 483.7 186.6 481.8 187.6 481.3C188.6 480.7 189.5 480.9 190.5 480.5C191.4 480.2 192.4 479.1 193.4 479.1C194.1 479.1 194.8 479.0 195.5 479.8C196.5 480.9 197.4 483.1 198.4 484.9C199.1 486.2 199.8 488.9 200.6 488.9C201.3 488.9 202.0 487.7 202.7 486.3C203.4 484.9 204.2 482.1 204.9 480.5C205.6 479.0 206.3 477.8 207.0 476.9C207.6 476.3 208.2 475.9 208.8 475.9C209.6 475.9 210.5 479.0 211.4 479.8C212.1 480.5 212.8 479.9 213.5 480.5C214.3 481.1 215.0 482.0 215.7 483.4C216.6 485.1 217.4 488.5 218.3 489.9C219.1 491.2 219.9 491.3 220.7 491.3C221.5 491.3 222.2 489.9 222.9 489.9C223.6 489.9 224.3 492.1 225.1 492.1C226.0 492.1 227.0 487.4 227.9 486.3C229.1 485.0 230.3 484.9 231.5 484.9C232.7 484.9 233.8 485.3 235.0 486.4C235.7 487.2 236.4 489.6 237.2 490.6C237.9 491.7 238.6 492.8 239.3 492.8C240.5 492.8 241.7 491.5 242.9 490.6C244.4 489.6 245.8 487.0 247.2 487.0C248.2 487.0 249.2 489.4 250.1 489.9C251.3 490.6 252.5 490.5 253.7 490.6C254.9 490.7 256.1 490.1 257.3 490.6C258.8 491.3 260.2 494.2 261.7 494.2C262.6 494.2 263.6 493.4 264.5 492.8C265.7 492.1 266.9 490.3 268.1 490.3C269.3 490.3 270.5 492.2 271.7 492.8C272.7 493.3 273.7 493.1 274.6 493.5C275.6 493.9 276.5 495.2 277.5 495.2C278.7 495.2 279.9 494.9 281.1 494.7C282.3 494.4 283.5 493.8 284.7 493.8C285.9 493.8 287.1 494.9 288.3 495.2C289.5 495.6 290.7 495.7 291.9 495.7C293.1 495.7 294.3 494.3 295.5 493.8C297.0 493.1 298.4 492.1 299.8 492.1C301.0 492.1 302.2 492.2 303.4 492.4C304.4 492.5 305.4 492.8 306.3 492.8C307.3 492.8 308.2 491.2 309.2 490.6C310.4 490.0 311.6 489.2 312.8 489.2C314.0 489.2 315.2 489.9 316.4 490.6C317.6 491.3 318.8 492.6 320.0 493.5C321.0 494.3 321.9 495.7 322.9 495.7C324.1 495.7 325.3 494.3 326.5 493.5C327.5 492.9 328.4 491.3 329.4 491.3C330.6 491.3 331.8 492.5 333.0 493.5C333.7 494.1 334.3 495.9 335.0 495.9C337.4 495.9 339.8 496.1 342.2 495.4C343.2 495.1 344.1 493.5 345.1 493.1C346.3 492.6 347.5 492.8 348.7 492.8C350.1 492.8 351.6 493.0 353.0 493.5C354.2 493.9 355.4 495.4 356.6 495.4C358.0 495.4 359.3 492.1 360.6 492.1C361.7 492.1 362.8 494.1 363.8 494.7C365.0 495.3 366.2 495.7 367.4 495.7C370.1 495.7 372.7 495.9 375.3 495.4C376.8 495.1 378.2 493.9 379.7 493.2C381.1 492.5 382.6 492.3 384.0 491.3C385.0 490.7 385.9 489.2 386.9 488.5C387.6 488.0 388.3 488.5 389.0 487.7C390.0 486.7 391.0 483.1 391.9 483.1C392.9 483.1 393.8 483.6 394.8 484.1C395.8 484.7 396.7 486.6 397.7 486.6C398.9 486.6 400.1 483.4 401.3 483.4C402.0 483.4 402.7 485.3 403.4 486.3C404.4 487.6 405.4 490.3 406.3 490.3C407.8 490.3 409.2 488.0 410.6 488.0C411.4 488.0 412.1 489.4 412.8 490.6C413.5 491.8 414.3 495.2 415.0 495.2C415.7 495.2 416.4 495.8 417.1 495.0C417.9 494.1 418.6 491.2 419.3 489.9C420.0 488.6 420.7 487.0 421.5 487.0C422.4 487.0 423.4 488.3 424.3 489.2C425.3 490.0 426.3 492.1 427.2 492.1C428.2 492.1 429.1 491.3 430.1 491.3C431.1 491.3 432.0 493.5 433.0 494.2C433.7 494.8 434.3 495.2 435.0 495.2C436.2 495.2 437.4 492.1 438.6 492.1C440.3 492.1 442.0 494.6 443.6 495.2C445.1 495.8 446.5 495.7 448.0 495.7C449.9 495.7 451.8 492.8 453.7 492.8C455.2 492.8 456.6 493.8 458.1 493.8C459.5 493.8 460.9 492.7 462.4 492.1C463.6 491.5 464.8 490.3 466.0 490.3C467.4 490.3 468.9 494.2 470.3 494.2C471.7 494.2 473.2 492.4 474.6 491.3C475.3 490.8 476.1 489.6 476.8 489.6C478.0 489.6 479.2 495.0 480.4 495.0C481.6 495.0 482.8 494.7 484.0 494.7C485.9 494.7 487.8 495.1 489.8 495.2C491.7 495.3 493.6 495.7 495.5 495.2C497.0 494.9 498.4 493.7 499.8 492.8C500.7 492.2 501.6 490.9 502.4 490.9C503.7 490.9 505.0 494.2 506.3 494.2C507.8 494.2 509.2 493.1 510.6 492.8C512.3 492.5 514.0 492.4 515.7 492.4C517.6 492.4 519.5 494.4 521.5 495.0C522.9 495.4 524.3 495.2 525.8 495.2C527.5 495.2 529.1 492.8 530.8 492.8C531.8 492.8 532.7 493.3 533.7 493.5" stroke="#000" stroke-width="1.2" fill="none" stroke-linejoin="round"/>
<text class="s" x="551.2" y="500.9" font-size="20.7" fill="#000">1</text>
<path d="M87.0 478.2C103.0 478.2 119.0 478.2 135.0 478.2C137.4 478.2 139.8 478.3 142.2 478.2C144.6 478.1 147.0 478.1 149.4 477.7C150.9 477.4 152.3 476.5 153.7 476.2C155.2 476.0 156.6 476.1 158.1 476.2C159.5 476.3 160.9 476.9 162.4 476.9C163.3 476.9 164.3 476.5 165.3 475.5C166.0 474.8 166.7 473.7 167.4 471.9C168.1 470.1 168.9 466.9 169.6 464.7C170.3 462.5 171.0 460.2 171.7 458.9C172.4 457.9 173.0 457.8 173.6 457.8C174.4 457.8 175.2 458.9 176.1 459.6C176.8 460.3 177.5 460.6 178.2 461.8C178.9 463.0 179.7 465.4 180.4 466.9C181.0 468.1 181.6 470.0 182.3 470.0C183.1 470.0 183.9 467.8 184.7 466.9C185.7 465.7 186.6 463.5 187.6 463.5C188.3 463.5 189.0 464.6 189.8 465.4C190.7 466.5 191.7 468.4 192.6 469.3C193.4 470.0 194.1 470.2 194.8 470.2C195.5 470.2 196.2 468.3 197.0 468.3C197.7 468.3 198.4 470.5 199.1 470.5C200.1 470.5 201.0 466.9 202.0 466.9C202.7 466.9 203.4 467.6 204.2 467.6C205.1 467.6 206.1 465.5 207.0 464.7C207.8 464.1 208.5 463.3 209.2 463.3C209.9 463.3 210.6 467.0 211.4 468.3C212.1 469.6 212.8 471.2 213.5 471.2C214.5 471.2 215.5 469.6 216.4 469.0C217.1 468.6 217.9 468.3 218.6 468.3C219.5 468.3 220.5 471.9 221.5 471.9C222.9 471.9 224.3 468.3 225.8 468.3C226.5 468.3 227.2 469.3 227.9 470.5C228.9 472.0 229.9 476.2 230.8 476.2C232.2 476.2 233.6 471.9 235.0 471.9C236.0 471.9 236.9 472.7 237.9 473.3C238.8 473.9 239.8 475.5 240.8 475.5C242.2 475.5 243.6 475.2 245.1 474.8C246.5 474.4 248.0 473.0 249.4 473.0C250.9 473.0 252.3 474.5 253.7 474.5C255.4 474.5 257.1 473.0 258.8 472.6C260.5 472.2 262.1 472.3 263.8 471.9C265.5 471.5 267.2 470.5 268.9 470.5C269.8 470.5 270.8 471.9 271.7 471.9C272.7 471.9 273.7 471.2 274.6 471.2C275.8 471.2 277.0 472.6 278.2 473.3C279.7 474.2 281.1 475.9 282.6 475.9C284.0 475.9 285.4 475.9 286.9 475.5C288.8 474.9 290.7 473.9 292.6 473.0C294.6 472.2 296.5 470.5 298.4 470.5C299.6 470.5 300.8 471.3 302.0 471.9C303.2 472.5 304.4 473.5 305.6 474.1C306.8 474.6 308.0 475.1 309.2 475.1C310.4 475.1 311.6 472.6 312.8 472.6C313.8 472.6 314.7 472.7 315.7 473.0C316.7 473.4 317.6 474.5 318.6 474.5C319.5 474.5 320.5 473.3 321.5 473.3C322.7 473.3 323.9 475.1 325.1 475.1C326.3 475.1 327.5 474.7 328.7 474.5C330.8 474.2 332.9 473.7 335.0 473.7C335.7 473.7 336.4 475.2 337.2 475.2C338.1 475.2 339.1 474.0 340.0 473.3C341.0 472.7 342.0 471.5 342.9 471.5C344.1 471.5 345.3 473.4 346.5 474.1C348.0 474.9 349.4 475.9 350.9 475.9C352.8 475.9 354.7 475.2 356.6 475.2C358.1 475.2 359.5 477.4 360.9 477.4C361.7 477.4 362.4 475.8 363.1 474.8C363.8 473.8 364.5 471.5 365.3 471.5C366.5 471.5 367.7 473.0 368.9 473.3C370.5 473.8 372.2 473.0 373.9 473.6C375.3 474.1 376.8 476.7 378.2 476.7C379.2 476.7 380.1 476.9 381.1 476.2C382.3 475.3 383.5 472.9 384.7 471.9C385.7 471.1 386.6 470.7 387.6 470.7C388.6 470.7 389.5 472.2 390.5 473.3C391.2 474.2 391.9 476.5 392.6 476.5C394.1 476.5 395.5 475.2 397.0 474.8C398.9 474.2 400.8 473.8 402.7 473.3C403.7 473.1 404.6 472.6 405.6 472.6C407.0 472.6 408.5 474.5 409.9 474.5C411.1 474.5 412.3 471.8 413.5 471.2C414.7 470.5 415.9 470.5 417.1 470.5C418.6 470.5 420.0 470.9 421.5 470.9C422.9 470.9 424.3 470.2 425.8 470.2C427.2 470.2 428.7 470.5 430.1 470.7C431.7 471.0 433.4 471.8 435.0 471.8C436.9 471.8 438.8 471.8 440.8 471.6C442.7 471.4 444.6 470.7 446.5 470.7C448.4 470.7 450.4 475.8 452.3 475.8C453.7 475.8 455.2 473.6 456.6 473.6C458.1 473.6 459.5 475.2 460.9 475.2C462.4 475.2 463.8 474.8 465.3 474.5C466.7 474.2 468.1 473.3 469.6 473.3C471.0 473.3 472.5 475.1 473.9 475.1C475.3 475.1 476.8 474.3 478.2 474.3C479.4 474.3 480.6 476.7 481.8 476.7C482.8 476.7 483.8 474.7 484.7 474.1C485.9 473.3 487.1 472.6 488.3 472.6C490.0 472.6 491.7 475.4 493.4 475.9C495.0 476.5 496.7 476.3 498.4 475.9C499.8 475.6 501.3 474.5 502.7 473.6C503.7 473.0 504.6 471.9 505.6 471.6C507.0 471.2 508.5 471.3 509.9 471.6C511.4 471.9 512.8 473.3 514.3 473.3C515.7 473.3 517.1 471.9 518.6 471.9C520.5 471.9 522.4 473.6 524.3 474.1C526.3 474.5 528.2 474.5 530.1 474.5C531.3 474.5 532.5 473.7 533.7 473.3" stroke="#000" stroke-width="1.2" fill="none" stroke-linejoin="round"/>
<text class="s" x="551.2" y="483.2" font-size="20.7" fill="#000">4</text>
<path d="M87.0 460.6C103.0 460.6 119.0 460.9 135.0 460.6C136.2 460.6 137.4 460.0 138.6 459.6C139.6 459.4 140.5 458.6 141.5 458.6C142.4 458.6 143.4 459.4 144.4 459.6C145.8 460.0 147.2 460.4 148.7 460.4C149.9 460.4 151.1 459.4 152.3 458.9C153.5 458.5 154.7 457.8 155.9 457.8C156.9 457.8 157.8 458.6 158.8 458.6C160.0 458.6 161.2 458.3 162.4 458.2C163.3 458.1 164.3 458.9 165.3 458.2C166.0 457.7 166.7 456.6 167.4 454.6C168.1 452.6 168.9 448.4 169.6 446.0C170.3 443.6 171.0 440.2 171.7 440.2C172.5 440.2 173.2 441.4 173.9 441.6C174.9 441.9 175.8 441.2 176.8 441.6C177.5 441.9 178.2 442.9 178.9 443.8C179.9 445.0 180.9 446.9 181.8 448.1C182.8 449.3 183.8 451.0 184.7 451.0C185.7 451.0 186.6 448.4 187.6 447.4C188.3 446.6 189.0 445.9 189.8 445.7C190.7 445.3 191.7 445.9 192.6 445.7C193.6 445.5 194.6 444.5 195.5 444.5C196.5 444.5 197.4 447.1 198.4 447.1C199.4 447.1 200.3 444.3 201.3 443.4C202.0 442.7 202.7 442.4 203.4 442.4C204.2 442.4 204.9 444.5 205.6 445.2C206.1 445.7 206.6 446.0 207.0 446.0C207.8 446.0 208.5 443.4 209.2 443.4C209.9 443.4 210.6 446.4 211.4 448.1C211.8 449.2 212.3 451.7 212.8 451.7C213.8 451.7 214.7 450.1 215.7 449.6C216.4 449.2 217.1 448.8 217.9 448.8C218.6 448.8 219.3 450.5 220.0 451.4C220.7 452.4 221.5 454.6 222.2 454.6C223.1 454.6 224.1 451.7 225.1 451.7C225.8 451.7 226.5 452.3 227.2 453.2C227.9 454.0 228.7 456.8 229.4 456.8C230.3 456.8 231.3 456.4 232.3 456.0C233.2 455.7 234.1 454.6 235.0 454.6C235.7 454.6 236.4 457.5 237.2 457.5C237.9 457.5 238.6 457.3 239.3 456.8C240.3 456.1 241.2 453.9 242.2 453.9C243.4 453.9 244.6 456.0 245.8 456.0C247.0 456.0 248.2 456.2 249.4 455.8C250.6 455.3 251.8 454.1 253.0 453.2C254.0 452.4 254.9 450.7 255.9 450.7C257.1 450.7 258.3 451.1 259.5 451.7C260.9 452.4 262.4 453.9 263.8 454.6C265.5 455.4 267.2 456.0 268.9 456.0C270.1 456.0 271.3 455.8 272.5 455.3C273.9 454.8 275.3 453.6 276.8 453.2C278.2 452.7 279.7 452.7 281.1 452.4C282.6 452.2 284.0 451.4 285.4 451.4C286.6 451.4 287.8 454.7 289.0 455.3C290.7 456.2 292.4 455.8 294.1 456.0C296.0 456.3 297.9 456.8 299.8 456.8C301.5 456.8 303.2 455.3 304.9 455.3C306.1 455.3 307.3 456.0 308.5 456.5C309.9 457.0 311.4 458.2 312.8 458.2C314.5 458.2 316.2 458.0 317.9 457.5C319.5 456.9 321.2 454.9 322.9 454.9C324.3 454.9 325.8 456.2 327.2 456.8C328.4 457.3 329.6 458.2 330.8 458.2C332.2 458.2 333.6 456.3 335.0 455.7C336.2 455.1 337.4 454.6 338.6 454.6C339.6 454.6 340.5 455.6 341.5 455.6C342.7 455.6 343.9 454.2 345.1 454.2C346.5 454.2 348.0 455.5 349.4 456.0C350.4 456.4 351.3 457.1 352.3 457.1C353.7 457.1 355.2 455.0 356.6 455.0C358.1 455.0 359.5 458.2 360.9 458.9C362.1 459.6 363.3 459.2 364.5 459.2C366.5 459.2 368.4 457.5 370.3 457.5C372.2 457.5 374.1 458.4 376.1 458.6C377.7 458.8 379.4 459.5 381.1 458.6C382.1 458.2 383.0 456.0 384.0 454.6C385.0 453.2 385.9 450.3 386.9 450.3C387.8 450.3 388.8 450.4 389.8 451.0C391.2 451.9 392.6 453.5 394.1 454.6C395.3 455.5 396.5 456.7 397.7 457.2C398.9 457.7 400.1 457.4 401.3 457.8C402.7 458.2 404.2 459.4 405.6 459.4C407.0 459.4 408.5 457.4 409.9 456.8C411.4 456.1 412.8 456.2 414.3 455.6C415.5 455.1 416.7 454.3 417.9 453.6C418.8 453.1 419.8 452.0 420.7 452.0C421.9 452.0 423.1 455.3 424.3 455.3C425.5 455.3 426.7 454.7 427.9 453.9C428.9 453.2 429.9 452.0 430.8 451.0C431.5 450.3 432.3 448.8 433.0 448.8C433.7 448.8 434.3 448.5 435.0 449.1C436.0 449.9 436.9 451.8 437.9 453.2C438.8 454.5 439.8 457.2 440.8 457.2C442.7 457.2 444.6 456.8 446.5 456.8C448.4 456.8 450.4 458.9 452.3 458.9C453.7 458.9 455.2 457.0 456.6 456.5C458.1 456.0 459.5 456.0 460.9 456.0C462.1 456.0 463.3 456.8 464.5 456.8C466.0 456.8 467.4 454.9 468.9 454.9C470.5 454.9 472.2 458.2 473.9 458.2C475.3 458.2 476.8 455.5 478.2 454.6C479.2 454.0 480.1 453.6 481.1 453.6C482.6 453.6 484.0 455.3 485.4 455.6C487.1 456.0 488.8 456.0 490.5 455.6C492.4 455.1 494.3 452.9 496.2 452.9C497.4 452.9 498.6 454.6 499.8 454.6C501.0 454.6 502.2 453.6 503.4 453.6C504.6 453.6 505.8 454.9 507.0 454.9C508.5 454.9 509.9 454.6 511.4 454.6C513.3 454.6 515.2 458.2 517.1 458.2C518.8 458.2 520.5 454.6 522.2 454.6C523.1 454.6 524.1 455.2 525.1 455.8C526.5 456.6 527.9 458.9 529.4 458.9C530.8 458.9 532.3 457.3 533.7 456.5" stroke="#000" stroke-width="1.2" fill="none" stroke-linejoin="round"/>
<text class="s" x="551.2" y="465.6" font-size="20.7" fill="#000">3</text>
<path d="M87.0 443.0C103.0 443.0 119.0 443.1 135.0 443.0C139.8 442.9 144.6 442.8 149.4 442.5C151.8 442.4 154.2 441.9 156.6 441.6C158.5 441.4 160.5 441.4 162.4 440.9C163.6 440.6 164.8 440.4 166.0 439.5C166.9 438.7 167.9 437.2 168.9 435.9C169.8 434.5 170.8 432.3 171.7 431.3C172.7 430.3 173.7 430.1 174.6 429.8C175.8 429.5 177.0 429.4 178.2 429.4C178.9 429.4 179.7 430.7 180.4 431.6C181.1 432.4 181.8 434.4 182.6 434.4C183.5 434.4 184.5 433.7 185.4 433.7C186.4 433.7 187.4 434.2 188.3 434.7C189.3 435.3 190.2 437.0 191.2 437.0C191.9 437.0 192.6 437.3 193.4 436.6C194.3 435.7 195.3 433.5 196.2 432.3C197.2 431.0 198.2 429.6 199.1 429.0C199.8 428.4 200.6 428.7 201.3 428.7C202.2 428.7 203.2 429.7 204.2 430.1C205.1 430.5 206.1 430.8 207.0 430.8C207.8 430.8 208.5 429.8 209.2 429.8C210.2 429.8 211.1 431.6 212.1 432.3C213.0 432.9 214.0 433.7 215.0 433.7C216.2 433.7 217.4 431.6 218.6 431.6C219.3 431.6 220.0 432.8 220.7 433.7C221.5 434.6 222.2 436.3 222.9 437.0C223.9 438.0 224.8 438.4 225.8 438.8C227.2 439.2 228.7 439.5 230.1 439.5C231.7 439.5 233.4 438.4 235.0 438.0C236.4 437.7 237.9 437.7 239.3 437.6C240.8 437.5 242.2 437.3 243.6 437.3C245.1 437.3 246.5 438.8 248.0 438.8C249.4 438.8 250.9 436.9 252.3 436.2C253.7 435.4 255.2 434.4 256.6 434.4C257.8 434.4 259.0 434.9 260.2 435.6C261.7 436.4 263.1 437.9 264.5 438.8C266.0 439.6 267.4 440.5 268.9 440.5C270.1 440.5 271.3 439.2 272.5 438.5C273.7 437.7 274.9 436.2 276.1 436.2C277.5 436.2 278.9 438.5 280.4 438.5C281.8 438.5 283.3 435.2 284.7 435.2C285.9 435.2 287.1 436.5 288.3 437.0C289.8 437.6 291.2 437.9 292.6 438.5C294.3 439.1 296.0 440.6 297.7 440.6C299.4 440.6 301.0 439.8 302.7 439.5C304.6 439.1 306.6 439.1 308.5 438.5C309.9 438.0 311.4 436.2 312.8 436.2C314.3 436.2 315.7 438.1 317.1 438.8C319.1 439.6 321.0 440.0 322.9 440.5C324.3 440.9 325.8 441.3 327.2 441.3C328.4 441.3 329.6 440.0 330.8 439.5C332.2 438.8 333.6 437.7 335.0 437.7C336.4 437.7 337.9 439.4 339.3 439.9C341.0 440.5 342.7 441.2 344.4 441.2C346.0 441.2 347.7 440.3 349.4 439.9C350.9 439.5 352.3 438.8 353.7 438.8C355.4 438.8 357.1 440.2 358.8 440.2C360.7 440.2 362.6 438.5 364.5 438.5C366.2 438.5 367.9 440.5 369.6 440.5C371.3 440.5 372.9 438.5 374.6 438.5C376.3 438.5 378.0 438.7 379.7 439.0C381.3 439.4 383.0 440.5 384.7 440.5C386.2 440.5 387.6 440.2 389.0 439.5C390.5 438.8 391.9 436.2 393.4 436.2C394.6 436.2 395.8 439.2 397.0 439.2C398.4 439.2 399.8 436.2 401.3 436.2C402.7 436.2 404.2 438.8 405.6 438.8C407.5 438.8 409.4 436.6 411.4 436.6C412.8 436.6 414.3 438.0 415.7 438.0C417.4 438.0 419.1 435.6 420.7 435.6C421.9 435.6 423.1 437.4 424.3 437.7C425.8 438.2 427.2 438.0 428.7 438.0C430.8 438.0 432.9 436.6 435.0 436.6C436.9 436.6 438.8 437.7 440.8 437.7C442.7 437.7 444.6 435.4 446.5 434.9C448.9 434.3 451.3 434.6 453.7 434.4C456.1 434.2 458.5 434.3 460.9 433.7C462.4 433.4 463.8 431.6 465.3 431.6C466.7 431.6 468.1 435.2 469.6 435.2C471.0 435.2 472.5 435.1 473.9 434.7C475.1 434.4 476.3 433.0 477.5 433.0C478.5 433.0 479.4 435.2 480.4 435.2C481.8 435.2 483.3 430.4 484.7 430.4C485.9 430.4 487.1 432.2 488.3 433.0C489.5 433.7 490.7 434.9 491.9 434.9C493.1 434.9 494.3 434.8 495.5 434.1C497.0 433.4 498.4 430.8 499.8 430.8C501.3 430.8 502.7 436.2 504.2 436.2C505.6 436.2 507.0 435.1 508.5 434.7C510.4 434.2 512.3 433.3 514.3 433.3C515.7 433.3 517.1 434.7 518.6 434.7C520.5 434.7 522.4 433.0 524.3 433.0C526.3 433.0 528.2 435.4 530.1 435.4C531.3 435.4 532.5 434.5 533.7 434.0" stroke="#000" stroke-width="1.2" fill="none" stroke-linejoin="round"/>
<text class="s" x="551.2" y="448.0" font-size="20.7" fill="#000">7</text>
<path d="M87.0 425.3C103.0 425.3 119.0 425.4 135.0 425.3C138.8 425.3 142.7 425.5 146.5 425.1C148.0 424.9 149.4 424.2 150.9 423.6C152.3 423.1 153.7 421.8 155.2 421.8C156.4 421.8 157.6 423.2 158.8 423.2C160.0 423.2 161.2 423.1 162.4 422.9C163.3 422.8 164.3 422.3 165.3 422.2C166.2 422.1 167.2 422.9 168.1 422.2C169.1 421.5 170.1 419.3 171.0 417.9C172.0 416.4 172.9 414.8 173.9 413.5C174.6 412.6 175.3 412.1 176.1 411.4C176.8 410.7 177.5 409.2 178.2 409.2C178.8 409.2 179.4 411.0 180.0 412.1C180.7 413.6 181.5 416.9 182.3 416.9C183.1 416.9 183.9 414.3 184.7 414.3C185.4 414.3 186.2 415.7 186.9 415.7C188.1 415.7 189.3 413.8 190.5 413.8C191.2 413.8 191.9 415.4 192.6 416.0C193.4 416.6 194.1 417.4 194.8 417.4C195.5 417.4 196.2 414.4 197.0 412.8C197.7 411.2 198.4 408.9 199.1 407.8C199.7 406.8 200.4 406.3 201.0 406.3C201.8 406.3 202.6 407.8 203.4 408.5C204.4 409.3 205.4 410.7 206.3 410.7C207.5 410.7 208.7 408.5 209.9 408.5C210.9 408.5 211.8 409.6 212.8 410.7C214.0 411.9 215.2 415.4 216.4 415.4C217.6 415.4 218.8 413.5 220.0 413.5C221.0 413.5 221.9 414.0 222.9 414.5C224.1 415.2 225.3 416.3 226.5 417.1C227.2 417.6 227.9 418.6 228.7 418.6C229.6 418.6 230.6 415.4 231.5 415.4C232.7 415.4 233.8 419.3 235.0 419.3C236.2 419.3 237.4 416.2 238.6 415.0C239.6 414.0 240.5 412.8 241.5 412.8C242.2 412.8 242.9 414.1 243.6 415.0C244.6 416.2 245.6 419.3 246.5 419.3C247.7 419.3 248.9 417.9 250.1 417.4C251.1 417.1 252.1 416.9 253.0 416.9C254.2 416.9 255.4 418.2 256.6 418.9C257.6 419.4 258.5 420.3 259.5 420.3C260.7 420.3 261.9 418.6 263.1 418.6C264.5 418.6 266.0 420.0 267.4 420.0C268.4 420.0 269.3 419.5 270.3 418.6C271.5 417.5 272.7 414.0 273.9 414.0C274.9 414.0 275.8 414.5 276.8 415.0C277.7 415.5 278.7 417.1 279.7 417.1C281.1 417.1 282.6 416.4 284.0 416.4C285.2 416.4 286.4 420.0 287.6 420.7C289.3 421.7 291.0 421.5 292.6 421.5C294.6 421.5 296.5 421.5 298.4 421.2C300.3 420.8 302.2 419.9 304.2 419.3C305.8 418.8 307.5 418.6 309.2 417.9C310.4 417.3 311.6 415.4 312.8 415.4C314.0 415.4 315.2 417.1 316.4 417.9C318.1 418.9 319.8 420.0 321.5 420.7C322.9 421.4 324.3 422.2 325.8 422.2C327.2 422.2 328.7 419.3 330.1 419.3C331.7 419.3 333.4 420.1 335.0 420.4C336.9 420.8 338.8 421.1 340.8 421.5C342.4 421.7 344.1 422.2 345.8 422.2C347.0 422.2 348.2 420.7 349.4 420.7C350.9 420.7 352.3 422.5 353.7 422.5C356.1 422.5 358.5 421.5 360.9 421.5C363.3 421.5 365.7 422.2 368.1 422.2C370.1 422.2 372.0 419.3 373.9 419.3C375.3 419.3 376.8 420.0 378.2 420.0C380.1 420.0 382.1 419.3 384.0 419.3C385.9 419.3 387.8 420.9 389.8 421.2C392.2 421.6 394.6 421.5 397.0 421.5C399.4 421.5 401.8 420.7 404.2 420.7C406.1 420.7 408.0 421.2 409.9 421.2C411.8 421.2 413.8 420.4 415.7 420.0C417.1 419.8 418.6 419.3 420.0 419.3C421.5 419.3 422.9 420.3 424.3 420.7C425.3 421.1 426.3 421.8 427.2 421.8C428.7 421.8 430.1 419.8 431.5 419.3C432.7 418.9 433.8 418.9 435.0 418.8C437.4 418.6 439.8 419.0 442.2 418.6C444.6 418.2 447.0 417.0 449.4 416.4C451.8 415.8 454.2 415.3 456.6 415.0C458.8 414.7 460.9 414.5 463.1 414.5C464.1 414.5 465.0 416.0 466.0 416.0C467.2 416.0 468.4 413.5 469.6 413.5C471.0 413.5 472.5 414.7 473.9 414.7C476.3 414.7 478.7 414.3 481.1 414.3C483.5 414.3 485.9 414.3 488.3 414.5C490.2 414.7 492.2 415.1 494.1 415.4C495.5 415.7 497.0 416.1 498.4 416.4C499.6 416.7 500.8 417.4 502.0 417.4C503.2 417.4 504.4 415.7 505.6 415.7C507.0 415.7 508.5 417.3 509.9 417.9C510.9 418.2 511.8 418.6 512.8 418.6C514.0 418.6 515.2 416.3 516.4 415.4C517.1 414.9 517.9 414.3 518.6 414.3C519.5 414.3 520.5 416.5 521.5 416.9C523.4 417.7 525.3 417.7 527.2 417.9C529.4 418.0 531.5 417.9 533.7 417.9" stroke="#000" stroke-width="1.2" fill="none" stroke-linejoin="round"/>
<text class="s" x="551.2" y="430.3" font-size="20.7" fill="#000">16</text>
<path d="M87.0 407.7C103.0 407.7 119.0 407.8 135.0 407.7C139.1 407.7 143.2 407.9 147.2 407.3C148.2 407.2 149.2 406.1 150.1 405.6C151.1 405.1 152.1 404.5 153.0 404.5C154.0 404.5 154.9 405.5 155.9 405.9C156.9 406.3 157.8 406.8 158.8 406.8C160.0 406.8 161.2 405.9 162.4 405.6C163.3 405.4 164.3 405.3 165.3 405.3C166.0 405.3 166.7 406.6 167.4 406.6C168.6 406.6 169.8 405.9 171.0 405.3C172.0 404.9 172.9 405.0 173.9 403.5C174.5 402.5 175.1 399.2 175.6 397.7C176.3 396.1 176.9 394.1 177.5 394.1C178.1 394.1 178.8 396.3 179.4 397.7C180.0 399.0 180.5 402.0 181.1 402.0C182.1 402.0 183.0 399.6 184.0 399.6C184.7 399.6 185.4 401.3 186.2 401.3C186.9 401.3 187.6 399.8 188.3 399.1C188.9 398.6 189.5 397.7 190.0 397.7C190.7 397.7 191.3 400.1 191.9 401.3C192.4 402.2 192.9 403.9 193.4 403.9C194.0 403.9 194.6 401.1 195.2 399.1C195.7 397.6 196.2 394.5 196.7 393.4C197.2 392.0 197.8 391.5 198.4 391.5C199.0 391.5 199.6 393.1 200.1 394.1C201.0 395.6 201.9 398.1 202.7 399.1C203.7 400.3 204.6 400.6 205.6 400.6C206.3 400.6 207.0 398.2 207.8 397.0C208.5 395.8 209.2 394.0 209.9 393.4C210.6 392.8 211.4 392.6 212.1 393.4C212.8 394.1 213.5 396.2 214.3 397.7C215.0 399.1 215.7 402.0 216.4 402.0C217.1 402.0 217.9 401.7 218.6 401.0C219.5 400.0 220.5 397.9 221.5 397.0C222.2 396.3 222.9 396.2 223.6 396.2C224.3 396.2 225.1 397.9 225.8 399.1C226.6 400.6 227.5 404.2 228.4 404.2C229.2 404.2 230.0 400.9 230.8 399.9C231.5 398.9 232.3 398.4 233.0 398.4C233.7 398.4 234.3 399.9 235.0 399.9C236.0 399.9 236.9 396.7 237.9 396.7C239.1 396.7 240.3 396.4 241.5 397.3C242.7 398.1 243.9 400.7 245.1 401.6C246.3 402.5 247.5 402.1 248.7 402.7C250.1 403.5 251.6 405.6 253.0 405.6C254.5 405.6 255.9 401.8 257.3 400.6C258.8 399.4 260.2 398.4 261.7 398.4C263.1 398.4 264.5 403.5 266.0 403.5C267.4 403.5 268.9 401.2 270.3 399.9C271.5 398.8 272.7 396.2 273.9 396.2C274.6 396.2 275.3 397.2 276.1 398.4C276.8 399.6 277.5 403.5 278.2 403.5C279.4 403.5 280.6 402.7 281.8 402.7C283.5 402.7 285.2 405.6 286.9 405.6C288.1 405.6 289.3 405.2 290.5 404.9C291.9 404.5 293.4 403.5 294.8 403.5C296.2 403.5 297.7 405.9 299.1 405.9C300.6 405.9 302.0 405.7 303.4 405.3C304.9 405.0 306.3 403.9 307.8 403.9C309.0 403.9 310.2 404.2 311.4 404.2C312.6 404.2 313.8 402.7 315.0 402.7C316.2 402.7 317.4 402.7 318.6 403.0C320.0 403.4 321.5 404.3 322.9 404.9C324.1 405.4 325.3 406.3 326.5 406.3C327.7 406.3 328.9 405.8 330.1 405.6C331.7 405.4 333.4 405.3 335.0 405.3C337.4 405.3 339.8 405.7 342.2 405.9C344.4 406.1 346.5 406.3 348.7 406.3C350.4 406.3 352.1 404.9 353.7 404.9C356.1 404.9 358.5 405.6 360.9 405.6C363.3 405.6 365.7 405.2 368.1 405.2C370.5 405.2 372.9 406.3 375.3 406.3C377.7 406.3 380.1 406.1 382.6 405.3C383.5 405.0 384.5 403.6 385.4 403.0C386.3 402.5 387.2 402.0 388.0 402.0C388.8 402.0 389.7 403.5 390.5 404.2C391.2 404.8 391.9 405.9 392.6 405.9C393.8 405.9 395.0 402.7 396.2 402.7C397.7 402.7 399.1 403.5 400.6 403.9C402.2 404.3 403.9 405.2 405.6 405.2C407.5 405.2 409.4 405.0 411.4 404.6C413.3 404.2 415.2 402.7 417.1 402.7C418.1 402.7 419.1 403.5 420.0 403.5C421.2 403.5 422.4 402.4 423.6 402.4C425.1 402.4 426.5 404.9 427.9 404.9C429.1 404.9 430.3 404.3 431.5 403.5C432.7 402.7 433.8 400.7 435.0 400.1C436.9 399.2 438.8 399.1 440.8 399.1C442.0 399.1 443.2 404.2 444.4 404.2C445.8 404.2 447.2 399.1 448.7 399.1C450.1 399.1 451.6 400.6 453.0 400.6C454.2 400.6 455.4 397.5 456.6 396.7C457.6 396.0 458.5 396.9 459.5 396.2C460.9 395.2 462.4 391.5 463.8 391.5C464.8 391.5 465.7 393.0 466.7 394.1C467.7 395.2 468.6 398.0 469.6 398.0C470.8 398.0 472.0 393.8 473.2 393.8C474.4 393.8 475.6 397.1 476.8 397.7C478.7 398.6 480.6 397.7 482.6 398.1C483.5 398.3 484.5 399.6 485.4 399.6C486.6 399.6 487.8 396.4 489.0 394.8C489.8 393.9 490.5 391.9 491.2 391.9C491.9 391.9 492.6 394.0 493.4 395.5C494.3 397.5 495.3 402.4 496.2 402.4C497.2 402.4 498.2 403.0 499.1 402.0C500.1 401.0 501.0 397.5 502.0 396.2C502.7 395.3 503.4 395.5 504.2 395.5C505.4 395.5 506.6 397.7 507.8 397.7C508.7 397.7 509.7 395.6 510.6 394.1C511.4 393.0 512.1 389.8 512.8 389.8C513.5 389.8 514.3 391.9 515.0 393.4C515.9 395.3 516.9 399.9 517.9 399.9C518.8 399.9 519.8 399.0 520.7 397.7C521.9 396.1 523.1 391.2 524.3 391.2C525.5 391.2 526.7 395.2 527.9 395.2C528.9 395.2 529.9 393.3 530.8 391.9C531.8 390.5 532.7 388.6 533.7 386.9" stroke="#000" stroke-width="1.2" fill="none" stroke-linejoin="round"/>
<text class="s" x="551.2" y="412.7" font-size="20.7" fill="#000">32</text>
<path d="M87.0 390.0C103.0 390.0 119.0 390.2 135.0 390.0C139.3 390.0 143.6 390.2 148.0 389.4C148.9 389.3 149.9 388.0 150.9 387.3C151.6 386.8 152.3 385.8 153.0 385.8C154.0 385.8 154.9 386.9 155.9 387.3C156.9 387.6 157.8 388.0 158.8 388.0C160.2 388.0 161.7 387.3 163.1 387.0C164.1 386.8 165.0 386.9 166.0 386.6C166.9 386.2 167.9 385.7 168.9 385.1C169.6 384.7 170.3 383.7 171.0 383.7C171.7 383.7 172.5 384.4 173.2 384.4C173.9 384.4 174.6 379.8 175.3 377.9C175.9 376.4 176.5 374.3 177.1 374.3C177.7 374.3 178.3 376.7 178.9 377.9C179.7 379.3 180.4 382.2 181.1 382.2C182.1 382.2 183.0 381.2 184.0 380.8C184.7 380.5 185.4 381.1 186.2 380.1C186.6 379.4 187.1 376.9 187.6 375.7C188.2 374.3 188.8 372.1 189.5 372.1C190.0 372.1 190.6 373.9 191.2 375.0C191.9 376.5 192.6 380.1 193.4 380.1C194.1 380.1 194.8 377.5 195.5 375.7C196.1 374.4 196.7 372.0 197.2 370.7C197.7 369.7 198.2 368.8 198.7 368.8C199.3 368.8 199.9 370.0 200.6 371.4C201.3 373.0 202.0 376.3 202.7 377.9C203.7 380.1 204.6 383.0 205.6 383.0C206.3 383.0 207.0 383.1 207.8 382.2C208.5 381.4 209.2 378.9 209.9 377.9C210.6 376.9 211.4 376.0 212.1 376.0C213.0 376.0 214.0 378.2 215.0 379.3C215.9 380.5 216.9 382.7 217.9 382.7C218.8 382.7 219.8 380.3 220.7 379.3C221.2 378.9 221.7 378.3 222.2 378.3C223.4 378.3 224.6 380.0 225.8 380.8C227.0 381.6 228.2 383.2 229.4 383.2C230.6 383.2 231.8 382.3 233.0 381.5C233.7 381.0 234.3 379.9 235.0 379.3C236.2 378.4 237.4 377.2 238.6 377.2C239.6 377.2 240.5 378.1 241.5 379.3C242.9 381.2 244.4 386.6 245.8 386.6C247.0 386.6 248.2 385.1 249.4 385.1C250.6 385.1 251.8 386.1 253.0 386.1C254.2 386.1 255.4 382.8 256.6 381.5C257.6 380.5 258.5 379.3 259.5 379.3C260.7 379.3 261.9 381.2 263.1 382.2C264.5 383.4 266.0 385.8 267.4 385.8C268.9 385.8 270.3 384.8 271.7 383.7C272.9 382.8 274.1 379.8 275.3 379.8C276.3 379.8 277.3 383.0 278.2 383.0C279.2 383.0 280.1 382.2 281.1 382.2C282.6 382.2 284.0 384.3 285.4 385.1C286.2 385.5 286.9 385.8 287.6 385.8C288.8 385.8 290.0 384.3 291.2 384.0C292.4 383.6 293.6 383.7 294.8 383.7C296.0 383.7 297.2 386.1 298.4 386.6C300.3 387.4 302.2 387.6 304.2 387.6C306.1 387.6 308.0 387.1 309.9 386.8C311.8 386.6 313.8 386.5 315.7 385.8C317.6 385.1 319.5 382.7 321.5 382.7C322.9 382.7 324.3 385.2 325.8 385.8C327.2 386.5 328.7 386.6 330.1 386.6C331.7 386.6 333.4 384.4 335.0 384.4C335.5 384.4 336.0 385.8 336.4 385.8C338.1 385.8 339.8 383.0 341.5 383.0C342.7 383.0 343.9 384.1 345.1 384.1C346.5 384.1 348.0 383.0 349.4 383.0C350.9 383.0 352.3 385.8 353.7 385.8C355.2 385.8 356.6 385.1 358.1 385.1C359.7 385.1 361.4 385.5 363.1 385.8C364.8 386.2 366.5 387.3 368.1 387.3C369.8 387.3 371.5 385.0 373.2 384.4C375.3 383.6 377.5 383.2 379.7 383.2C381.1 383.2 382.6 385.2 384.0 385.8C385.0 386.3 385.9 386.6 386.9 386.6C388.1 386.6 389.3 384.4 390.5 384.4C392.2 384.4 393.8 386.2 395.5 386.6C397.4 387.0 399.4 386.8 401.3 386.8C402.7 386.8 404.2 385.8 405.6 385.8C407.0 385.8 408.5 387.3 409.9 387.3C411.1 387.3 412.3 385.1 413.5 385.1C414.7 385.1 415.9 386.3 417.1 386.6C418.6 386.8 420.0 387.0 421.5 386.6C422.9 386.1 424.3 383.7 425.8 383.7C427.2 383.7 428.7 384.3 430.1 384.4C431.7 384.5 433.4 384.2 435.0 384.4C436.9 384.6 438.8 385.4 440.8 385.4C442.2 385.4 443.6 381.1 445.1 381.1C446.3 381.1 447.5 381.8 448.7 381.8C450.1 381.8 451.6 380.4 453.0 379.8C454.2 379.3 455.4 378.3 456.6 378.3C458.1 378.3 459.5 382.2 460.9 382.2C462.6 382.2 464.3 379.1 466.0 379.1C467.2 379.1 468.4 380.4 469.6 381.1C471.0 381.9 472.5 383.7 473.9 383.7C475.3 383.7 476.8 381.3 478.2 380.8C479.9 380.2 481.6 380.9 483.3 380.4C484.2 380.1 485.2 378.3 486.2 378.3C487.6 378.3 489.0 383.7 490.5 383.7C492.4 383.7 494.3 379.3 496.2 379.3C497.9 379.3 499.6 381.8 501.3 381.8C502.7 381.8 504.2 381.4 505.6 381.1C507.0 380.7 508.5 379.8 509.9 379.8C511.1 379.8 512.3 383.2 513.5 383.2C515.2 383.2 516.9 379.8 518.6 379.8C520.5 379.8 522.4 381.3 524.3 381.8C525.8 382.1 527.2 382.1 528.7 382.2C530.3 382.4 532.0 382.7 533.7 383.0" stroke="#000" stroke-width="1.2" fill="none" stroke-linejoin="round"/>
<text class="s" x="551.2" y="395.0" font-size="20.7" fill="#000">7</text>
<path d="M87.0 372.4C103.0 372.4 119.0 372.5 135.0 372.4C139.3 372.4 143.6 372.7 148.0 371.9C148.9 371.7 149.9 370.1 150.9 369.3C152.1 368.2 153.3 366.4 154.5 366.4C155.4 366.4 156.4 366.7 157.3 367.1C158.5 367.6 159.7 369.3 160.9 369.3C161.9 369.3 162.9 367.9 163.8 367.1C164.8 366.3 165.7 364.2 166.7 364.2C167.7 364.2 168.6 365.1 169.6 365.7C170.3 366.1 171.0 367.1 171.7 367.1C172.7 367.1 173.7 364.3 174.6 363.5C175.6 362.7 176.5 362.5 177.5 362.5C178.5 362.5 179.4 363.5 180.4 364.2C181.8 365.3 183.3 367.8 184.7 367.8C186.2 367.8 187.6 365.4 189.0 364.2C190.2 363.2 191.4 361.3 192.6 361.3C193.4 361.3 194.1 363.1 194.8 363.1C195.5 363.1 196.2 362.0 197.0 359.9C197.4 358.5 197.9 354.8 198.4 352.7C199.0 350.2 199.6 346.2 200.1 346.2C200.8 346.2 201.4 348.4 202.0 349.8C202.7 351.5 203.4 353.5 204.2 355.6C205.1 358.3 206.1 362.1 207.0 364.2C208.0 366.3 209.0 368.3 209.9 368.3C210.9 368.3 211.8 368.4 212.8 367.1C213.5 366.1 214.3 362.9 215.0 361.3C215.7 359.8 216.4 357.7 217.1 357.7C218.1 357.7 219.1 359.4 220.0 359.9C221.0 360.4 221.9 360.6 222.9 360.6C223.8 360.6 224.6 358.9 225.5 358.9C226.3 358.9 227.1 362.2 227.9 363.5C228.4 364.2 228.9 364.9 229.4 364.9C230.3 364.9 231.3 362.3 232.3 361.3C233.2 360.4 234.1 359.2 235.0 359.2C236.2 359.2 237.4 362.8 238.6 364.2C239.8 365.7 241.0 366.7 242.2 367.8C243.4 368.9 244.6 370.7 245.8 370.7C247.0 370.7 248.2 369.8 249.4 369.3C250.9 368.6 252.3 368.2 253.7 367.1C254.9 366.2 256.1 363.1 257.3 363.1C258.5 363.1 259.7 365.4 260.9 366.4C261.9 367.1 262.9 368.3 263.8 368.3C265.0 368.3 266.2 367.8 267.4 367.1C268.4 366.5 269.3 364.2 270.3 364.2C271.3 364.2 272.2 367.4 273.2 367.4C274.4 367.4 275.6 362.5 276.8 362.5C278.0 362.5 279.2 363.6 280.4 364.2C281.8 364.9 283.3 366.4 284.7 366.4C286.2 366.4 287.6 363.5 289.0 363.5C290.5 363.5 291.9 369.3 293.4 369.3C294.6 369.3 295.8 364.8 297.0 363.5C297.7 362.7 298.4 362.8 299.1 362.8C300.3 362.8 301.5 365.2 302.7 366.4C303.7 367.3 304.6 369.3 305.6 369.3C307.5 369.3 309.4 367.6 311.4 367.1C312.8 366.8 314.3 367.1 315.7 366.8C316.9 366.6 318.1 365.7 319.3 365.7C320.7 365.7 322.2 369.7 323.6 369.7C324.8 369.7 326.0 366.0 327.2 364.9C328.4 363.8 329.6 363.1 330.8 363.1C332.2 363.1 333.6 366.8 335.0 367.5C336.4 368.3 337.9 367.8 339.3 367.8C340.8 367.9 342.2 367.3 343.6 367.8C345.6 368.5 347.5 371.1 349.4 371.1C350.9 371.1 352.3 369.9 353.7 369.3C354.9 368.7 356.1 367.5 357.3 367.5C358.5 367.5 359.7 370.2 360.9 370.7C362.4 371.3 363.8 370.9 365.3 370.7C366.7 370.5 368.1 369.3 369.6 369.3C371.0 369.3 372.5 371.1 373.9 371.1C375.3 371.1 376.8 370.7 378.2 370.3C379.7 369.8 381.1 369.1 382.6 368.5C384.0 367.9 385.4 366.7 386.9 366.7C387.8 366.7 388.8 367.8 389.8 368.5C390.7 369.3 391.7 371.1 392.6 371.1C394.3 371.1 396.0 367.4 397.7 367.4C398.9 367.4 400.1 370.3 401.3 370.3C402.2 370.3 403.2 368.2 404.2 367.1C404.9 366.3 405.6 364.7 406.3 364.7C407.3 364.7 408.2 366.5 409.2 367.1C410.4 367.9 411.6 368.8 412.8 368.8C414.3 368.8 415.7 367.1 417.1 367.1C418.1 367.1 419.1 370.0 420.0 370.0C421.2 370.0 422.4 367.1 423.6 367.1C424.6 367.1 425.5 367.4 426.5 367.4C427.7 367.4 428.9 362.5 430.1 362.5C431.1 362.5 432.0 363.2 433.0 363.5C433.7 363.7 434.3 363.9 435.0 363.9C435.7 363.9 436.4 362.8 437.2 362.8C438.1 362.8 439.1 366.4 440.0 366.4C441.2 366.4 442.4 357.7 443.6 357.7C444.4 357.7 445.1 359.7 445.8 361.3C446.8 363.5 447.7 369.3 448.7 369.3C449.6 369.3 450.6 365.8 451.6 364.2C452.5 362.7 453.5 359.9 454.5 359.9C455.7 359.9 456.9 363.9 458.1 363.9C459.3 363.9 460.5 358.5 461.7 358.5C462.6 358.5 463.6 357.9 464.5 359.2C466.0 361.0 467.4 367.8 468.9 367.8C470.3 367.8 471.7 365.4 473.2 365.4C474.1 365.4 475.1 367.1 476.1 367.1C477.3 367.1 478.5 365.1 479.7 363.5C480.4 362.5 481.1 360.1 481.8 359.2C482.6 358.3 483.3 358.0 484.0 358.0C484.7 358.0 485.4 360.4 486.2 362.1C487.1 364.3 488.1 369.7 489.0 369.7C490.2 369.7 491.4 364.2 492.6 364.2C493.8 364.2 495.0 368.3 496.2 368.3C497.4 368.3 498.6 367.1 499.8 367.1C501.3 367.1 502.7 367.5 504.2 367.8C505.6 368.1 507.0 368.1 508.5 368.8C509.4 369.3 510.4 371.4 511.4 371.4C512.8 371.4 514.3 368.5 515.7 368.5C517.6 368.5 519.5 368.8 521.5 368.8C523.4 368.8 525.3 366.7 527.2 366.7C528.4 366.7 529.6 366.6 530.8 367.1C531.8 367.5 532.7 368.5 533.7 369.3" stroke="#000" stroke-width="1.2" fill="none" stroke-linejoin="round"/>
<text class="s" x="551.2" y="377.4" font-size="20.7" fill="#000">1</text>
<path d="M87.0 354.8C103.0 354.8 119.0 354.9 135.0 354.8C139.6 354.7 144.1 354.9 148.7 354.1C149.6 354.0 150.6 352.5 151.6 352.0C152.8 351.3 154.0 350.2 155.2 350.2C156.4 350.2 157.6 350.8 158.8 351.0C160.5 351.2 162.1 351.3 163.8 351.3C165.3 351.3 166.7 349.2 168.1 348.4C169.3 347.6 170.5 346.5 171.7 346.5C172.7 346.5 173.7 346.9 174.6 346.9C175.3 346.9 176.1 343.3 176.8 341.9C177.5 340.4 178.2 338.3 178.9 338.3C179.6 338.3 180.2 340.3 180.8 341.2C181.4 342.0 182.0 343.3 182.6 343.3C183.5 343.3 184.5 339.7 185.4 339.7C186.2 339.7 186.9 340.4 187.6 341.2C188.8 342.4 190.0 344.3 191.2 345.5C192.2 346.4 193.1 347.6 194.1 347.6C195.0 347.6 196.0 348.2 197.0 346.9C197.7 346.0 198.4 342.8 199.1 341.2C199.8 339.5 200.6 336.8 201.3 336.8C202.0 336.8 202.7 336.8 203.4 337.6C204.4 338.5 205.4 340.5 206.3 341.9C207.5 343.6 208.7 346.9 209.9 346.9C210.9 346.9 211.8 345.6 212.8 344.8C213.8 344.0 214.7 342.2 215.7 342.2C216.7 342.2 217.6 343.3 218.6 344.0C219.5 344.8 220.5 346.5 221.5 346.5C222.7 346.5 223.9 345.6 225.1 344.8C226.0 344.1 227.0 341.9 227.9 341.9C228.9 341.9 229.9 342.6 230.8 343.3C231.5 343.9 232.3 345.8 233.0 345.8C233.7 345.8 234.3 344.9 235.0 344.6C236.0 344.2 236.9 343.8 237.9 343.8C239.3 343.8 240.8 350.5 242.2 350.5C244.1 350.5 246.0 346.2 248.0 346.2C249.9 346.2 251.8 347.4 253.7 347.6C255.2 347.9 256.6 347.4 258.1 347.6C260.0 348.0 261.9 349.4 263.8 349.4C265.3 349.4 266.7 347.2 268.1 347.2C269.6 347.2 271.0 348.1 272.5 348.4C273.9 348.7 275.3 349.1 276.8 349.1C278.0 349.1 279.2 347.6 280.4 347.6C281.6 347.6 282.8 349.1 284.0 349.1C285.7 349.1 287.4 348.1 289.0 348.1C290.2 348.1 291.4 348.6 292.6 349.1C293.8 349.6 295.0 351.0 296.2 351.0C297.4 351.0 298.6 349.7 299.8 349.1C300.8 348.6 301.8 348.3 302.7 347.6C303.9 346.8 305.1 344.8 306.3 344.8C307.5 344.8 308.7 345.7 309.9 346.2C310.9 346.6 311.8 347.6 312.8 347.6C314.2 347.6 315.5 345.2 316.8 345.2C318.4 345.2 319.9 349.4 321.5 349.4C323.4 349.4 325.3 348.1 327.2 348.1C329.8 348.1 332.4 348.7 335.0 348.9C336.4 349.1 337.9 349.1 339.3 349.1C341.0 349.1 342.7 346.9 344.4 346.9C345.3 346.9 346.3 349.0 347.2 349.8C348.4 350.8 349.6 352.3 350.9 352.3C352.3 352.3 353.7 351.3 355.2 351.0C356.9 350.5 358.5 350.2 360.2 349.8C362.1 349.4 364.1 349.3 366.0 348.7C367.2 348.3 368.4 347.2 369.6 346.6C370.4 346.2 371.3 345.8 372.2 345.8C373.0 345.8 373.8 346.9 374.6 347.6C375.6 348.5 376.5 350.5 377.5 350.5C379.2 350.5 380.9 350.5 382.6 350.2C384.5 350.0 386.4 349.4 388.3 349.1C389.3 348.9 390.2 348.7 391.2 348.7C392.6 348.7 394.1 351.0 395.5 351.0C397.2 351.0 398.9 350.2 400.6 349.8C401.8 349.5 403.0 349.2 404.2 348.8C405.1 348.5 406.1 347.6 407.0 347.6C408.0 347.6 409.0 349.1 409.9 349.1C411.8 349.1 413.8 348.4 415.7 348.4C417.6 348.4 419.5 350.0 421.5 350.5C422.9 350.9 424.3 351.3 425.8 351.3C427.0 351.3 428.2 351.1 429.4 350.5C430.6 349.9 431.8 348.6 433.0 347.6C433.7 347.1 434.3 346.2 435.0 346.2C436.0 346.2 436.9 349.1 437.9 349.1C439.3 349.1 440.8 347.7 442.2 347.2C443.6 346.7 445.1 345.9 446.5 345.9C448.0 345.9 449.4 347.2 450.9 347.2C452.3 347.2 453.7 347.2 455.2 346.9C456.4 346.7 457.6 345.5 458.8 345.5C459.7 345.5 460.7 346.2 461.7 346.9C462.6 347.6 463.6 349.8 464.5 349.8C466.0 349.8 467.4 346.9 468.9 346.9C470.3 346.9 471.7 349.1 473.2 349.1C474.4 349.1 475.6 346.9 476.8 346.5C478.2 346.0 479.7 346.2 481.1 346.2C483.0 346.2 485.0 346.5 486.9 346.9C488.3 347.2 489.8 348.4 491.2 348.4C493.1 348.4 495.0 346.9 497.0 346.9C498.4 346.9 499.8 348.0 501.3 348.4C503.2 348.9 505.1 349.6 507.0 349.8C509.0 350.0 510.9 349.7 512.8 349.8C514.7 349.9 516.7 349.9 518.6 350.2C520.3 350.5 521.9 351.5 523.6 351.5C525.3 351.5 527.0 347.6 528.7 347.6C530.3 347.6 532.0 349.6 533.7 350.5" stroke="#000" stroke-width="1.2" fill="none" stroke-linejoin="round"/>
<text class="s" x="551.2" y="359.8" font-size="20.7" fill="#000">6</text>
<path d="M87.0 337.1C103.0 337.1 119.0 337.3 135.0 337.1C139.3 337.1 143.6 336.9 148.0 336.4C148.9 336.3 149.9 335.9 150.9 335.4C152.1 334.8 153.3 333.2 154.5 333.2C155.7 333.2 156.9 333.7 158.1 334.0C159.3 334.2 160.5 334.7 161.7 334.7C163.1 334.7 164.5 333.3 166.0 332.5C167.7 331.6 169.3 330.8 171.0 329.6C172.2 328.8 173.4 328.9 174.6 326.8C175.3 325.5 176.1 321.6 176.8 319.6C177.5 317.5 178.2 314.5 178.9 314.5C179.6 314.5 180.2 317.3 180.8 318.8C181.3 320.0 181.8 322.4 182.3 322.4C183.3 322.4 184.4 319.6 185.4 319.6C186.2 319.6 186.9 322.6 187.6 323.9C188.6 325.5 189.5 327.1 190.5 328.2C191.7 329.5 192.9 331.1 194.1 331.1C195.0 331.1 196.0 331.2 197.0 330.4C197.9 329.5 198.9 327.1 199.8 326.0C200.8 325.0 201.8 323.9 202.7 323.9C203.7 323.9 204.6 325.3 205.6 326.0C206.8 327.0 208.0 328.9 209.2 328.9C209.9 328.9 210.6 328.0 211.4 327.5C212.3 326.8 213.3 325.3 214.3 325.3C215.0 325.3 215.7 326.5 216.4 327.5C217.1 328.4 217.9 330.6 218.6 331.1C220.0 331.9 221.5 331.4 222.9 331.4C224.8 331.4 226.7 329.6 228.7 329.6C230.8 329.6 232.9 330.8 235.0 330.8C236.9 330.8 238.8 330.4 240.8 330.4C242.7 330.4 244.6 332.2 246.5 332.2C248.0 332.2 249.4 330.4 250.9 330.4C252.3 330.4 253.7 332.5 255.2 332.5C256.9 332.5 258.5 331.1 260.2 331.1C261.9 331.1 263.6 332.9 265.3 333.2C267.7 333.7 270.1 333.7 272.5 333.7C275.3 333.7 278.2 333.5 281.1 333.5C284.0 333.5 286.9 333.7 289.8 333.7C292.6 333.7 295.5 333.5 298.4 333.2C300.8 333.0 303.2 332.6 305.6 332.2C308.0 331.9 310.4 331.1 312.8 331.1C314.7 331.1 316.7 331.5 318.6 331.5C320.5 331.5 322.4 331.1 324.3 331.1C326.3 331.1 328.2 330.9 330.1 331.4C331.7 331.8 333.4 333.7 335.0 333.7C337.4 333.7 339.8 333.1 342.2 333.0C344.6 332.8 347.0 332.7 349.4 332.5C351.8 332.3 354.2 331.8 356.6 331.8C358.1 331.8 359.5 332.5 360.9 332.5C362.1 332.5 363.3 331.8 364.5 331.8C366.0 331.8 367.4 333.0 368.9 333.2C370.3 333.5 371.7 333.3 373.2 333.2C374.6 333.2 376.1 332.8 377.5 332.8C379.2 332.8 380.9 334.0 382.6 334.0C384.5 334.0 386.4 332.9 388.3 332.5C390.2 332.2 392.2 331.8 394.1 331.8C396.0 331.8 397.9 332.4 399.8 332.8C401.8 333.2 403.7 334.0 405.6 334.0C407.5 334.0 409.4 333.3 411.4 333.2C413.8 333.1 416.2 333.2 418.6 333.2C421.5 333.3 424.3 333.4 427.2 333.5C429.8 333.6 432.4 333.9 435.0 334.0C437.9 334.0 440.8 334.0 443.6 334.0C446.5 333.9 449.4 333.7 452.3 333.7C454.7 333.7 457.1 334.4 459.5 334.4C462.4 334.4 465.3 333.2 468.1 333.2C470.5 333.2 472.9 334.2 475.3 334.2C477.7 334.2 480.1 333.7 482.6 333.7C484.5 333.7 486.4 334.4 488.3 334.4C490.7 334.4 493.1 333.2 495.5 333.2C497.9 333.2 500.3 333.8 502.7 334.0C505.1 334.2 507.5 334.3 509.9 334.4C512.3 334.5 514.7 334.7 517.1 334.7C519.5 334.7 521.9 334.5 524.3 334.2C525.8 334.1 527.2 333.8 528.7 333.7C530.3 333.6 532.0 333.7 533.7 333.7" stroke="#000" stroke-width="1.2" fill="none" stroke-linejoin="round"/>
<text class="s" x="551.2" y="342.1" font-size="20.7" fill="#000">26</text>
<path d="M87.0 319.5C103.0 319.5 119.0 319.7 135.0 319.5C139.1 319.4 143.2 319.4 147.2 318.5C148.2 318.3 149.2 317.1 150.1 316.4C151.3 315.5 152.5 313.8 153.7 313.8C155.2 313.8 156.6 314.4 158.1 314.8C159.5 315.2 160.9 316.4 162.4 316.4C163.6 316.4 164.8 313.8 166.0 313.1C167.4 312.2 168.9 312.4 170.3 311.6C171.5 311.0 172.7 310.2 173.9 308.7C174.6 307.8 175.3 306.3 176.1 304.4C176.6 302.9 177.2 300.0 177.8 298.7C178.3 297.4 178.9 296.5 179.4 296.5C180.0 296.5 180.5 298.9 181.1 300.1C181.8 301.6 182.6 304.4 183.3 304.4C184.0 304.4 184.7 301.5 185.4 301.5C186.0 301.5 186.6 303.3 187.2 304.4C187.9 305.9 188.7 308.1 189.5 309.5C190.3 310.9 191.1 312.1 191.9 312.8C192.9 313.6 193.8 313.8 194.8 313.8C196.0 313.8 197.2 312.5 198.4 311.6C199.6 310.8 200.8 308.7 202.0 308.7C203.0 308.7 203.9 309.6 204.9 310.2C205.8 310.8 206.8 312.3 207.8 312.3C209.0 312.3 210.2 310.5 211.4 310.5C212.6 310.5 213.8 310.6 215.0 310.9C215.9 311.2 216.9 312.3 217.9 312.3C218.8 312.3 219.8 311.2 220.7 311.2C221.5 311.2 222.2 312.4 222.9 313.1C223.6 313.7 224.3 315.2 225.1 315.2C226.0 315.2 227.0 313.2 227.9 312.3C228.7 311.7 229.4 310.6 230.1 310.6C231.7 310.6 233.4 313.2 235.0 313.6C236.9 314.2 238.8 313.8 240.8 313.8C242.4 313.8 244.1 312.3 245.8 312.3C247.0 312.3 248.2 314.7 249.4 314.9C251.8 315.5 254.2 314.8 256.6 314.9C259.0 315.0 261.4 315.3 263.8 315.5C265.7 315.7 267.7 315.9 269.6 315.9C271.3 315.9 272.9 315.5 274.6 315.2C276.1 315.0 277.5 314.2 278.9 314.2C280.1 314.2 281.3 315.2 282.6 315.5C284.5 316.0 286.4 316.4 288.3 316.4C289.8 316.4 291.2 314.9 292.6 314.9C293.6 314.9 294.6 315.2 295.5 315.2C297.0 315.2 298.4 314.5 299.8 314.5C301.3 314.5 302.7 315.7 304.2 315.9C306.1 316.2 308.0 315.9 309.9 315.9C312.3 316.0 314.7 316.4 317.1 316.4C319.5 316.4 321.9 315.4 324.3 315.2C326.3 315.1 328.2 315.1 330.1 315.2C331.7 315.3 333.4 315.8 335.0 315.9C336.9 316.1 338.8 315.8 340.8 315.9C342.4 316.1 344.1 316.7 345.8 316.7C347.2 316.7 348.7 316.7 350.1 316.4C351.8 316.0 353.5 315.1 355.2 314.8C357.1 314.4 359.0 314.2 360.9 314.2C363.3 314.2 365.7 314.4 368.1 314.8C370.5 315.2 372.9 316.4 375.3 316.4C376.8 316.4 378.2 314.8 379.7 314.8C380.9 314.8 382.1 314.9 383.3 314.9C384.5 314.9 385.7 314.1 386.9 314.1C388.3 314.1 389.8 315.2 391.2 315.2C393.1 315.2 395.0 314.5 397.0 314.5C398.9 314.5 400.8 315.0 402.7 315.2C405.1 315.5 407.5 315.9 409.9 315.9C411.4 315.9 412.8 315.8 414.3 315.5C415.7 315.3 417.1 314.5 418.6 314.5C420.0 314.5 421.5 315.7 422.9 315.7C424.8 315.7 426.7 315.0 428.7 314.8C430.8 314.5 432.9 314.2 435.0 314.2C436.9 314.2 438.8 314.2 440.8 314.5C442.7 314.8 444.6 315.9 446.5 315.9C448.0 315.9 449.4 314.9 450.9 314.9C452.8 314.9 454.7 315.9 456.6 315.9C458.3 315.9 460.0 312.8 461.7 312.8C463.1 312.8 464.5 314.9 466.0 314.9C467.2 314.9 468.4 313.8 469.6 313.8C471.5 313.8 473.4 314.5 475.3 314.8C477.7 315.2 480.1 315.9 482.6 315.9C485.0 315.9 487.4 315.0 489.8 314.8C492.2 314.6 494.6 314.7 497.0 314.8C499.4 314.9 501.8 315.0 504.2 315.2C506.6 315.4 509.0 315.8 511.4 315.9C513.8 316.1 516.2 315.9 518.6 315.9C521.0 316.0 523.4 316.2 525.8 316.4C527.2 316.5 528.7 316.5 530.1 316.7C531.3 316.8 532.5 317.1 533.7 317.4" stroke="#000" stroke-width="1.2" fill="none" stroke-linejoin="round"/>
<text class="s" x="551.2" y="324.5" font-size="20.7" fill="#000">12</text>
<path d="M87.0 301.8C103.0 301.8 119.0 301.9 135.0 301.8C139.6 301.8 144.1 302.2 148.7 301.5C149.6 301.4 150.6 300.1 151.6 299.4C152.5 298.7 153.5 297.2 154.5 297.2C155.4 297.2 156.4 297.6 157.3 297.9C158.8 298.4 160.2 299.7 161.7 299.7C162.9 299.7 164.1 297.3 165.3 296.5C166.5 295.7 167.7 295.7 168.9 295.1C170.2 294.3 171.5 293.6 172.8 292.2C173.6 291.2 174.5 290.1 175.3 287.9C176.1 286.0 176.8 282.0 177.5 279.9C178.1 278.1 178.8 276.0 179.4 276.0C180.0 276.0 180.5 278.8 181.1 280.6C181.7 282.5 182.3 287.1 182.8 287.1C183.7 287.1 184.6 285.7 185.4 285.7C186.0 285.7 186.6 288.0 187.2 289.3C187.9 291.1 188.7 293.8 189.5 295.1C190.3 296.4 191.1 296.9 191.9 297.2C192.9 297.6 193.8 297.5 194.8 297.2C196.0 296.8 197.2 295.8 198.4 295.1C199.6 294.3 200.8 292.6 202.0 292.6C202.7 292.6 203.4 293.1 204.2 293.6C205.1 294.4 206.1 296.5 207.0 296.5C207.9 296.5 208.8 294.0 209.6 292.9C210.5 291.8 211.3 290.0 212.1 290.0C213.0 290.0 214.0 291.0 215.0 291.0C216.2 291.0 217.4 290.7 218.6 290.7C219.5 290.7 220.5 292.6 221.5 293.6C222.9 295.1 224.3 298.2 225.8 298.2C227.2 298.2 228.7 297.4 230.1 296.8C231.7 296.1 233.4 294.3 235.0 294.3C236.0 294.3 236.9 294.6 237.9 295.1C238.8 295.5 239.8 297.2 240.8 297.2C242.2 297.2 243.6 293.6 245.1 293.6C246.0 293.6 247.0 295.2 248.0 295.8C249.2 296.5 250.4 297.2 251.6 297.6C253.3 298.2 254.9 298.3 256.6 298.7C258.1 298.9 259.5 299.4 260.9 299.4C262.9 299.4 264.8 296.5 266.7 296.5C268.1 296.5 269.6 299.1 271.0 299.1C272.9 299.1 274.9 298.8 276.8 298.7C279.2 298.5 281.6 298.2 284.0 298.2C285.4 298.2 286.9 300.1 288.3 300.1C289.8 300.1 291.2 296.5 292.6 296.5C294.1 296.5 295.5 297.9 297.0 297.9C298.2 297.9 299.4 297.6 300.6 297.6C302.2 297.6 303.9 300.1 305.6 300.1C307.0 300.1 308.5 299.8 309.9 299.4C311.1 299.0 312.3 297.9 313.5 297.6C315.2 297.3 316.9 297.8 318.6 297.6C319.5 297.5 320.5 297.2 321.5 296.8C322.4 296.4 323.4 295.1 324.3 295.1C325.5 295.1 326.7 297.9 327.9 298.2C330.3 298.9 332.6 298.4 335.0 298.2C337.4 298.1 339.8 297.2 342.2 297.2C343.9 297.2 345.6 297.7 347.2 297.9C348.7 298.2 350.1 298.7 351.6 298.7C353.0 298.7 354.5 296.8 355.9 296.8C357.3 296.8 358.8 298.7 360.2 298.7C361.2 298.7 362.1 297.6 363.1 297.6C364.5 297.6 366.0 299.4 367.4 299.4C369.1 299.4 370.8 298.2 372.5 297.9C374.1 297.6 375.8 298.1 377.5 297.6C379.2 297.2 380.9 295.3 382.6 295.3C384.2 295.3 385.9 298.9 387.6 298.9C389.3 298.9 391.0 298.4 392.6 298.2C394.6 298.0 396.5 297.9 398.4 297.6C400.3 297.4 402.2 296.9 404.2 296.5C406.1 296.1 408.0 295.7 409.9 295.3C411.1 295.1 412.3 294.6 413.5 294.6C414.7 294.6 415.9 296.2 417.1 296.2C418.3 296.2 419.5 294.8 420.7 294.8C422.4 294.8 424.1 295.9 425.8 296.5C427.5 297.1 429.1 298.0 430.8 298.4C432.2 298.7 433.6 298.6 435.0 298.7C436.9 298.7 438.8 299.0 440.8 298.7C442.2 298.4 443.6 297.1 445.1 296.8C447.0 296.3 448.9 296.2 450.9 296.2C452.8 296.2 454.7 296.9 456.6 297.2C459.0 297.7 461.4 298.1 463.8 298.7C465.7 299.1 467.7 299.8 469.6 300.1C471.0 300.3 472.5 300.6 473.9 300.1C475.3 299.6 476.8 297.2 478.2 297.2C479.2 297.2 480.1 298.5 481.1 298.7C483.0 299.0 485.0 298.8 486.9 298.7C488.8 298.5 490.7 297.9 492.6 297.9C494.6 297.9 496.5 298.3 498.4 298.7C500.3 299.0 502.2 300.1 504.2 300.1C506.1 300.1 508.0 299.2 509.9 298.9C511.8 298.7 513.8 298.4 515.7 298.4C517.6 298.4 519.5 298.5 521.5 298.7C523.4 298.8 525.3 299.4 527.2 299.4C529.4 299.4 531.5 298.4 533.7 297.9" stroke="#000" stroke-width="1.2" fill="none" stroke-linejoin="round"/>
<text class="s" x="551.2" y="306.9" font-size="20.7" fill="#000">4</text>
<path d="M87.0 284.2C103.0 284.2 119.0 284.3 135.0 284.2C139.8 284.2 144.6 284.3 149.4 283.6C150.6 283.5 151.8 282.5 153.0 281.8C154.2 281.0 155.4 279.3 156.6 279.3C157.6 279.3 158.5 279.4 159.5 279.6C160.9 279.9 162.4 281.0 163.8 281.0C165.0 281.0 166.2 279.5 167.4 278.9C168.6 278.2 169.8 277.6 171.0 277.0C172.2 276.4 173.4 276.4 174.6 275.3C175.5 274.4 176.4 273.4 177.2 271.0C177.8 269.3 178.4 265.0 178.9 263.0C179.6 260.9 180.2 258.7 180.8 258.7C181.3 258.7 181.8 260.4 182.3 262.3C182.8 264.5 183.4 269.6 184.0 271.0C184.7 272.7 185.4 271.7 186.2 271.7C186.7 271.7 187.3 269.8 187.9 269.8C188.5 269.8 189.1 271.9 189.8 273.1C190.5 274.5 191.2 276.6 191.9 277.4C193.5 279.3 195.1 281.0 196.7 281.0C197.7 281.0 198.8 278.2 199.8 277.4C200.8 276.7 201.8 276.8 202.7 276.4C203.7 276.1 204.6 275.3 205.6 275.3C206.8 275.3 208.0 276.7 209.2 276.7C210.4 276.7 211.6 273.8 212.8 273.8C213.8 273.8 214.7 274.9 215.7 275.3C217.6 276.1 219.5 276.8 221.5 277.4C223.4 278.1 225.3 278.9 227.2 279.3C229.8 279.9 232.4 280.3 235.0 280.3C236.0 280.3 236.9 279.6 237.9 279.6C239.3 279.6 240.8 282.5 242.2 282.5C243.9 282.5 245.6 280.2 247.2 279.6C249.2 278.9 251.1 278.4 253.0 278.4C254.0 278.4 254.9 279.3 255.9 279.9C256.6 280.4 257.3 281.8 258.1 281.8C259.0 281.8 260.0 280.7 260.9 280.7C263.3 280.7 265.7 282.2 268.1 282.2C269.6 282.2 271.0 281.0 272.5 281.0C274.4 281.0 276.3 281.2 278.2 281.5C279.7 281.7 281.1 282.5 282.6 282.5C284.2 282.5 285.9 281.0 287.6 280.7C289.8 280.4 291.9 280.6 294.1 280.6C296.0 280.6 297.9 282.5 299.8 282.5C301.8 282.5 303.7 281.4 305.6 281.0C306.6 280.8 307.5 280.7 308.5 280.7C309.2 280.7 309.9 281.3 310.6 281.3C311.6 281.3 312.6 280.1 313.5 279.6C314.3 279.2 315.0 278.4 315.7 278.4C316.7 278.4 317.6 279.9 318.6 280.3C320.0 281.0 321.5 281.6 322.9 281.8C324.8 282.0 326.7 281.7 328.7 281.8C330.8 281.9 332.9 282.3 335.0 282.3C335.7 282.3 336.4 280.7 337.2 280.7C338.6 280.7 340.0 282.2 341.5 282.2C343.2 282.2 344.8 279.6 346.5 279.6C348.4 279.6 350.4 279.5 352.3 279.9C353.7 280.2 355.2 281.5 356.6 281.5C358.5 281.5 360.5 281.4 362.4 281.3C363.8 281.3 365.3 281.3 366.7 281.0C367.7 280.9 368.6 280.0 369.6 280.0C370.8 280.0 372.0 281.5 373.2 281.5C374.4 281.5 375.6 280.3 376.8 280.3C378.2 280.3 379.7 281.8 381.1 281.8C382.3 281.8 383.5 280.7 384.7 280.7C386.4 280.7 388.1 281.8 389.8 281.8C391.2 281.8 392.6 281.2 394.1 280.7C395.5 280.3 397.0 278.9 398.4 278.9C399.6 278.9 400.8 280.7 402.0 280.7C403.4 280.7 404.9 279.3 406.3 279.3C407.8 279.3 409.2 281.5 410.6 281.5C411.8 281.5 413.0 278.2 414.3 278.2C415.5 278.2 416.7 279.4 417.9 279.6C419.5 279.9 421.2 279.9 422.9 279.9C424.8 279.9 426.7 279.3 428.7 279.3C430.8 279.3 432.9 279.8 435.0 279.8C436.4 279.8 437.9 279.7 439.3 279.6C440.8 279.5 442.2 280.0 443.6 279.3C444.8 278.8 446.0 276.0 447.2 276.0C448.7 276.0 450.1 277.9 451.6 277.9C453.3 277.9 454.9 276.0 456.6 276.0C458.1 276.0 459.5 279.3 460.9 279.3C462.1 279.3 463.3 278.2 464.5 278.2C466.2 278.2 467.9 280.4 469.6 281.0C472.0 281.9 474.4 282.5 476.8 282.5C478.2 282.5 479.7 282.6 481.1 282.2C482.6 281.8 484.0 280.3 485.4 280.3C486.9 280.3 488.3 281.4 489.8 281.8C491.7 282.2 493.6 282.6 495.5 282.8C498.4 283.0 501.3 282.9 504.2 282.9C506.6 282.9 509.0 282.7 511.4 282.5C513.3 282.3 515.2 282.0 517.1 281.8C518.6 281.6 520.0 281.0 521.5 281.0C523.4 281.0 525.3 282.5 527.2 282.5C529.4 282.5 531.5 282.2 533.7 282.0" stroke="#000" stroke-width="1.2" fill="none" stroke-linejoin="round"/>
<text class="s" x="551.2" y="289.2" font-size="20.7" fill="#000">3</text>
<path d="M87.0 266.6C103.0 266.6 119.0 266.7 135.0 266.6C140.3 266.5 145.6 266.6 150.9 265.9C151.8 265.8 152.8 264.7 153.7 264.0C154.7 263.4 155.7 262.2 156.6 261.9C157.8 261.4 159.0 261.6 160.2 261.6C161.9 261.6 163.6 262.3 165.3 262.3C166.3 262.3 167.4 260.2 168.4 259.7C169.8 259.0 171.1 259.6 172.5 258.7C173.5 258.0 174.6 256.8 175.6 255.1C176.5 253.7 177.4 251.0 178.2 249.3C179.2 247.4 180.1 244.3 181.1 244.3C181.7 244.3 182.3 245.2 182.8 246.5C183.5 247.8 184.1 250.7 184.7 252.2C185.2 253.4 185.7 254.4 186.2 254.4C186.9 254.4 187.6 253.9 188.3 253.9C189.5 253.9 190.7 256.8 191.9 258.0C193.1 259.1 194.3 260.0 195.5 260.9C196.7 261.8 197.9 263.5 199.1 263.5C200.1 263.5 201.0 261.6 202.0 260.9C202.7 260.3 203.4 259.4 204.2 259.4C204.9 259.4 205.6 259.7 206.3 260.1C207.3 260.7 208.2 262.3 209.2 262.3C210.4 262.3 211.6 259.4 212.8 259.4C213.8 259.4 214.7 260.4 215.7 260.4C216.7 260.4 217.6 259.9 218.6 259.9C220.5 259.9 222.4 260.8 224.3 261.3C226.3 261.8 228.2 262.3 230.1 262.6C231.7 262.9 233.4 262.9 235.0 263.0C236.9 263.2 238.8 263.5 240.8 263.5C242.4 263.5 244.1 262.0 245.8 261.6C247.0 261.3 248.2 261.3 249.4 261.3C250.6 261.3 251.8 261.7 253.0 262.0C254.7 262.5 256.4 263.4 258.1 263.7C259.5 264.1 260.9 264.0 262.4 264.0C264.3 264.0 266.2 263.3 268.1 263.3C269.6 263.3 271.0 264.0 272.5 264.0C273.9 264.0 275.3 263.2 276.8 263.0C278.2 262.9 279.7 263.5 281.1 263.0C282.3 262.7 283.5 261.1 284.7 260.6C285.9 260.1 287.1 260.1 288.3 260.1C289.5 260.1 290.7 261.9 291.9 262.6C292.9 263.1 293.8 263.7 294.8 263.7C295.6 263.7 296.4 262.4 297.2 261.6C298.0 260.9 298.7 259.4 299.4 259.4C300.3 259.4 301.1 261.0 302.0 261.6C303.0 262.2 303.9 263.0 304.9 263.0C305.8 263.0 306.8 262.6 307.8 262.6C308.7 262.6 309.7 264.2 310.6 264.2C312.3 264.2 314.0 263.5 315.7 263.5C318.6 263.3 321.5 263.6 324.3 263.5C327.9 263.3 331.4 262.6 335.0 262.6C337.4 262.6 339.8 262.9 342.2 263.0C344.4 263.1 346.5 263.0 348.7 263.3C350.1 263.5 351.6 264.8 353.0 264.8C354.7 264.8 356.4 263.4 358.1 263.0C360.0 262.6 361.9 262.3 363.8 262.3C365.7 262.3 367.7 264.0 369.6 264.0C371.0 264.0 372.5 263.0 373.9 263.0C375.1 263.0 376.3 264.2 377.5 264.2C378.9 264.2 380.4 262.1 381.8 261.6C383.5 261.0 385.2 261.2 386.9 261.2C389.0 261.2 391.2 260.9 393.4 261.3C394.6 261.5 395.8 262.5 397.0 263.0C398.2 263.6 399.4 264.5 400.6 264.5C402.2 264.5 403.9 263.0 405.6 263.0C408.0 263.0 410.4 263.3 412.8 263.5C414.7 263.6 416.7 264.0 418.6 264.0C420.5 264.0 422.4 263.3 424.3 263.3C426.3 263.3 428.2 263.5 430.1 263.7C431.7 264.0 433.4 264.8 435.0 264.8C436.9 264.8 438.8 264.3 440.8 264.0C443.2 263.7 445.6 263.0 448.0 263.0C449.4 263.0 450.9 263.7 452.3 263.7C455.2 263.7 458.1 263.3 460.9 263.3C463.3 263.3 465.7 265.2 468.1 265.2C470.5 265.2 472.9 264.2 475.3 264.0C477.7 263.8 480.1 264.0 482.6 264.0C485.0 264.1 487.4 264.5 489.8 264.5C492.2 264.5 494.6 264.0 497.0 264.0C499.4 264.0 501.8 264.8 504.2 264.8C506.1 264.8 508.0 264.5 509.9 264.0C511.8 263.6 513.8 262.6 515.7 262.0C517.6 261.4 519.5 260.4 521.5 260.4C522.9 260.4 524.3 260.6 525.8 260.9C527.2 261.2 528.7 261.8 530.1 262.3C531.3 262.7 532.5 263.1 533.7 263.5" stroke="#000" stroke-width="1.2" fill="none" stroke-linejoin="round"/>
<text class="s" x="551.2" y="271.6" font-size="20.7" fill="#000">10</text>
<path d="M87.0 248.9C103.0 248.9 119.0 249.1 135.0 248.9C140.0 248.9 145.1 248.8 150.1 248.2C151.1 248.1 152.1 247.3 153.0 246.7C154.2 246.1 155.4 245.1 156.6 244.7C157.6 244.4 158.5 244.6 159.5 244.7C161.2 244.9 162.9 245.4 164.5 245.4C165.7 245.4 166.9 243.9 168.1 243.3C169.6 242.6 171.0 242.5 172.5 241.4C173.4 240.7 174.4 239.3 175.3 237.8C176.1 236.7 176.8 235.4 177.5 233.5C178.1 232.0 178.7 229.1 179.2 227.7C179.8 226.5 180.3 225.6 180.8 225.6C181.3 225.6 181.8 226.4 182.3 227.7C183.1 229.9 183.9 236.1 184.7 236.1C185.7 236.1 186.6 234.2 187.6 234.2C188.2 234.2 188.8 235.5 189.5 236.4C190.3 237.5 191.1 239.0 191.9 240.0C192.9 241.1 193.8 242.1 194.8 242.9C195.9 243.7 196.9 245.0 198.0 245.0C199.1 245.0 200.2 243.4 201.3 242.9C202.2 242.3 203.2 241.7 204.2 241.7C205.4 241.7 206.6 243.1 207.8 243.1C209.0 243.1 210.2 241.4 211.4 241.4C212.6 241.4 213.8 243.3 215.0 243.3C215.9 243.3 216.9 243.0 217.9 242.9C218.8 242.7 219.8 242.1 220.7 242.1C222.2 242.1 223.6 244.3 225.1 244.3C226.0 244.3 227.0 243.6 227.9 243.6C230.3 243.6 232.6 244.9 235.0 244.9C236.0 244.9 236.9 244.3 237.9 244.3C239.3 244.3 240.8 246.5 242.2 246.5C243.4 246.5 244.6 245.0 245.8 244.3C246.8 243.8 247.7 242.9 248.7 242.9C250.4 242.9 252.1 242.8 253.7 243.3C255.2 243.7 256.6 245.2 258.1 245.7C259.3 246.1 260.5 246.0 261.7 246.0C263.1 246.0 264.5 245.0 266.0 245.0C267.7 245.0 269.3 246.5 271.0 246.5C272.5 246.5 273.9 246.3 275.3 246.0C276.8 245.7 278.2 244.8 279.7 244.6C281.6 244.3 283.5 244.3 285.4 244.3C287.8 244.2 290.2 244.5 292.6 244.3C294.2 244.1 295.7 243.1 297.2 243.1C298.6 243.1 299.9 245.4 301.3 245.4C303.2 245.4 305.1 244.3 307.0 244.3C309.0 244.3 310.9 244.7 312.8 245.0C315.2 245.4 317.6 245.9 320.0 246.2C321.9 246.4 323.9 246.5 325.8 246.5C328.9 246.5 331.9 245.4 335.0 245.4C336.9 245.4 338.8 246.5 340.8 246.5C342.2 246.5 343.6 245.7 345.1 245.7C347.0 245.7 348.9 246.2 350.9 246.2C352.8 246.2 354.7 245.9 356.6 245.7C358.5 245.6 360.5 245.3 362.4 245.3C364.3 245.3 366.2 246.3 368.1 246.5C370.5 246.7 372.9 246.7 375.3 246.5C377.7 246.2 380.1 245.0 382.6 245.0C384.0 245.0 385.4 245.3 386.9 245.3C388.3 245.3 389.8 242.6 391.2 242.6C392.4 242.6 393.6 243.6 394.8 243.6C396.0 243.6 397.2 242.9 398.4 242.9C399.8 242.9 401.3 243.1 402.7 243.6C404.6 244.2 406.6 246.0 408.5 246.0C410.4 246.0 412.3 245.9 414.3 245.7C416.2 245.6 418.1 245.3 420.0 245.3C421.9 245.3 423.9 246.5 425.8 246.5C427.2 246.5 428.7 245.7 430.1 245.7C431.7 245.7 433.4 245.9 435.0 246.0C437.4 246.1 439.8 246.5 442.2 246.5C444.6 246.5 447.0 246.0 449.4 246.0C451.8 246.0 454.2 246.5 456.6 246.5C458.8 246.5 460.9 246.4 463.1 246.0C465.0 245.7 466.9 244.6 468.9 244.6C471.0 244.6 473.2 245.3 475.3 245.7C477.3 246.1 479.2 246.9 481.1 246.9C483.0 246.9 485.0 246.5 486.9 246.5C488.8 246.5 490.7 247.2 492.6 247.2C494.6 247.2 496.5 246.6 498.4 246.5C500.8 246.3 503.2 246.6 505.6 246.5C507.5 246.3 509.4 246.0 511.4 245.7C513.3 245.4 515.2 244.9 517.1 244.7C519.1 244.5 521.0 244.7 522.9 244.6C524.8 244.4 526.7 244.0 528.7 243.9C530.3 243.7 532.0 243.7 533.7 243.6" stroke="#000" stroke-width="1.2" fill="none" stroke-linejoin="round"/>
<text class="s" x="551.2" y="254.0" font-size="20.7" fill="#000">13</text>
<path d="M87.0 231.3C103.0 231.3 119.0 231.3 135.0 231.3C136.4 231.3 137.9 231.3 139.3 231.3C140.8 231.3 142.2 231.3 143.6 231.3C145.6 231.2 147.5 231.2 149.4 230.9C150.4 230.7 151.3 230.2 152.3 229.9C153.5 229.4 154.7 228.7 155.9 228.4C156.9 228.2 157.8 228.3 158.8 228.3C160.5 228.3 162.1 229.2 163.8 229.2C165.2 229.2 166.5 226.6 167.9 226.6C168.8 226.6 169.8 228.2 170.7 228.2C171.8 228.2 172.8 226.9 173.9 225.6C174.9 224.3 175.8 222.6 176.8 220.5C177.5 219.0 178.2 216.1 178.9 214.8C179.6 213.6 180.2 213.0 180.8 213.0C181.4 213.0 182.0 214.3 182.6 215.5C183.1 216.6 183.7 219.1 184.3 219.8C185.1 220.9 186.0 220.5 186.9 220.8C188.1 221.2 189.3 221.4 190.5 222.0C191.2 222.3 191.9 222.5 192.6 223.4C193.8 224.8 195.0 228.9 196.2 228.9C197.2 228.9 198.2 227.5 199.1 227.0C200.1 226.5 201.0 225.9 202.0 225.9C203.0 225.9 203.9 226.3 204.9 226.7C205.6 227.0 206.3 228.0 207.0 228.0C208.2 228.0 209.4 225.6 210.6 225.6C211.4 225.6 212.1 225.8 212.8 226.3C213.8 226.9 214.7 228.4 215.7 228.9C216.7 229.4 217.6 229.2 218.6 229.2C219.8 229.2 221.0 227.4 222.2 227.4C223.6 227.4 225.1 229.2 226.5 229.2C229.3 229.2 232.2 226.3 235.0 226.3C236.2 226.3 237.4 227.1 238.6 227.7C240.0 228.4 241.5 230.2 242.9 230.2C243.9 230.2 244.8 229.1 245.8 228.4C246.5 227.9 247.2 226.6 248.0 226.6C249.2 226.6 250.4 229.5 251.6 229.5C253.3 229.5 254.9 229.2 256.6 228.9C258.3 228.5 260.0 227.4 261.7 227.4C263.1 227.4 264.5 228.0 266.0 228.0C267.7 228.0 269.3 227.7 271.0 227.7C272.9 227.7 274.9 228.5 276.8 228.9C278.7 229.2 280.6 229.9 282.6 229.9C284.2 229.9 285.9 229.2 287.6 228.9C289.0 228.6 290.5 228.2 291.9 228.2C293.6 228.2 295.3 228.3 297.0 228.7C298.4 229.1 299.8 230.3 301.3 230.3C302.7 230.3 304.2 229.2 305.6 229.2C307.0 229.2 308.5 229.3 309.9 229.6C311.1 229.8 312.3 230.6 313.5 230.6C314.7 230.6 315.9 230.4 317.1 230.2C318.6 229.9 320.0 228.9 321.5 228.9C323.4 228.9 325.3 229.0 327.2 229.2C329.8 229.4 332.4 230.2 335.0 230.2C336.9 230.2 338.8 229.2 340.8 229.2C342.7 229.2 344.6 230.3 346.5 230.3C348.4 230.3 350.4 228.8 352.3 228.4C354.0 228.2 355.7 229.0 357.3 228.4C358.5 228.0 359.7 226.0 360.9 225.6C363.1 224.7 365.3 224.4 367.4 224.4C368.9 224.4 370.3 226.0 371.7 226.6C373.2 227.1 374.6 227.2 376.1 227.7C377.3 228.2 378.5 229.5 379.7 229.5C380.9 229.5 382.1 228.9 383.3 228.9C384.5 228.9 385.7 230.2 386.9 230.2C388.6 230.2 390.2 228.6 391.9 228.0C393.1 227.6 394.3 227.0 395.5 227.0C396.7 227.0 397.9 229.6 399.1 229.6C400.3 229.6 401.5 229.2 402.7 228.9C405.1 228.1 407.5 226.3 409.9 226.3C411.4 226.3 412.8 227.3 414.3 227.7C415.7 228.1 417.1 228.7 418.6 228.7C419.5 228.7 420.5 228.4 421.5 228.4C422.9 228.4 424.3 229.5 425.8 229.5C428.9 229.5 431.9 228.6 435.0 228.6C437.4 228.6 439.8 228.7 442.2 228.9C444.1 229.0 446.0 229.5 448.0 229.5C450.4 229.5 452.8 228.4 455.2 228.4C458.1 228.4 460.9 229.6 463.8 229.6C465.3 229.6 466.7 227.7 468.1 227.7C469.6 227.7 471.0 230.3 472.5 230.3C473.9 230.3 475.3 230.4 476.8 229.9C478.7 229.3 480.6 227.9 482.6 227.0C483.5 226.6 484.5 227.1 485.4 226.0C486.2 225.2 486.9 222.4 487.6 221.2C488.3 220.1 489.0 219.1 489.8 219.1C490.5 219.1 491.2 219.8 491.9 219.8C493.1 219.8 494.3 216.5 495.5 216.5C496.5 216.5 497.4 219.9 498.4 221.2C499.1 222.3 499.8 223.7 500.6 223.7C501.5 223.7 502.5 222.2 503.4 222.2C504.4 222.2 505.4 224.0 506.3 224.8C507.5 225.9 508.7 227.7 509.9 227.7C511.4 227.7 512.8 227.4 514.3 227.0C515.5 226.7 516.7 225.6 517.9 225.6C518.8 225.6 519.8 226.6 520.7 226.6C521.5 226.6 522.2 224.8 522.9 224.8C524.1 224.8 525.3 226.7 526.5 226.7C527.7 226.7 528.9 225.3 530.1 224.8C531.3 224.4 532.5 224.4 533.7 224.1" stroke="#000" stroke-width="1.2" fill="none" stroke-linejoin="round"/>
<text class="s" x="551.2" y="236.3" font-size="20.7" fill="#000">2</text>
<path d="M87.0 213.6C103.0 213.6 119.0 213.7 135.0 213.6C139.3 213.6 143.6 213.6 148.0 213.3C149.4 213.2 150.9 213.1 152.3 212.6C153.7 212.1 155.2 210.4 156.6 210.4C157.8 210.4 159.0 210.6 160.2 210.7C161.7 210.9 163.1 211.4 164.5 211.4C166.0 211.4 167.4 209.3 168.9 209.3C169.8 209.3 170.8 210.1 171.7 210.1C172.9 210.1 174.1 208.8 175.3 207.6C176.3 206.5 177.3 205.8 178.2 203.2C178.9 201.3 179.7 196.4 180.4 193.9C181.0 191.6 181.6 188.8 182.3 188.8C182.8 188.8 183.4 189.7 184.0 191.0C184.6 192.3 185.1 195.8 185.7 196.7C186.6 198.2 187.4 197.3 188.3 198.2C189.5 199.4 190.7 201.8 191.9 202.8C192.9 203.6 193.8 203.2 194.8 203.7C196.0 204.3 197.2 206.1 198.4 206.1C199.4 206.1 200.3 204.1 201.3 203.5C202.2 203.0 203.2 202.8 204.2 202.8C205.1 202.8 206.1 203.7 207.0 204.2C208.0 204.7 209.0 205.8 209.9 205.8C211.1 205.8 212.3 205.3 213.5 205.0C214.3 204.8 215.0 204.4 215.7 204.4C217.1 204.4 218.6 206.4 220.0 206.4C221.0 206.4 221.9 206.1 222.9 206.1C224.6 206.1 226.3 208.3 227.9 208.3C230.3 208.3 232.6 208.1 235.0 208.1C236.4 208.0 237.9 207.8 239.3 207.8C240.8 207.8 242.2 210.1 243.6 210.1C244.8 210.1 246.0 210.2 247.2 209.7C248.2 209.3 249.2 207.6 250.1 207.6C251.3 207.6 252.5 209.7 253.7 209.7C255.7 209.7 257.6 208.3 259.5 208.3C260.9 208.3 262.4 209.0 263.8 209.0C265.7 209.0 267.7 208.6 269.6 208.6C271.5 208.6 273.4 209.3 275.3 209.7C277.3 210.1 279.2 211.2 281.1 211.2C282.8 211.2 284.5 211.0 286.2 210.7C287.6 210.5 289.0 209.4 290.5 209.4C291.7 209.4 292.9 210.4 294.1 210.4C295.5 210.4 297.0 209.7 298.4 209.7C300.1 209.7 301.8 209.9 303.4 210.1C305.1 210.4 306.8 211.0 308.5 211.2C311.4 211.5 314.3 211.6 317.1 211.6C319.5 211.6 321.9 211.2 324.3 211.2C327.9 211.0 331.4 210.9 335.0 210.9C336.4 210.9 337.9 211.9 339.3 211.9C341.2 211.9 343.2 211.2 345.1 211.2C347.5 211.2 349.9 211.6 352.3 211.6C353.7 211.6 355.2 211.5 356.6 211.2C357.8 210.9 359.0 209.7 360.2 209.7C361.7 209.7 363.1 210.9 364.5 210.9C366.2 210.9 367.9 210.4 369.6 210.4C372.0 210.4 374.4 212.2 376.8 212.2C379.2 212.2 381.6 211.5 384.0 211.2C385.9 210.9 387.8 210.4 389.8 210.4C392.2 210.4 394.6 211.6 397.0 211.6C398.4 211.6 399.8 210.7 401.3 210.7C402.7 210.7 404.2 211.6 405.6 211.6C407.5 211.6 409.4 210.4 411.4 210.4C412.6 210.4 413.8 211.2 415.0 211.2C416.4 211.2 417.9 209.4 419.3 209.4C421.0 209.4 422.7 210.1 424.3 210.1C426.3 210.1 428.2 209.0 430.1 209.0C431.7 209.0 433.4 209.6 435.0 209.6C437.4 209.6 439.8 208.7 442.2 208.7C444.1 208.7 446.0 209.0 448.0 209.4C449.4 209.7 450.9 210.7 452.3 210.7C453.7 210.7 455.2 209.7 456.6 209.7C459.0 209.7 461.4 211.2 463.8 211.2C465.3 211.2 466.7 210.5 468.1 209.7C469.3 209.1 470.5 206.8 471.7 206.8C473.2 206.8 474.6 209.4 476.1 209.4C477.7 209.4 479.4 206.8 481.1 206.8C482.6 206.8 484.0 207.4 485.4 207.8C487.4 208.4 489.3 209.4 491.2 210.0C492.6 210.5 494.1 211.2 495.5 211.2C496.7 211.2 497.9 209.4 499.1 209.4C500.6 209.4 502.0 210.4 503.4 210.4C505.6 210.4 507.8 210.0 509.9 210.0C511.8 210.0 513.8 210.4 515.7 210.4C517.6 210.4 519.5 209.7 521.5 209.7C523.4 209.7 525.3 210.1 527.2 210.4C528.4 210.6 529.6 211.2 530.8 211.2C531.8 211.2 532.7 210.7 533.7 210.4" stroke="#000" stroke-width="1.2" fill="none" stroke-linejoin="round"/>
<text class="s" x="551.2" y="218.7" font-size="20.7" fill="#000">7</text>
<path d="M87.0 196.0C103.0 196.0 119.0 196.2 135.0 196.0C139.8 195.9 144.6 195.8 149.4 195.3C150.4 195.2 151.3 194.7 152.3 194.3C153.5 193.8 154.7 192.8 155.9 192.4C156.9 192.1 157.8 192.3 158.8 192.3C159.7 192.3 160.7 192.5 161.7 192.7C162.6 192.9 163.6 193.4 164.5 193.4C165.5 193.4 166.5 191.7 167.4 191.3C168.1 190.9 168.9 191.0 169.6 191.0C170.4 191.0 171.3 192.6 172.2 192.6C173.0 192.6 173.8 191.4 174.6 190.3C175.4 189.2 176.3 188.3 177.1 185.9C177.7 184.2 178.3 180.3 178.9 178.0C179.7 175.4 180.4 171.2 181.1 171.2C181.8 171.2 182.6 172.5 183.3 173.7C183.8 174.5 184.2 176.6 184.7 177.3C185.3 178.2 186.0 178.1 186.6 178.7C187.4 179.6 188.2 181.0 189.0 181.9C189.8 182.7 190.5 183.8 191.2 183.8C191.9 183.8 192.6 183.3 193.4 183.3C194.5 183.3 195.6 186.2 196.7 186.2C197.7 186.2 198.8 183.3 199.8 183.3C200.8 183.3 201.8 183.3 202.7 183.5C203.7 183.7 204.6 184.0 205.6 184.5C206.8 185.1 208.0 186.3 209.2 186.7C210.6 187.1 212.1 186.8 213.5 187.1C214.7 187.3 215.9 187.7 217.1 188.1C218.1 188.4 219.1 189.4 220.0 189.4C220.7 189.4 221.5 188.8 222.2 188.8C223.6 188.8 225.1 191.0 226.5 191.0C227.7 191.0 228.9 188.5 230.1 188.5C231.7 188.5 233.4 190.0 235.0 190.0C236.2 190.0 237.4 189.8 238.6 189.8C240.0 189.8 241.5 191.3 242.9 191.7C244.4 192.1 245.8 192.4 247.2 192.4C248.4 192.4 249.6 191.0 250.9 190.7C252.8 190.2 254.7 190.3 256.6 190.3C258.3 190.3 260.0 191.0 261.7 191.0C263.1 191.0 264.5 190.5 266.0 190.5C267.4 190.5 268.9 190.3 270.3 190.7C271.7 191.1 273.2 192.9 274.6 192.9C275.8 192.9 277.0 192.0 278.2 192.0C279.7 192.0 281.1 193.1 282.6 193.1C284.2 193.1 285.9 192.4 287.6 192.4C289.8 192.4 291.9 192.9 294.1 192.9C295.5 192.9 297.0 192.3 298.4 192.3C301.3 192.3 304.2 192.9 307.0 193.1C309.9 193.3 312.8 193.2 315.7 193.4C318.1 193.6 320.5 194.3 322.9 194.3C324.8 194.3 326.7 193.1 328.7 193.1C330.8 193.1 332.9 193.7 335.0 193.7C337.4 193.7 339.8 193.4 342.2 193.1C344.1 192.9 346.0 192.4 348.0 192.4C350.9 192.4 353.7 193.9 356.6 193.9C359.0 193.9 361.4 193.2 363.8 192.9C365.3 192.7 366.7 192.4 368.1 192.4C370.1 192.4 372.0 193.3 373.9 193.4C376.3 193.6 378.7 193.6 381.1 193.4C383.3 193.3 385.4 192.4 387.6 192.4C389.3 192.4 391.0 193.4 392.6 193.4C394.6 193.4 396.5 192.4 398.4 192.4C400.8 192.4 403.2 192.7 405.6 192.9C408.0 193.0 410.4 193.4 412.8 193.4C414.7 193.4 416.7 192.6 418.6 192.4C421.0 192.2 423.4 192.3 425.8 192.4C428.9 192.6 431.9 193.3 435.0 193.3C437.4 193.3 439.8 192.0 442.2 192.0C444.4 192.0 446.5 193.1 448.7 193.1C450.4 193.1 452.1 192.0 453.7 192.0C455.9 192.0 458.1 192.2 460.2 192.4C462.4 192.7 464.5 193.4 466.7 193.4C469.1 193.4 471.5 192.9 473.9 192.9C475.8 192.9 477.7 193.2 479.7 193.4C481.6 193.6 483.5 194.1 485.4 194.1C487.8 194.1 490.2 193.6 492.6 193.4C494.6 193.3 496.5 193.1 498.4 193.1C500.3 193.1 502.2 193.4 504.2 193.4C506.1 193.4 508.0 193.3 509.9 193.1C511.8 193.0 513.8 192.4 515.7 192.4C517.6 192.4 519.5 192.9 521.5 192.9C523.1 192.9 524.8 192.0 526.5 192.0C527.9 192.0 529.4 193.1 530.8 193.1C531.8 193.1 532.7 192.9 533.7 192.9" stroke="#000" stroke-width="1.2" fill="none" stroke-linejoin="round"/>
<text class="s" x="551.2" y="201.1" font-size="20.7" fill="#000">13</text>
<path d="M86.6 138.0C102.7 138.0 118.9 138.0 135.0 138.1C137.4 138.1 139.8 138.0 142.2 138.1C143.2 138.1 144.1 138.5 145.1 138.5C146.3 138.5 147.5 137.9 148.7 137.2C149.6 136.6 150.6 135.9 151.6 134.8C152.5 133.6 153.5 131.5 154.5 130.4C155.1 129.8 155.7 129.7 156.3 129.7C157.1 129.7 158.0 131.2 158.8 131.6C159.7 132.0 160.7 132.2 161.7 132.2C162.6 132.2 163.6 131.4 164.5 130.4C165.5 129.4 166.5 128.0 167.4 126.1C168.4 124.2 169.3 121.1 170.3 118.9C171.0 117.3 171.7 115.9 172.5 114.6C173.2 113.3 173.9 112.9 174.6 111.0C175.3 109.1 176.1 105.6 176.8 103.1C177.5 100.5 178.2 97.1 178.9 95.6C179.7 94.1 180.4 94.3 181.1 94.1C182.8 93.8 184.5 94.0 186.2 94.0C186.9 94.0 187.6 94.8 188.3 95.6C189.0 96.3 189.8 97.8 190.5 98.3C191.4 98.9 192.4 98.1 193.4 98.7C194.0 99.2 194.6 100.6 195.2 101.6C195.8 102.5 196.4 104.5 197.0 104.5C197.7 104.5 198.4 101.8 199.1 100.9C199.7 100.1 200.4 99.2 201.0 99.2C201.7 99.2 202.3 100.5 203.0 101.6C203.9 103.0 204.7 105.6 205.6 106.7C206.3 107.5 207.0 107.4 207.8 107.4C208.4 107.4 209.0 106.2 209.6 106.2C210.7 106.2 211.8 110.3 212.8 110.3C214.0 110.3 215.2 107.1 216.4 107.1C217.4 107.1 218.3 109.2 219.3 110.3C220.5 111.6 221.7 113.4 222.9 114.3C224.3 115.4 225.8 115.7 227.2 116.3C228.2 116.7 229.1 117.2 230.1 117.2C231.7 117.2 233.4 116.5 235.0 116.5C236.2 116.5 237.4 118.5 238.6 118.9C240.3 119.5 242.0 119.3 243.6 119.6C245.6 120.0 247.5 120.4 249.4 120.8C250.9 121.1 252.3 121.8 253.7 121.8C255.2 121.8 256.6 120.3 258.1 120.3C259.3 120.3 260.5 120.9 261.7 121.4C262.9 121.8 264.1 122.9 265.3 122.9C266.5 122.9 267.7 121.4 268.9 121.4C270.5 121.4 272.2 122.2 273.9 122.5C275.8 122.8 277.7 123.2 279.7 123.2C281.1 123.2 282.6 122.1 284.0 122.1C285.7 122.1 287.4 125.4 289.0 125.4C290.7 125.4 292.4 124.2 294.1 124.2C295.3 124.2 296.5 124.3 297.7 124.7C298.9 125.0 300.1 126.4 301.3 126.4C302.7 126.4 304.2 123.2 305.6 123.2C307.0 123.2 308.5 124.2 309.9 124.2C311.4 124.2 312.8 123.9 314.3 123.9C315.7 123.9 317.1 125.0 318.6 125.4C320.5 125.9 322.4 126.8 324.3 126.8C326.3 126.8 328.2 125.0 330.1 125.0C331.7 125.0 333.4 125.1 335.0 125.4C336.0 125.6 336.9 126.4 337.9 126.4C339.3 126.4 340.8 125.1 342.2 125.1C344.1 125.1 346.0 125.2 348.0 125.4C349.6 125.6 351.3 126.4 353.0 126.4C354.5 126.4 355.9 124.4 357.3 124.4C359.0 124.4 360.7 125.4 362.4 125.4C364.3 125.4 366.2 125.1 368.1 125.1C370.1 125.1 372.0 125.9 373.9 126.1C376.3 126.4 378.7 126.8 381.1 126.8C382.6 126.8 384.0 123.2 385.4 123.2C386.9 123.2 388.3 124.1 389.8 124.4C392.2 124.8 394.6 125.4 397.0 125.4C398.4 125.4 399.8 122.8 401.3 122.8C402.7 122.8 404.2 123.7 405.6 124.2C407.0 124.8 408.5 125.7 409.9 126.1C411.4 126.5 412.8 126.4 414.3 126.4C415.7 126.4 417.1 125.4 418.6 125.0C420.0 124.5 421.5 123.5 422.9 123.5C424.3 123.5 425.8 123.9 427.2 123.9C429.8 123.9 432.4 122.9 435.0 122.9C436.4 122.9 437.9 125.1 439.3 125.1C441.2 125.1 443.2 122.5 445.1 122.5C447.0 122.5 448.9 123.2 450.9 123.2C452.8 123.2 454.7 121.6 456.6 121.4C459.5 121.0 462.4 121.0 465.3 121.4C466.7 121.5 468.1 122.1 469.6 122.8C471.0 123.5 472.5 125.4 473.9 125.4C475.3 125.4 476.8 123.2 478.2 123.2C479.2 123.2 480.1 124.4 481.1 124.4C482.3 124.4 483.5 123.2 484.7 123.2C485.9 123.2 487.1 123.9 488.3 123.9C489.8 123.9 491.2 122.5 492.6 122.5C494.1 122.5 495.5 124.2 497.0 124.2C498.6 124.2 500.3 123.9 502.0 123.9C503.7 123.9 505.4 126.1 507.0 126.1C509.0 126.1 510.9 125.9 512.8 125.8C514.5 125.8 516.2 126.0 517.9 125.8C519.1 125.7 520.3 125.2 521.5 124.7C522.3 124.3 523.2 123.2 524.0 123.2C525.1 123.2 526.2 124.3 527.2 124.4C529.4 124.6 531.5 124.4 533.7 124.4" stroke="#f00" stroke-width="1.2" fill="none" stroke-linejoin="round"/>
<g class="s" fill="#000"><text x="591.8" y="873.4" font-size="23" stroke="#000" stroke-width="0.4" textLength="29.6" lengthAdjust="spacingAndGlyphs">I<tspan font-size="18.5">RIS</tspan></text></g>
<text class="h" x="583.2" y="879.4" font-size="6" fill="#000" textLength="47.3" lengthAdjust="spacingAndGlyphs">www.iris.edu/spud</text>
<path d="M592 856.2 H604.5 L605.5 855.4 L606.3 856.6 L607 850.5 L607.8 858 L608.6 855.6 L609.5 856.2 H621" stroke="#999" stroke-width="0.5" fill="none"/>
</svg></body></html>
